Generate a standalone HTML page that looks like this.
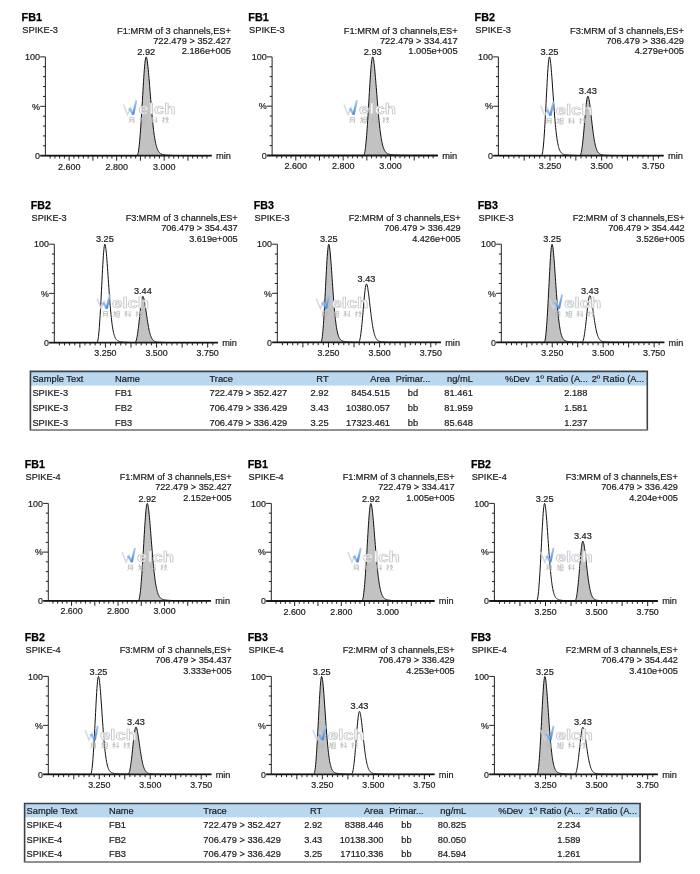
<!DOCTYPE html>
<html><head><meta charset="utf-8"><title>Chromatograms</title>
<style>html,body{margin:0;padding:0;background:#fff;width:700px;height:874px;overflow:hidden}
svg{display:block;font-family:"Liberation Sans", sans-serif;will-change:transform}</style></head>
<body><svg width="700" height="874" viewBox="0 0 700 874">
<defs><filter id="soft" x="0" y="0" width="700" height="874" filterUnits="userSpaceOnUse"><feGaussianBlur stdDeviation="0.45"/></filter></defs>
<rect width="700" height="874" fill="#fff"/>
<g filter="url(#soft)">
<text x="21.6" y="20.9" font-size="10.8" font-weight="bold" fill="#000" stroke="#000" stroke-width="0.25">FB1</text>
<text transform="translate(22.3,33.3) scale(1,1.06)" x="0" y="0" font-size="9.3" fill="#1a1a1a" stroke="#1a1a1a" stroke-width="0.2">SPIKE-3</text>
<text transform="translate(231,33.5) scale(1,1.06)" x="0" y="0" font-size="9.3" text-anchor="end" fill="#1a1a1a" stroke="#1a1a1a" stroke-width="0.2">F1:MRM of 3 channels,ES+</text>
<text transform="translate(231,43.7) scale(1,1.06)" x="0" y="0" font-size="9.3" text-anchor="end" fill="#1a1a1a" stroke="#1a1a1a" stroke-width="0.2">722.479 &gt; 352.427</text>
<text transform="translate(231,54.4) scale(1,1.06)" x="0" y="0" font-size="9.3" text-anchor="end" fill="#1a1a1a" stroke="#1a1a1a" stroke-width="0.2">2.186e+005</text>
<polygon points="135.22,155.7 135.48,155.7 135.76,155.7 136.03,155.7 136.31,155.69 136.59,155.66 136.86,155.58 137.14,155.4 137.42,155.07 137.7,154.5 137.97,153.65 138.25,152.46 138.53,150.91 138.81,149 139.08,146.73 139.36,144.13 139.64,141.23 139.91,138.05 140.19,134.61 140.47,130.95 140.75,127.07 141.02,122.99 141.3,118.73 141.58,114.32 141.85,109.76 142.13,105.11 142.41,100.38 142.69,95.63 142.96,90.9 143.24,86.24 143.52,81.72 143.79,77.4 144.07,73.35 144.35,69.61 144.63,66.26 144.9,63.36 145.18,60.94 145.46,59.07 145.73,57.76 146.01,57.04 146.29,56.95 146.57,57.51 146.84,58.57 147.12,60.06 147.4,61.91 147.67,64.09 147.95,66.57 148.23,69.3 148.51,72.24 148.78,75.37 149.06,78.64 149.34,82.02 149.61,85.49 149.89,89.01 150.17,92.55 150.45,96.08 150.72,99.59 151,103.05 151.28,106.43 151.55,109.73 151.83,112.93 152.11,116.01 152.39,118.97 152.66,121.79 152.94,124.47 153.22,127.01 153.49,129.4 153.77,131.65 154.05,133.75 154.33,135.7 154.6,137.52 154.88,139.2 155.16,140.74 155.44,142.16 155.71,143.46 155.99,144.65 156.27,145.73 156.54,146.71 156.82,147.59 157.1,148.39 157.38,149.11 157.65,149.76 157.93,150.34 158.21,150.86 158.48,151.32 158.76,151.74 159.04,152.1 159.32,152.43 159.59,152.72 159.87,152.98 160.15,153.21 160.42,153.41 160.7,153.59 160.98,153.75 161.26,153.9 161.53,154.03 161.81,154.14 162.09,154.24 162.36,154.33 162.64,154.42 162.92,154.49 163.2,154.56 163.47,154.62 163.75,154.68 164.03,154.73 164.3,154.78 164.58,154.82 164.86,154.86 165.14,154.9 165.41,154.93 165.69,154.97 165.97,155 166.24,155.03 166.52,155.06 166.8,155.08 167.08,155.11 167.35,155.13 167.63,155.15 167.91,155.17 168.18,155.2 168.46,155.21 168.74,155.23 169.02,155.25 169.29,155.27 169.57,155.29 169.85,155.3 170.12,155.32 170.4,155.33 170.68,155.35 170.96,155.36 171.23,155.37 171.51,155.38 171.79,155.4 171.86,155.7" fill="#c2c2c2" stroke="none"/>
<path d="M40.2,155.7H45.4M43,145.82H45.4M43,135.94H45.4M43,126.06H45.4M43,116.18H45.4M40.2,106.3H45.4M43,96.42H45.4M43,86.54H45.4M43,76.66H45.4M43,66.78H45.4M40.2,56.9H45.4M45.4,56.9V155.7" stroke="#222" stroke-width="1" fill="none"/>
<path d="M50.15,155.7V158.5M54.9,155.7V158.5M59.65,155.7V158.5M64.41,155.7V158.5M69.16,155.7V160.7M73.91,155.7V158.5M78.66,155.7V158.5M83.41,155.7V158.5M88.16,155.7V158.5M92.91,155.7V160.7M97.67,155.7V158.5M102.42,155.7V158.5M107.17,155.7V158.5M111.92,155.7V158.5M116.67,155.7V160.7M121.42,155.7V158.5M126.17,155.7V158.5M130.93,155.7V158.5M135.68,155.7V158.5M140.43,155.7V160.7M145.18,155.7V158.5M149.93,155.7V158.5M154.68,155.7V158.5M159.43,155.7V158.5M164.19,155.7V160.7M168.94,155.7V158.5M173.69,155.7V158.5M178.44,155.7V158.5M183.19,155.7V158.5M187.94,155.7V160.7M192.69,155.7V158.5M197.45,155.7V158.5M202.2,155.7V158.5M206.95,155.7V158.5" stroke="#222" stroke-width="1" fill="none"/>
<path d="M40.4,155.7H211.7" stroke="#1a1a1a" stroke-width="1.8" fill="none"/>
<polyline points="45.4,155.7 45.68,155.7 45.95,155.7 46.23,155.7 46.51,155.7 46.79,155.7 47.06,155.7 47.34,155.7 47.62,155.7 47.89,155.7 48.17,155.7 48.45,155.7 48.73,155.7 49,155.7 49.28,155.7 49.56,155.7 49.83,155.7 50.11,155.7 50.39,155.7 50.67,155.7 50.94,155.7 51.22,155.7 51.5,155.7 51.77,155.7 52.05,155.7 52.33,155.7 52.61,155.7 52.88,155.7 53.16,155.7 53.44,155.7 53.71,155.7 53.99,155.7 54.27,155.7 54.55,155.7 54.82,155.7 55.1,155.7 55.38,155.7 55.66,155.7 55.93,155.7 56.21,155.7 56.49,155.7 56.76,155.7 57.04,155.7 57.32,155.7 57.6,155.7 57.87,155.7 58.15,155.7 58.43,155.7 58.7,155.7 58.98,155.7 59.26,155.7 59.54,155.7 59.81,155.7 60.09,155.7 60.37,155.7 60.64,155.7 60.92,155.7 61.2,155.7 61.48,155.7 61.75,155.7 62.03,155.7 62.31,155.7 62.58,155.7 62.86,155.7 63.14,155.7 63.42,155.7 63.69,155.7 63.97,155.7 64.25,155.7 64.52,155.7 64.8,155.7 65.08,155.7 65.36,155.7 65.63,155.7 65.91,155.7 66.19,155.7 66.46,155.7 66.74,155.7 67.02,155.7 67.3,155.7 67.57,155.7 67.85,155.7 68.13,155.7 68.4,155.7 68.68,155.7 68.96,155.7 69.24,155.7 69.51,155.7 69.79,155.7 70.07,155.7 70.34,155.7 70.62,155.7 70.9,155.7 71.18,155.7 71.45,155.7 71.73,155.7 72.01,155.7 72.29,155.7 72.56,155.7 72.84,155.7 73.12,155.7 73.39,155.7 73.67,155.7 73.95,155.7 74.23,155.7 74.5,155.7 74.78,155.7 75.06,155.7 75.33,155.7 75.61,155.7 75.89,155.7 76.17,155.7 76.44,155.7 76.72,155.7 77,155.7 77.27,155.7 77.55,155.7 77.83,155.7 78.11,155.7 78.38,155.7 78.66,155.7 78.94,155.7 79.21,155.7 79.49,155.7 79.77,155.7 80.05,155.7 80.32,155.7 80.6,155.7 80.88,155.7 81.15,155.7 81.43,155.7 81.71,155.7 81.99,155.7 82.26,155.7 82.54,155.7 82.82,155.7 83.09,155.7 83.37,155.7 83.65,155.7 83.93,155.7 84.2,155.7 84.48,155.7 84.76,155.7 85.03,155.7 85.31,155.7 85.59,155.7 85.87,155.7 86.14,155.7 86.42,155.7 86.7,155.7 86.97,155.7 87.25,155.7 87.53,155.7 87.81,155.7 88.08,155.7 88.36,155.7 88.64,155.7 88.92,155.7 89.19,155.7 89.47,155.7 89.75,155.7 90.02,155.7 90.3,155.7 90.58,155.7 90.86,155.7 91.13,155.7 91.41,155.7 91.69,155.7 91.96,155.7 92.24,155.7 92.52,155.7 92.8,155.7 93.07,155.7 93.35,155.7 93.63,155.7 93.9,155.7 94.18,155.7 94.46,155.7 94.74,155.7 95.01,155.7 95.29,155.7 95.57,155.7 95.84,155.7 96.12,155.7 96.4,155.7 96.68,155.7 96.95,155.7 97.23,155.7 97.51,155.7 97.78,155.7 98.06,155.7 98.34,155.7 98.62,155.7 98.89,155.7 99.17,155.7 99.45,155.7 99.72,155.7 100,155.7 100.28,155.7 100.56,155.7 100.83,155.7 101.11,155.7 101.39,155.7 101.66,155.7 101.94,155.7 102.22,155.7 102.5,155.7 102.77,155.7 103.05,155.7 103.33,155.7 103.6,155.7 103.88,155.7 104.16,155.7 104.44,155.7 104.71,155.7 104.99,155.7 105.27,155.7 105.55,155.7 105.82,155.7 106.1,155.7 106.38,155.7 106.65,155.7 106.93,155.7 107.21,155.7 107.49,155.7 107.76,155.7 108.04,155.7 108.32,155.7 108.59,155.7 108.87,155.7 109.15,155.7 109.43,155.7 109.7,155.7 109.98,155.7 110.26,155.7 110.53,155.7 110.81,155.7 111.09,155.7 111.37,155.7 111.64,155.7 111.92,155.7 112.2,155.7 112.47,155.7 112.75,155.7 113.03,155.7 113.31,155.7 113.58,155.7 113.86,155.7 114.14,155.7 114.41,155.7 114.69,155.7 114.97,155.7 115.25,155.7 115.52,155.7 115.8,155.7 116.08,155.7 116.35,155.7 116.63,155.7 116.91,155.7 117.19,155.7 117.46,155.7 117.74,155.7 118.02,155.7 118.29,155.7 118.57,155.7 118.85,155.7 119.13,155.7 119.4,155.7 119.68,155.7 119.96,155.7 120.23,155.7 120.51,155.7 120.79,155.7 121.07,155.7 121.34,155.7 121.62,155.7 121.9,155.7 122.18,155.7 122.45,155.7 122.73,155.7 123.01,155.7 123.28,155.7 123.56,155.7 123.84,155.7 124.12,155.7 124.39,155.7 124.67,155.7 124.95,155.7 125.22,155.7 125.5,155.7 125.78,155.7 126.06,155.7 126.33,155.7 126.61,155.7 126.89,155.7 127.16,155.7 127.44,155.7 127.72,155.7 128,155.7 128.27,155.7 128.55,155.7 128.83,155.7 129.1,155.7 129.38,155.7 129.66,155.7 129.94,155.7 130.21,155.7 130.49,155.7 130.77,155.7 131.04,155.7 131.32,155.7 131.6,155.7 131.88,155.7 132.15,155.7 132.43,155.7 132.71,155.7 132.98,155.7 133.26,155.7 133.54,155.7 133.82,155.7 134.09,155.7 134.37,155.7 134.65,155.7 134.92,155.7 135.2,155.7 135.48,155.7 135.76,155.7 136.03,155.7 136.31,155.69 136.59,155.66 136.86,155.58 137.14,155.4 137.42,155.07 137.7,154.5 137.97,153.65 138.25,152.46 138.53,150.91 138.81,149 139.08,146.73 139.36,144.13 139.64,141.23 139.91,138.05 140.19,134.61 140.47,130.95 140.75,127.07 141.02,122.99 141.3,118.73 141.58,114.32 141.85,109.76 142.13,105.11 142.41,100.38 142.69,95.63 142.96,90.9 143.24,86.24 143.52,81.72 143.79,77.4 144.07,73.35 144.35,69.61 144.63,66.26 144.9,63.36 145.18,60.94 145.46,59.07 145.73,57.76 146.01,57.04 146.29,56.95 146.57,57.51 146.84,58.57 147.12,60.06 147.4,61.91 147.67,64.09 147.95,66.57 148.23,69.3 148.51,72.24 148.78,75.37 149.06,78.64 149.34,82.02 149.61,85.49 149.89,89.01 150.17,92.55 150.45,96.08 150.72,99.59 151,103.05 151.28,106.43 151.55,109.73 151.83,112.93 152.11,116.01 152.39,118.97 152.66,121.79 152.94,124.47 153.22,127.01 153.49,129.4 153.77,131.65 154.05,133.75 154.33,135.7 154.6,137.52 154.88,139.2 155.16,140.74 155.44,142.16 155.71,143.46 155.99,144.65 156.27,145.73 156.54,146.71 156.82,147.59 157.1,148.39 157.38,149.11 157.65,149.76 157.93,150.34 158.21,150.86 158.48,151.32 158.76,151.74 159.04,152.1 159.32,152.43 159.59,152.72 159.87,152.98 160.15,153.21 160.42,153.41 160.7,153.59 160.98,153.75 161.26,153.9 161.53,154.03 161.81,154.14 162.09,154.24 162.36,154.33 162.64,154.42 162.92,154.49 163.2,154.56 163.47,154.62 163.75,154.68 164.03,154.73 164.3,154.78 164.58,154.82 164.86,154.86 165.14,154.9 165.41,154.93 165.69,154.97 165.97,155 166.24,155.03 166.52,155.06 166.8,155.08 167.08,155.11 167.35,155.13 167.63,155.15 167.91,155.17 168.18,155.2 168.46,155.21 168.74,155.23 169.02,155.25 169.29,155.27 169.57,155.29 169.85,155.3 170.12,155.32 170.4,155.33 170.68,155.35 170.96,155.36 171.23,155.37 171.51,155.38 171.79,155.4 172.07,155.41 172.34,155.42 172.62,155.43 172.9,155.44 173.17,155.45 173.45,155.46 173.73,155.47 174.01,155.48 174.28,155.49 174.56,155.49 174.84,155.5 175.11,155.51 175.39,155.52 175.67,155.52 175.95,155.53 176.22,155.54 176.5,155.54 176.78,155.55 177.05,155.56 177.33,155.56 177.61,155.57 177.89,155.57 178.16,155.58 178.44,155.58 178.72,155.59 178.99,155.59 179.27,155.59 179.55,155.6 179.83,155.6 180.1,155.61 180.38,155.61 180.66,155.61 180.93,155.62 181.21,155.62 181.49,155.62 181.77,155.63 182.04,155.63 182.32,155.63 182.6,155.63 182.87,155.64 183.15,155.64 183.43,155.64 183.71,155.64 183.98,155.65 184.26,155.65 184.54,155.65 184.81,155.65 185.09,155.65 185.37,155.65 185.65,155.66 185.92,155.66 186.2,155.66 186.48,155.66 186.75,155.66 187.03,155.66 187.31,155.67 187.59,155.67 187.86,155.67 188.14,155.67 188.42,155.67 188.7,155.67 188.97,155.67 189.25,155.67 189.53,155.67 189.8,155.68 190.08,155.68 190.36,155.68 190.64,155.68 190.91,155.68 191.19,155.68 191.47,155.68 191.74,155.68 192.02,155.68 192.3,155.68 192.58,155.68 192.85,155.68 193.13,155.68 193.41,155.69 193.68,155.69 193.96,155.69 194.24,155.69 194.52,155.69 194.79,155.69 195.07,155.69 195.35,155.69 195.62,155.69 195.9,155.69 196.18,155.69 196.46,155.69 196.73,155.69 197.01,155.69 197.29,155.69 197.56,155.69 197.84,155.69 198.12,155.69 198.4,155.69 198.67,155.69 198.95,155.69 199.23,155.69 199.5,155.69 199.78,155.69 200.06,155.69 200.34,155.69 200.61,155.69 200.89,155.69 201.17,155.7 201.44,155.7 201.72,155.7 202,155.7 202.28,155.7 202.55,155.7 202.83,155.7 203.11,155.7 203.38,155.7 203.66,155.7 203.94,155.7 204.22,155.7 204.49,155.7 204.77,155.7 205.05,155.7 205.33,155.7 205.6,155.7 205.88,155.7 206.16,155.7 206.43,155.7 206.71,155.7 206.99,155.7 207.27,155.7 207.54,155.7 207.82,155.7 208.1,155.7 208.37,155.7 208.65,155.7 208.93,155.7 209.21,155.7 209.48,155.7 209.76,155.7 210.04,155.7 210.31,155.7 210.59,155.7 210.87,155.7 211.15,155.7 211.42,155.7 211.7,155.7" fill="none" stroke="#111" stroke-width="1"/>
<text transform="translate(40,60.1) scale(1,1.06)" x="0" y="0" font-size="9" text-anchor="end" fill="#1a1a1a" stroke="#1a1a1a" stroke-width="0.2">100</text>
<text transform="translate(40,109.5) scale(1,1.06)" x="0" y="0" font-size="9" text-anchor="end" fill="#1a1a1a" stroke="#1a1a1a" stroke-width="0.2">%</text>
<text transform="translate(40,159.1) scale(1,1.06)" x="0" y="0" font-size="9" text-anchor="end" fill="#1a1a1a" stroke="#1a1a1a" stroke-width="0.2">0</text>
<text transform="translate(69.16,169.5) scale(1,1.06)" x="0" y="0" font-size="9" text-anchor="middle" fill="#1a1a1a" stroke="#1a1a1a" stroke-width="0.2">2.600</text>
<text transform="translate(116.67,169.5) scale(1,1.06)" x="0" y="0" font-size="9" text-anchor="middle" fill="#1a1a1a" stroke="#1a1a1a" stroke-width="0.2">2.800</text>
<text transform="translate(164.19,169.5) scale(1,1.06)" x="0" y="0" font-size="9" text-anchor="middle" fill="#1a1a1a" stroke="#1a1a1a" stroke-width="0.2">3.000</text>
<text transform="translate(216,159) scale(1,1.06)" x="0" y="0" font-size="9.3" fill="#1a1a1a" stroke="#1a1a1a" stroke-width="0.2">min</text>
<text transform="translate(146.2,55) scale(1,1.06)" x="0" y="0" font-size="9.3" text-anchor="middle" fill="#1a1a1a" stroke="#1a1a1a" stroke-width="0.2">2.92</text>
<text x="248.3" y="20.9" font-size="10.8" font-weight="bold" fill="#000" stroke="#000" stroke-width="0.25">FB1</text>
<text transform="translate(249,33.3) scale(1,1.06)" x="0" y="0" font-size="9.3" fill="#1a1a1a" stroke="#1a1a1a" stroke-width="0.2">SPIKE-3</text>
<text transform="translate(457.7,33.5) scale(1,1.06)" x="0" y="0" font-size="9.3" text-anchor="end" fill="#1a1a1a" stroke="#1a1a1a" stroke-width="0.2">F1:MRM of 3 channels,ES+</text>
<text transform="translate(457.7,43.7) scale(1,1.06)" x="0" y="0" font-size="9.3" text-anchor="end" fill="#1a1a1a" stroke="#1a1a1a" stroke-width="0.2">722.479 &gt; 334.417</text>
<text transform="translate(457.7,54.4) scale(1,1.06)" x="0" y="0" font-size="9.3" text-anchor="end" fill="#1a1a1a" stroke="#1a1a1a" stroke-width="0.2">1.005e+005</text>
<polygon points="361.76,155.5 361.91,155.5 362.18,155.5 362.46,155.5 362.74,155.49 363.01,155.47 363.29,155.41 363.57,155.28 363.84,155.01 364.12,154.55 364.4,153.81 364.67,152.75 364.95,151.34 365.22,149.57 365.5,147.43 365.78,144.96 366.05,142.17 366.33,139.1 366.61,135.76 366.88,132.19 367.16,128.4 367.44,124.4 367.71,120.21 367.99,115.86 368.26,111.37 368.54,106.75 368.82,102.06 369.09,97.32 369.37,92.58 369.65,87.9 369.92,83.34 370.2,78.94 370.47,74.79 370.75,70.93 371.03,67.44 371.3,64.37 371.58,61.77 371.86,59.7 372.13,58.17 372.41,57.24 372.69,56.9 372.96,57.24 373.24,58.12 373.51,59.45 373.79,61.17 374.07,63.23 374.34,65.6 374.62,68.23 374.9,71.09 375.17,74.15 375.45,77.36 375.73,80.7 376,84.13 376.28,87.63 376.55,91.16 376.83,94.69 377.11,98.2 377.38,101.67 377.66,105.08 377.94,108.41 378.21,111.64 378.49,114.76 378.76,117.76 379.04,120.62 379.32,123.35 379.59,125.94 379.87,128.38 380.15,130.68 380.42,132.83 380.7,134.83 380.98,136.7 381.25,138.42 381.53,140.01 381.8,141.48 382.08,142.82 382.36,144.04 382.63,145.16 382.91,146.17 383.19,147.09 383.46,147.92 383.74,148.67 384.01,149.34 384.29,149.94 384.57,150.48 384.84,150.97 385.12,151.4 385.4,151.78 385.67,152.12 385.95,152.42 386.23,152.69 386.5,152.93 386.78,153.14 387.05,153.33 387.33,153.5 387.61,153.65 387.88,153.78 388.16,153.9 388.44,154.01 388.71,154.1 388.99,154.19 389.27,154.27 389.54,154.34 389.82,154.4 390.09,154.46 390.37,154.51 390.65,154.56 390.92,154.61 391.2,154.65 391.48,154.69 391.75,154.72 392.03,154.76 392.31,154.79 392.58,154.82 392.86,154.85 393.13,154.87 393.41,154.9 393.69,154.92 393.96,154.95 394.24,154.97 394.52,154.99 394.79,155.01 395.07,155.03 395.34,155.05 395.62,155.06 395.9,155.08 396.17,155.1 396.45,155.11 396.73,155.13 397,155.14 397.28,155.16 397.56,155.17 397.83,155.18 398.11,155.19 398.28,155.5" fill="#c2c2c2" stroke="none"/>
<path d="M266.9,155.5H272.1M269.7,145.64H272.1M269.7,135.78H272.1M269.7,125.92H272.1M269.7,116.06H272.1M266.9,106.2H272.1M269.7,96.34H272.1M269.7,86.48H272.1M269.7,76.62H272.1M269.7,66.76H272.1M266.9,56.9H272.1M272.1,56.9V155.5" stroke="#222" stroke-width="1" fill="none"/>
<path d="M276.84,155.5V158.3M281.57,155.5V158.3M286.31,155.5V158.3M291.05,155.5V158.3M295.79,155.5V160.5M300.52,155.5V158.3M305.26,155.5V158.3M310,155.5V158.3M314.73,155.5V158.3M319.47,155.5V160.5M324.21,155.5V158.3M328.95,155.5V158.3M333.68,155.5V158.3M338.42,155.5V158.3M343.16,155.5V160.5M347.89,155.5V158.3M352.63,155.5V158.3M357.37,155.5V158.3M362.11,155.5V158.3M366.84,155.5V160.5M371.58,155.5V158.3M376.32,155.5V158.3M381.05,155.5V158.3M385.79,155.5V158.3M390.53,155.5V160.5M395.27,155.5V158.3M400,155.5V158.3M404.74,155.5V158.3M409.48,155.5V158.3M414.21,155.5V160.5M418.95,155.5V158.3M423.69,155.5V158.3M428.43,155.5V158.3M433.16,155.5V158.3" stroke="#222" stroke-width="1" fill="none"/>
<path d="M267.1,155.5H437.9" stroke="#1a1a1a" stroke-width="1.8" fill="none"/>
<polyline points="272.1,155.5 272.38,155.5 272.65,155.5 272.93,155.5 273.21,155.5 273.48,155.5 273.76,155.5 274.03,155.5 274.31,155.5 274.59,155.5 274.86,155.5 275.14,155.5 275.42,155.5 275.69,155.5 275.97,155.5 276.25,155.5 276.52,155.5 276.8,155.5 277.07,155.5 277.35,155.5 277.63,155.5 277.9,155.5 278.18,155.5 278.46,155.5 278.73,155.5 279.01,155.5 279.28,155.5 279.56,155.5 279.84,155.5 280.11,155.5 280.39,155.5 280.67,155.5 280.94,155.5 281.22,155.5 281.5,155.5 281.77,155.5 282.05,155.5 282.32,155.5 282.6,155.5 282.88,155.5 283.15,155.5 283.43,155.5 283.71,155.5 283.98,155.5 284.26,155.5 284.54,155.5 284.81,155.5 285.09,155.5 285.36,155.5 285.64,155.5 285.92,155.5 286.19,155.5 286.47,155.5 286.75,155.5 287.02,155.5 287.3,155.5 287.57,155.5 287.85,155.5 288.13,155.5 288.4,155.5 288.68,155.5 288.96,155.5 289.23,155.5 289.51,155.5 289.79,155.5 290.06,155.5 290.34,155.5 290.61,155.5 290.89,155.5 291.17,155.5 291.44,155.5 291.72,155.5 292,155.5 292.27,155.5 292.55,155.5 292.83,155.5 293.1,155.5 293.38,155.5 293.65,155.5 293.93,155.5 294.21,155.5 294.48,155.5 294.76,155.5 295.04,155.5 295.31,155.5 295.59,155.5 295.86,155.5 296.14,155.5 296.42,155.5 296.69,155.5 296.97,155.5 297.25,155.5 297.52,155.5 297.8,155.5 298.08,155.5 298.35,155.5 298.63,155.5 298.9,155.5 299.18,155.5 299.46,155.5 299.73,155.5 300.01,155.5 300.29,155.5 300.56,155.5 300.84,155.5 301.12,155.5 301.39,155.5 301.67,155.5 301.94,155.5 302.22,155.5 302.5,155.5 302.77,155.5 303.05,155.5 303.33,155.5 303.6,155.5 303.88,155.5 304.15,155.5 304.43,155.5 304.71,155.5 304.98,155.5 305.26,155.5 305.54,155.5 305.81,155.5 306.09,155.5 306.37,155.5 306.64,155.5 306.92,155.5 307.19,155.5 307.47,155.5 307.75,155.5 308.02,155.5 308.3,155.5 308.58,155.5 308.85,155.5 309.13,155.5 309.41,155.5 309.68,155.5 309.96,155.5 310.23,155.5 310.51,155.5 310.79,155.5 311.06,155.5 311.34,155.5 311.62,155.5 311.89,155.5 312.17,155.5 312.44,155.5 312.72,155.5 313,155.5 313.27,155.5 313.55,155.5 313.83,155.5 314.1,155.5 314.38,155.5 314.66,155.5 314.93,155.5 315.21,155.5 315.48,155.5 315.76,155.5 316.04,155.5 316.31,155.5 316.59,155.5 316.87,155.5 317.14,155.5 317.42,155.5 317.69,155.5 317.97,155.5 318.25,155.5 318.52,155.5 318.8,155.5 319.08,155.5 319.35,155.5 319.63,155.5 319.91,155.5 320.18,155.5 320.46,155.5 320.73,155.5 321.01,155.5 321.29,155.5 321.56,155.5 321.84,155.5 322.12,155.5 322.39,155.5 322.67,155.5 322.95,155.5 323.22,155.5 323.5,155.5 323.77,155.5 324.05,155.5 324.33,155.5 324.6,155.5 324.88,155.5 325.16,155.5 325.43,155.5 325.71,155.5 325.99,155.5 326.26,155.5 326.54,155.5 326.81,155.5 327.09,155.5 327.37,155.5 327.64,155.5 327.92,155.5 328.2,155.5 328.47,155.5 328.75,155.5 329.02,155.5 329.3,155.5 329.58,155.5 329.85,155.5 330.13,155.5 330.41,155.5 330.68,155.5 330.96,155.5 331.24,155.5 331.51,155.5 331.79,155.5 332.06,155.5 332.34,155.5 332.62,155.5 332.89,155.5 333.17,155.5 333.45,155.5 333.72,155.5 334,155.5 334.27,155.5 334.55,155.5 334.83,155.5 335.1,155.5 335.38,155.5 335.66,155.5 335.93,155.5 336.21,155.5 336.49,155.5 336.76,155.5 337.04,155.5 337.31,155.5 337.59,155.5 337.87,155.5 338.14,155.5 338.42,155.5 338.7,155.5 338.97,155.5 339.25,155.5 339.53,155.5 339.8,155.5 340.08,155.5 340.35,155.5 340.63,155.5 340.91,155.5 341.18,155.5 341.46,155.5 341.74,155.5 342.01,155.5 342.29,155.5 342.56,155.5 342.84,155.5 343.12,155.5 343.39,155.5 343.67,155.5 343.95,155.5 344.22,155.5 344.5,155.5 344.78,155.5 345.05,155.5 345.33,155.5 345.6,155.5 345.88,155.5 346.16,155.5 346.43,155.5 346.71,155.5 346.99,155.5 347.26,155.5 347.54,155.5 347.82,155.5 348.09,155.5 348.37,155.5 348.64,155.5 348.92,155.5 349.2,155.5 349.47,155.5 349.75,155.5 350.03,155.5 350.3,155.5 350.58,155.5 350.86,155.5 351.13,155.5 351.41,155.5 351.68,155.5 351.96,155.5 352.24,155.5 352.51,155.5 352.79,155.5 353.07,155.5 353.34,155.5 353.62,155.5 353.89,155.5 354.17,155.5 354.45,155.5 354.72,155.5 355,155.5 355.28,155.5 355.55,155.5 355.83,155.5 356.11,155.5 356.38,155.5 356.66,155.5 356.93,155.5 357.21,155.5 357.49,155.5 357.76,155.5 358.04,155.5 358.32,155.5 358.59,155.5 358.87,155.5 359.14,155.5 359.42,155.5 359.7,155.5 359.97,155.5 360.25,155.5 360.53,155.5 360.8,155.5 361.08,155.5 361.36,155.5 361.63,155.5 361.91,155.5 362.18,155.5 362.46,155.5 362.74,155.49 363.01,155.47 363.29,155.41 363.57,155.28 363.84,155.01 364.12,154.55 364.4,153.81 364.67,152.75 364.95,151.34 365.22,149.57 365.5,147.43 365.78,144.96 366.05,142.17 366.33,139.1 366.61,135.76 366.88,132.19 367.16,128.4 367.44,124.4 367.71,120.21 367.99,115.86 368.26,111.37 368.54,106.75 368.82,102.06 369.09,97.32 369.37,92.58 369.65,87.9 369.92,83.34 370.2,78.94 370.47,74.79 370.75,70.93 371.03,67.44 371.3,64.37 371.58,61.77 371.86,59.7 372.13,58.17 372.41,57.24 372.69,56.9 372.96,57.24 373.24,58.12 373.51,59.45 373.79,61.17 374.07,63.23 374.34,65.6 374.62,68.23 374.9,71.09 375.17,74.15 375.45,77.36 375.73,80.7 376,84.13 376.28,87.63 376.55,91.16 376.83,94.69 377.11,98.2 377.38,101.67 377.66,105.08 377.94,108.41 378.21,111.64 378.49,114.76 378.76,117.76 379.04,120.62 379.32,123.35 379.59,125.94 379.87,128.38 380.15,130.68 380.42,132.83 380.7,134.83 380.98,136.7 381.25,138.42 381.53,140.01 381.8,141.48 382.08,142.82 382.36,144.04 382.63,145.16 382.91,146.17 383.19,147.09 383.46,147.92 383.74,148.67 384.01,149.34 384.29,149.94 384.57,150.48 384.84,150.97 385.12,151.4 385.4,151.78 385.67,152.12 385.95,152.42 386.23,152.69 386.5,152.93 386.78,153.14 387.05,153.33 387.33,153.5 387.61,153.65 387.88,153.78 388.16,153.9 388.44,154.01 388.71,154.1 388.99,154.19 389.27,154.27 389.54,154.34 389.82,154.4 390.09,154.46 390.37,154.51 390.65,154.56 390.92,154.61 391.2,154.65 391.48,154.69 391.75,154.72 392.03,154.76 392.31,154.79 392.58,154.82 392.86,154.85 393.13,154.87 393.41,154.9 393.69,154.92 393.96,154.95 394.24,154.97 394.52,154.99 394.79,155.01 395.07,155.03 395.34,155.05 395.62,155.06 395.9,155.08 396.17,155.1 396.45,155.11 396.73,155.13 397,155.14 397.28,155.16 397.56,155.17 397.83,155.18 398.11,155.19 398.38,155.2 398.66,155.22 398.94,155.23 399.21,155.24 399.49,155.25 399.77,155.26 400.04,155.27 400.32,155.28 400.6,155.28 400.87,155.29 401.15,155.3 401.42,155.31 401.7,155.32 401.98,155.32 402.25,155.33 402.53,155.34 402.81,155.34 403.08,155.35 403.36,155.35 403.63,155.36 403.91,155.36 404.19,155.37 404.46,155.37 404.74,155.38 405.02,155.38 405.29,155.39 405.57,155.39 405.85,155.4 406.12,155.4 406.4,155.4 406.67,155.41 406.95,155.41 407.23,155.42 407.5,155.42 407.78,155.42 408.06,155.42 408.33,155.43 408.61,155.43 408.88,155.43 409.16,155.44 409.44,155.44 409.71,155.44 409.99,155.44 410.27,155.44 410.54,155.45 410.82,155.45 411.1,155.45 411.37,155.45 411.65,155.45 411.92,155.46 412.2,155.46 412.48,155.46 412.75,155.46 413.03,155.46 413.31,155.46 413.58,155.47 413.86,155.47 414.14,155.47 414.41,155.47 414.69,155.47 414.96,155.47 415.24,155.47 415.52,155.47 415.79,155.47 416.07,155.48 416.35,155.48 416.62,155.48 416.9,155.48 417.17,155.48 417.45,155.48 417.73,155.48 418,155.48 418.28,155.48 418.56,155.48 418.83,155.48 419.11,155.48 419.39,155.48 419.66,155.49 419.94,155.49 420.21,155.49 420.49,155.49 420.77,155.49 421.04,155.49 421.32,155.49 421.6,155.49 421.87,155.49 422.15,155.49 422.43,155.49 422.7,155.49 422.98,155.49 423.25,155.49 423.53,155.49 423.81,155.49 424.08,155.49 424.36,155.49 424.64,155.49 424.91,155.49 425.19,155.49 425.46,155.49 425.74,155.49 426.02,155.49 426.29,155.49 426.57,155.49 426.85,155.49 427.12,155.49 427.4,155.5 427.68,155.5 427.95,155.5 428.23,155.5 428.5,155.5 428.78,155.5 429.06,155.5 429.33,155.5 429.61,155.5 429.89,155.5 430.16,155.5 430.44,155.5 430.72,155.5 430.99,155.5 431.27,155.5 431.54,155.5 431.82,155.5 432.1,155.5 432.37,155.5 432.65,155.5 432.93,155.5 433.2,155.5 433.48,155.5 433.75,155.5 434.03,155.5 434.31,155.5 434.58,155.5 434.86,155.5 435.14,155.5 435.41,155.5 435.69,155.5 435.97,155.5 436.24,155.5 436.52,155.5 436.79,155.5 437.07,155.5 437.35,155.5 437.62,155.5 437.9,155.5" fill="none" stroke="#111" stroke-width="1"/>
<text transform="translate(266.7,60.1) scale(1,1.06)" x="0" y="0" font-size="9" text-anchor="end" fill="#1a1a1a" stroke="#1a1a1a" stroke-width="0.2">100</text>
<text transform="translate(266.7,109.4) scale(1,1.06)" x="0" y="0" font-size="9" text-anchor="end" fill="#1a1a1a" stroke="#1a1a1a" stroke-width="0.2">%</text>
<text transform="translate(266.7,158.9) scale(1,1.06)" x="0" y="0" font-size="9" text-anchor="end" fill="#1a1a1a" stroke="#1a1a1a" stroke-width="0.2">0</text>
<text transform="translate(295.79,169.3) scale(1,1.06)" x="0" y="0" font-size="9" text-anchor="middle" fill="#1a1a1a" stroke="#1a1a1a" stroke-width="0.2">2.600</text>
<text transform="translate(343.16,169.3) scale(1,1.06)" x="0" y="0" font-size="9" text-anchor="middle" fill="#1a1a1a" stroke="#1a1a1a" stroke-width="0.2">2.800</text>
<text transform="translate(390.53,169.3) scale(1,1.06)" x="0" y="0" font-size="9" text-anchor="middle" fill="#1a1a1a" stroke="#1a1a1a" stroke-width="0.2">3.000</text>
<text transform="translate(442.2,158.8) scale(1,1.06)" x="0" y="0" font-size="9.3" fill="#1a1a1a" stroke="#1a1a1a" stroke-width="0.2">min</text>
<text transform="translate(372.7,55) scale(1,1.06)" x="0" y="0" font-size="9.3" text-anchor="middle" fill="#1a1a1a" stroke="#1a1a1a" stroke-width="0.2">2.93</text>
<text x="474.6" y="20.9" font-size="10.8" font-weight="bold" fill="#000" stroke="#000" stroke-width="0.25">FB2</text>
<text transform="translate(475.3,33.3) scale(1,1.06)" x="0" y="0" font-size="9.3" fill="#1a1a1a" stroke="#1a1a1a" stroke-width="0.2">SPIKE-3</text>
<text transform="translate(684,33.5) scale(1,1.06)" x="0" y="0" font-size="9.3" text-anchor="end" fill="#1a1a1a" stroke="#1a1a1a" stroke-width="0.2">F3:MRM of 3 channels,ES+</text>
<text transform="translate(684,43.7) scale(1,1.06)" x="0" y="0" font-size="9.3" text-anchor="end" fill="#1a1a1a" stroke="#1a1a1a" stroke-width="0.2">706.479 &gt; 336.429</text>
<text transform="translate(684,54.4) scale(1,1.06)" x="0" y="0" font-size="9.3" text-anchor="end" fill="#1a1a1a" stroke="#1a1a1a" stroke-width="0.2">4.279e+005</text>
<polygon points="578.36,155.6 578.52,155.5 578.8,155.5 579.07,155.51 579.35,155.5 579.62,155.48 579.9,155.4 580.17,155.23 580.45,154.9 580.72,154.36 581,153.55 581.28,152.46 581.55,151.09 581.83,149.44 582.1,147.54 582.38,145.41 582.65,143.09 582.93,140.58 583.2,137.9 583.48,135.06 583.75,132.09 584.03,129.01 584.3,125.83 584.58,122.59 584.85,119.32 585.13,116.08 585.41,112.9 585.68,109.85 585.96,106.97 586.23,104.33 586.51,101.98 586.78,99.98 587.06,98.36 587.33,97.17 587.61,96.43 587.88,96.16 588.16,96.42 588.43,97.09 588.71,98.1 588.98,99.4 589.26,100.96 589.54,102.73 589.81,104.69 590.09,106.8 590.36,109.03 590.64,111.36 590.91,113.75 591.19,116.17 591.46,118.6 591.74,121.03 592.01,123.41 592.29,125.75 592.56,128.02 592.84,130.21 593.11,132.31 593.39,134.3 593.67,136.19 593.94,137.97 594.22,139.63 594.49,141.18 594.77,142.61 595.04,143.93 595.32,145.14 595.59,146.25 595.87,147.25 596.14,148.16 596.42,148.98 596.69,149.71 596.97,150.37 597.24,150.95 597.52,151.47 597.8,151.93 598.07,152.34 598.35,152.7 598.62,153.01 598.9,153.29 599.17,153.53 599.45,153.74 599.72,153.92 600,154.09 600.27,154.23 600.55,154.35 600.82,154.46 601.1,154.55 601.37,154.63 601.65,154.71 601.93,154.77 602.2,154.83 602.48,154.88 602.75,154.92 603.03,154.97 603.3,155 603.58,155.04 603.85,155.07 604.13,155.09 604.4,155.12 604.68,155.14 604.95,155.17 605.23,155.19 605.5,155.21 605.78,155.23 606.06,155.24 606.33,155.26 606.61,155.27 606.88,155.29 607.16,155.3 607.43,155.32 607.71,155.33 607.98,155.34 608.26,155.35 608.53,155.36 608.81,155.37 609.08,155.38 609.36,155.39 609.63,155.4 609.91,155.41 610.19,155.42 610.2,155.6" fill="#c2c2c2" stroke="none"/>
<path d="M493.2,155.6H498.4M496,145.73H498.4M496,135.86H498.4M496,125.99H498.4M496,116.12H498.4M493.2,106.25H498.4M496,96.38H498.4M496,86.51H498.4M496,76.64H498.4M496,66.77H498.4M493.2,56.9H498.4M498.4,56.9V155.6" stroke="#222" stroke-width="1" fill="none"/>
<path d="M503.56,155.6V158.4M508.72,155.6V158.4M513.89,155.6V158.4M519.05,155.6V158.4M524.21,155.6V160.6M529.38,155.6V158.4M534.54,155.6V158.4M539.7,155.6V158.4M544.86,155.6V158.4M550.02,155.6V160.6M555.19,155.6V158.4M560.35,155.6V158.4M565.51,155.6V158.4M570.68,155.6V158.4M575.84,155.6V160.6M581,155.6V158.4M586.16,155.6V158.4M591.33,155.6V158.4M596.49,155.6V158.4M601.65,155.6V160.6M606.81,155.6V158.4M611.98,155.6V158.4M617.14,155.6V158.4M622.3,155.6V158.4M627.46,155.6V160.6M632.62,155.6V158.4M637.79,155.6V158.4M642.95,155.6V158.4M648.11,155.6V158.4M653.28,155.6V160.6M658.44,155.6V158.4" stroke="#222" stroke-width="1" fill="none"/>
<path d="M493.4,155.6H663.6" stroke="#1a1a1a" stroke-width="1.8" fill="none"/>
<polyline points="498.4,155.6 498.68,155.6 498.95,155.6 499.23,155.6 499.5,155.6 499.78,155.6 500.05,155.6 500.33,155.6 500.6,155.6 500.88,155.6 501.15,155.6 501.43,155.6 501.7,155.6 501.98,155.6 502.25,155.6 502.53,155.6 502.81,155.6 503.08,155.6 503.36,155.6 503.63,155.6 503.91,155.6 504.18,155.6 504.46,155.6 504.73,155.6 505.01,155.6 505.28,155.6 505.56,155.6 505.83,155.6 506.11,155.6 506.38,155.6 506.66,155.6 506.94,155.6 507.21,155.6 507.49,155.6 507.76,155.6 508.04,155.6 508.31,155.6 508.59,155.6 508.86,155.6 509.14,155.6 509.41,155.6 509.69,155.6 509.96,155.6 510.24,155.6 510.51,155.6 510.79,155.6 511.07,155.6 511.34,155.6 511.62,155.6 511.89,155.6 512.17,155.6 512.44,155.6 512.72,155.6 512.99,155.6 513.27,155.6 513.54,155.6 513.82,155.6 514.09,155.6 514.37,155.6 514.64,155.6 514.92,155.6 515.2,155.6 515.47,155.6 515.75,155.6 516.02,155.6 516.3,155.6 516.57,155.6 516.85,155.6 517.12,155.6 517.4,155.6 517.67,155.6 517.95,155.6 518.22,155.6 518.5,155.6 518.77,155.6 519.05,155.6 519.33,155.6 519.6,155.6 519.88,155.6 520.15,155.6 520.43,155.6 520.7,155.6 520.98,155.6 521.25,155.6 521.53,155.6 521.8,155.6 522.08,155.6 522.35,155.6 522.63,155.6 522.9,155.6 523.18,155.6 523.46,155.6 523.73,155.6 524.01,155.6 524.28,155.6 524.56,155.6 524.83,155.6 525.11,155.6 525.38,155.6 525.66,155.6 525.93,155.6 526.21,155.6 526.48,155.6 526.76,155.6 527.03,155.6 527.31,155.6 527.59,155.6 527.86,155.6 528.14,155.6 528.41,155.6 528.69,155.6 528.96,155.6 529.24,155.6 529.51,155.6 529.79,155.6 530.06,155.6 530.34,155.6 530.61,155.6 530.89,155.6 531.16,155.6 531.44,155.6 531.72,155.6 531.99,155.6 532.27,155.6 532.54,155.6 532.82,155.6 533.09,155.6 533.37,155.6 533.64,155.6 533.92,155.6 534.19,155.6 534.47,155.6 534.74,155.6 535.02,155.6 535.29,155.6 535.57,155.6 535.85,155.6 536.12,155.6 536.4,155.6 536.67,155.6 536.95,155.6 537.22,155.6 537.5,155.6 537.77,155.6 538.05,155.6 538.32,155.6 538.6,155.6 538.87,155.6 539.15,155.6 539.42,155.6 539.7,155.6 539.98,155.6 540.25,155.6 540.53,155.6 540.8,155.59 541.08,155.57 541.35,155.49 541.63,155.3 541.9,154.9 542.18,154.19 542.45,153.09 542.73,151.52 543,149.48 543.28,146.98 543.55,144.03 543.83,140.7 544.11,137 544.38,132.99 544.66,128.68 544.93,124.1 545.21,119.28 545.48,114.25 545.76,109.04 546.03,103.7 546.31,98.29 546.58,92.87 546.86,87.52 547.13,82.32 547.41,77.37 547.68,72.77 547.96,68.59 548.24,64.95 548.51,61.91 548.79,59.54 549.06,57.9 549.34,57.04 549.61,56.99 549.89,57.77 550.16,59.16 550.44,61.07 550.71,63.44 550.99,66.19 551.26,69.29 551.54,72.67 551.81,76.27 552.09,80.06 552.37,83.98 552.64,87.97 552.92,92.01 553.19,96.05 553.47,100.05 553.74,103.98 554.02,107.81 554.29,111.52 554.57,115.09 554.84,118.5 555.12,121.73 555.39,124.78 555.67,127.64 555.94,130.31 556.22,132.79 556.5,135.08 556.77,137.19 557.05,139.12 557.32,140.87 557.6,142.46 557.87,143.9 558.15,145.19 558.42,146.35 558.7,147.38 558.97,148.3 559.25,149.12 559.52,149.84 559.8,150.48 560.07,151.04 560.35,151.53 560.63,151.96 560.9,152.34 561.18,152.66 561.45,152.95 561.73,153.2 562,153.42 562.28,153.61 562.55,153.78 562.83,153.93 563.1,154.06 563.38,154.17 563.65,154.27 563.93,154.36 564.2,154.44 564.48,154.51 564.76,154.58 565.03,154.64 565.31,154.69 565.58,154.74 565.86,154.78 566.13,154.82 566.41,154.86 566.68,154.9 566.96,154.93 567.23,154.96 567.51,154.99 567.78,155.02 568.06,155.05 568.33,155.07 568.61,155.1 568.89,155.12 569.16,155.14 569.44,155.16 569.71,155.18 569.99,155.2 570.26,155.22 570.54,155.23 570.81,155.25 571.09,155.26 571.36,155.28 571.64,155.29 571.91,155.31 572.19,155.32 572.46,155.33 572.74,155.34 573.02,155.35 573.29,155.36 573.57,155.37 573.84,155.38 574.12,155.39 574.39,155.4 574.67,155.41 574.94,155.42 575.22,155.43 575.49,155.43 575.77,155.44 576.04,155.45 576.32,155.46 576.59,155.46 576.87,155.47 577.15,155.47 577.42,155.48 577.7,155.48 577.97,155.49 578.25,155.49 578.52,155.5 578.8,155.5 579.07,155.51 579.35,155.5 579.62,155.48 579.9,155.4 580.17,155.23 580.45,154.9 580.72,154.36 581,153.55 581.28,152.46 581.55,151.09 581.83,149.44 582.1,147.54 582.38,145.41 582.65,143.09 582.93,140.58 583.2,137.9 583.48,135.06 583.75,132.09 584.03,129.01 584.3,125.83 584.58,122.59 584.85,119.32 585.13,116.08 585.41,112.9 585.68,109.85 585.96,106.97 586.23,104.33 586.51,101.98 586.78,99.98 587.06,98.36 587.33,97.17 587.61,96.43 587.88,96.16 588.16,96.42 588.43,97.09 588.71,98.1 588.98,99.4 589.26,100.96 589.54,102.73 589.81,104.69 590.09,106.8 590.36,109.03 590.64,111.36 590.91,113.75 591.19,116.17 591.46,118.6 591.74,121.03 592.01,123.41 592.29,125.75 592.56,128.02 592.84,130.21 593.11,132.31 593.39,134.3 593.67,136.19 593.94,137.97 594.22,139.63 594.49,141.18 594.77,142.61 595.04,143.93 595.32,145.14 595.59,146.25 595.87,147.25 596.14,148.16 596.42,148.98 596.69,149.71 596.97,150.37 597.24,150.95 597.52,151.47 597.8,151.93 598.07,152.34 598.35,152.7 598.62,153.01 598.9,153.29 599.17,153.53 599.45,153.74 599.72,153.92 600,154.09 600.27,154.23 600.55,154.35 600.82,154.46 601.1,154.55 601.37,154.63 601.65,154.71 601.93,154.77 602.2,154.83 602.48,154.88 602.75,154.92 603.03,154.97 603.3,155 603.58,155.04 603.85,155.07 604.13,155.09 604.4,155.12 604.68,155.14 604.95,155.17 605.23,155.19 605.5,155.21 605.78,155.23 606.06,155.24 606.33,155.26 606.61,155.27 606.88,155.29 607.16,155.3 607.43,155.32 607.71,155.33 607.98,155.34 608.26,155.35 608.53,155.36 608.81,155.37 609.08,155.38 609.36,155.39 609.63,155.4 609.91,155.41 610.19,155.42 610.46,155.43 610.74,155.43 611.01,155.44 611.29,155.45 611.56,155.45 611.84,155.46 612.11,155.47 612.39,155.47 612.66,155.48 612.94,155.48 613.21,155.49 613.49,155.49 613.76,155.5 614.04,155.5 614.32,155.51 614.59,155.51 614.87,155.51 615.14,155.52 615.42,155.52 615.69,155.53 615.97,155.53 616.24,155.53 616.52,155.53 616.79,155.54 617.07,155.54 617.34,155.54 617.62,155.55 617.89,155.55 618.17,155.55 618.45,155.55 618.72,155.55 619,155.56 619.27,155.56 619.55,155.56 619.82,155.56 620.1,155.56 620.37,155.56 620.65,155.57 620.92,155.57 621.2,155.57 621.47,155.57 621.75,155.57 622.02,155.57 622.3,155.57 622.58,155.58 622.85,155.58 623.13,155.58 623.4,155.58 623.68,155.58 623.95,155.58 624.23,155.58 624.5,155.58 624.78,155.58 625.05,155.58 625.33,155.58 625.6,155.58 625.88,155.59 626.15,155.59 626.43,155.59 626.71,155.59 626.98,155.59 627.26,155.59 627.53,155.59 627.81,155.59 628.08,155.59 628.36,155.59 628.63,155.59 628.91,155.59 629.18,155.59 629.46,155.59 629.73,155.59 630.01,155.59 630.28,155.59 630.56,155.59 630.84,155.59 631.11,155.59 631.39,155.59 631.66,155.59 631.94,155.59 632.21,155.59 632.49,155.6 632.76,155.6 633.04,155.6 633.31,155.6 633.59,155.6 633.86,155.6 634.14,155.6 634.41,155.6 634.69,155.6 634.97,155.6 635.24,155.6 635.52,155.6 635.79,155.6 636.07,155.6 636.34,155.6 636.62,155.6 636.89,155.6 637.17,155.6 637.44,155.6 637.72,155.6 637.99,155.6 638.27,155.6 638.54,155.6 638.82,155.6 639.1,155.6 639.37,155.6 639.65,155.6 639.92,155.6 640.2,155.6 640.47,155.6 640.75,155.6 641.02,155.6 641.3,155.6 641.57,155.6 641.85,155.6 642.12,155.6 642.4,155.6 642.67,155.6 642.95,155.6 643.23,155.6 643.5,155.6 643.78,155.6 644.05,155.6 644.33,155.6 644.6,155.6 644.88,155.6 645.15,155.6 645.43,155.6 645.7,155.6 645.98,155.6 646.25,155.6 646.53,155.6 646.8,155.6 647.08,155.6 647.36,155.6 647.63,155.6 647.91,155.6 648.18,155.6 648.46,155.6 648.73,155.6 649.01,155.6 649.28,155.6 649.56,155.6 649.83,155.6 650.11,155.6 650.38,155.6 650.66,155.6 650.93,155.6 651.21,155.6 651.49,155.6 651.76,155.6 652.04,155.6 652.31,155.6 652.59,155.6 652.86,155.6 653.14,155.6 653.41,155.6 653.69,155.6 653.96,155.6 654.24,155.6 654.51,155.6 654.79,155.6 655.06,155.6 655.34,155.6 655.62,155.6 655.89,155.6 656.17,155.6 656.44,155.6 656.72,155.6 656.99,155.6 657.27,155.6 657.54,155.6 657.82,155.6 658.09,155.6 658.37,155.6 658.64,155.6 658.92,155.6 659.19,155.6 659.47,155.6 659.75,155.6 660.02,155.6 660.3,155.6 660.57,155.6 660.85,155.6 661.12,155.6 661.4,155.6 661.67,155.6 661.95,155.6 662.22,155.6 662.5,155.6 662.77,155.6 663.05,155.6 663.32,155.6 663.6,155.6" fill="none" stroke="#111" stroke-width="1"/>
<text transform="translate(493,60.1) scale(1,1.06)" x="0" y="0" font-size="9" text-anchor="end" fill="#1a1a1a" stroke="#1a1a1a" stroke-width="0.2">100</text>
<text transform="translate(493,109.45) scale(1,1.06)" x="0" y="0" font-size="9" text-anchor="end" fill="#1a1a1a" stroke="#1a1a1a" stroke-width="0.2">%</text>
<text transform="translate(493,159) scale(1,1.06)" x="0" y="0" font-size="9" text-anchor="end" fill="#1a1a1a" stroke="#1a1a1a" stroke-width="0.2">0</text>
<text transform="translate(550.02,169.4) scale(1,1.06)" x="0" y="0" font-size="9" text-anchor="middle" fill="#1a1a1a" stroke="#1a1a1a" stroke-width="0.2">3.250</text>
<text transform="translate(601.65,169.4) scale(1,1.06)" x="0" y="0" font-size="9" text-anchor="middle" fill="#1a1a1a" stroke="#1a1a1a" stroke-width="0.2">3.500</text>
<text transform="translate(653.28,169.4) scale(1,1.06)" x="0" y="0" font-size="9" text-anchor="middle" fill="#1a1a1a" stroke="#1a1a1a" stroke-width="0.2">3.750</text>
<text transform="translate(667.9,158.9) scale(1,1.06)" x="0" y="0" font-size="9.3" fill="#1a1a1a" stroke="#1a1a1a" stroke-width="0.2">min</text>
<text transform="translate(549.5,55) scale(1,1.06)" x="0" y="0" font-size="9.3" text-anchor="middle" fill="#1a1a1a" stroke="#1a1a1a" stroke-width="0.2">3.25</text>
<text transform="translate(587.9,94.28) scale(1,1.06)" x="0" y="0" font-size="9.3" text-anchor="middle" fill="#1a1a1a" stroke="#1a1a1a" stroke-width="0.2">3.43</text>
<text x="30.86" y="208.74" font-size="10.64" font-weight="bold" fill="#000" stroke="#000" stroke-width="0.25">FB2</text>
<text transform="translate(31.56,220.95) scale(1,1.06)" x="0" y="0" font-size="9.16" fill="#1a1a1a" stroke="#1a1a1a" stroke-width="0.2">SPIKE-3</text>
<text transform="translate(237.71,221.15) scale(1,1.06)" x="0" y="0" font-size="9.16" text-anchor="end" fill="#1a1a1a" stroke="#1a1a1a" stroke-width="0.2">F3:MRM of 3 channels,ES+</text>
<text transform="translate(237.71,231.2) scale(1,1.06)" x="0" y="0" font-size="9.16" text-anchor="end" fill="#1a1a1a" stroke="#1a1a1a" stroke-width="0.2">706.479 &gt; 354.437</text>
<text transform="translate(237.71,241.74) scale(1,1.06)" x="0" y="0" font-size="9.16" text-anchor="end" fill="#1a1a1a" stroke="#1a1a1a" stroke-width="0.2">3.619e+005</text>
<polygon points="133.45,342.6 133.65,342.5 133.92,342.5 134.19,342.51 134.46,342.5 134.74,342.48 135.01,342.42 135.28,342.27 135.55,342 135.83,341.55 136.1,340.9 136.37,340.02 136.65,338.93 136.92,337.62 137.19,336.12 137.46,334.45 137.74,332.62 138.01,330.65 138.28,328.55 138.55,326.33 138.83,324.01 139.1,321.59 139.37,319.11 139.64,316.59 139.92,314.05 140.19,311.53 140.46,309.06 140.74,306.7 141.01,304.48 141.28,302.45 141.55,300.66 141.83,299.13 142.1,297.91 142.37,297.02 142.64,296.49 142.92,296.33 143.19,296.58 143.46,297.14 143.73,297.95 144.01,298.99 144.28,300.22 144.55,301.62 144.83,303.16 145.1,304.82 145.37,306.57 145.64,308.39 145.92,310.25 146.19,312.14 146.46,314.03 146.73,315.91 147.01,317.77 147.28,319.58 147.55,321.34 147.82,323.04 148.1,324.66 148.37,326.21 148.64,327.67 148.92,329.04 149.19,330.32 149.46,331.51 149.73,332.62 150.01,333.64 150.28,334.57 150.55,335.42 150.82,336.19 151.1,336.89 151.37,337.52 151.64,338.08 151.91,338.58 152.19,339.03 152.46,339.43 152.73,339.78 153.01,340.1 153.28,340.37 153.55,340.61 153.82,340.82 154.1,341.01 154.37,341.17 154.64,341.31 154.91,341.43 155.19,341.54 155.46,341.64 155.73,341.72 156,341.79 156.28,341.85 156.55,341.91 156.82,341.96 157.1,342 157.37,342.04 157.64,342.08 157.91,342.11 158.19,342.14 158.46,342.16 158.73,342.19 159,342.21 159.28,342.23 159.55,342.25 159.82,342.26 160.09,342.28 160.37,342.3 160.64,342.31 160.91,342.32 161.19,342.34 161.46,342.35 161.73,342.36 162,342.37 162.28,342.38 162.55,342.39 162.82,342.4 163.09,342.41 163.37,342.42 163.64,342.42 163.91,342.43 164.18,342.44 164.46,342.45 164.73,342.45 164.99,342.6" fill="#c2c2c2" stroke="none"/>
<path d="M49.1,342.6H54.3M51.9,332.76H54.3M51.9,322.92H54.3M51.9,313.08H54.3M51.9,303.24H54.3M49.1,293.4H54.3M51.9,283.56H54.3M51.9,273.72H54.3M51.9,263.88H54.3M51.9,254.04H54.3M49.1,244.2H54.3M54.3,244.2V342.6" stroke="#222" stroke-width="1" fill="none"/>
<path d="M59.41,342.6V345.4M64.52,342.6V345.4M69.64,342.6V345.4M74.75,342.6V345.4M79.86,342.6V347.6M84.97,342.6V345.4M90.09,342.6V345.4M95.2,342.6V345.4M100.31,342.6V345.4M105.43,342.6V347.6M110.54,342.6V345.4M115.65,342.6V345.4M120.76,342.6V345.4M125.88,342.6V345.4M130.99,342.6V347.6M136.1,342.6V345.4M141.21,342.6V345.4M146.33,342.6V345.4M151.44,342.6V345.4M156.55,342.6V347.6M161.66,342.6V345.4M166.78,342.6V345.4M171.89,342.6V345.4M177,342.6V345.4M182.11,342.6V347.6M187.23,342.6V345.4M192.34,342.6V345.4M197.45,342.6V345.4M202.56,342.6V345.4M207.68,342.6V347.6M212.79,342.6V345.4" stroke="#222" stroke-width="1" fill="none"/>
<path d="M49.3,342.6H217.9" stroke="#1a1a1a" stroke-width="1.8" fill="none"/>
<polyline points="54.3,342.6 54.57,342.6 54.85,342.6 55.12,342.6 55.39,342.6 55.66,342.6 55.94,342.6 56.21,342.6 56.48,342.6 56.75,342.6 57.03,342.6 57.3,342.6 57.57,342.6 57.84,342.6 58.12,342.6 58.39,342.6 58.66,342.6 58.94,342.6 59.21,342.6 59.48,342.6 59.75,342.6 60.03,342.6 60.3,342.6 60.57,342.6 60.84,342.6 61.12,342.6 61.39,342.6 61.66,342.6 61.93,342.6 62.21,342.6 62.48,342.6 62.75,342.6 63.03,342.6 63.3,342.6 63.57,342.6 63.84,342.6 64.12,342.6 64.39,342.6 64.66,342.6 64.93,342.6 65.21,342.6 65.48,342.6 65.75,342.6 66.02,342.6 66.3,342.6 66.57,342.6 66.84,342.6 67.12,342.6 67.39,342.6 67.66,342.6 67.93,342.6 68.21,342.6 68.48,342.6 68.75,342.6 69.02,342.6 69.3,342.6 69.57,342.6 69.84,342.6 70.11,342.6 70.39,342.6 70.66,342.6 70.93,342.6 71.21,342.6 71.48,342.6 71.75,342.6 72.02,342.6 72.3,342.6 72.57,342.6 72.84,342.6 73.11,342.6 73.39,342.6 73.66,342.6 73.93,342.6 74.2,342.6 74.48,342.6 74.75,342.6 75.02,342.6 75.3,342.6 75.57,342.6 75.84,342.6 76.11,342.6 76.39,342.6 76.66,342.6 76.93,342.6 77.2,342.6 77.48,342.6 77.75,342.6 78.02,342.6 78.29,342.6 78.57,342.6 78.84,342.6 79.11,342.6 79.39,342.6 79.66,342.6 79.93,342.6 80.2,342.6 80.48,342.6 80.75,342.6 81.02,342.6 81.29,342.6 81.57,342.6 81.84,342.6 82.11,342.6 82.38,342.6 82.66,342.6 82.93,342.6 83.2,342.6 83.48,342.6 83.75,342.6 84.02,342.6 84.29,342.6 84.57,342.6 84.84,342.6 85.11,342.6 85.38,342.6 85.66,342.6 85.93,342.6 86.2,342.6 86.47,342.6 86.75,342.6 87.02,342.6 87.29,342.6 87.57,342.6 87.84,342.6 88.11,342.6 88.38,342.6 88.66,342.6 88.93,342.6 89.2,342.6 89.47,342.6 89.75,342.6 90.02,342.6 90.29,342.6 90.56,342.6 90.84,342.6 91.11,342.6 91.38,342.6 91.66,342.6 91.93,342.6 92.2,342.6 92.47,342.6 92.75,342.6 93.02,342.6 93.29,342.6 93.56,342.6 93.84,342.6 94.11,342.6 94.38,342.6 94.65,342.6 94.93,342.6 95.2,342.6 95.47,342.6 95.75,342.6 96.02,342.6 96.29,342.59 96.56,342.57 96.84,342.49 97.11,342.3 97.38,341.89 97.65,341.18 97.93,340.07 98.2,338.5 98.47,336.46 98.74,333.95 99.02,331.01 99.29,327.68 99.56,323.99 99.84,319.98 100.11,315.68 100.38,311.11 100.65,306.3 100.93,301.28 101.2,296.09 101.47,290.76 101.74,285.36 102.02,279.96 102.29,274.63 102.56,269.45 102.83,264.52 103.11,259.94 103.38,255.79 103.65,252.16 103.93,249.14 104.2,246.79 104.47,245.18 104.74,244.33 105.02,244.3 105.29,245.09 105.56,246.48 105.83,248.4 106.11,250.76 106.38,253.52 106.65,256.61 106.92,259.98 107.2,263.58 107.47,267.36 107.74,271.27 108.02,275.25 108.29,279.28 108.56,283.31 108.83,287.29 109.11,291.21 109.38,295.03 109.65,298.73 109.92,302.28 110.2,305.67 110.47,308.89 110.74,311.93 111.01,314.78 111.29,317.44 111.56,319.91 111.83,322.19 112.11,324.28 112.38,326.2 112.65,327.95 112.92,329.53 113.2,330.96 113.47,332.25 113.74,333.4 114.01,334.43 114.29,335.34 114.56,336.15 114.83,336.87 115.1,337.5 115.38,338.06 115.65,338.55 115.92,338.98 116.2,339.35 116.47,339.68 116.74,339.96 117.01,340.21 117.29,340.43 117.56,340.62 117.83,340.79 118.1,340.94 118.38,341.06 118.65,341.18 118.92,341.28 119.19,341.37 119.47,341.45 119.74,341.52 120.01,341.58 120.29,341.64 120.56,341.69 120.83,341.74 121.1,341.79 121.38,341.83 121.65,341.87 121.92,341.9 122.19,341.94 122.47,341.97 122.74,342 123.01,342.02 123.28,342.05 123.56,342.07 123.83,342.1 124.1,342.12 124.38,342.14 124.65,342.16 124.92,342.18 125.19,342.2 125.47,342.22 125.74,342.23 126.01,342.25 126.28,342.26 126.56,342.28 126.83,342.29 127.1,342.31 127.37,342.32 127.65,342.33 127.92,342.34 128.19,342.35 128.47,342.37 128.74,342.38 129.01,342.39 129.28,342.39 129.56,342.4 129.83,342.41 130.1,342.42 130.37,342.43 130.65,342.44 130.92,342.44 131.19,342.45 131.46,342.46 131.74,342.46 132.01,342.47 132.28,342.47 132.56,342.48 132.83,342.48 133.1,342.49 133.37,342.49 133.65,342.5 133.92,342.5 134.19,342.51 134.46,342.5 134.74,342.48 135.01,342.42 135.28,342.27 135.55,342 135.83,341.55 136.1,340.9 136.37,340.02 136.65,338.93 136.92,337.62 137.19,336.12 137.46,334.45 137.74,332.62 138.01,330.65 138.28,328.55 138.55,326.33 138.83,324.01 139.1,321.59 139.37,319.11 139.64,316.59 139.92,314.05 140.19,311.53 140.46,309.06 140.74,306.7 141.01,304.48 141.28,302.45 141.55,300.66 141.83,299.13 142.1,297.91 142.37,297.02 142.64,296.49 142.92,296.33 143.19,296.58 143.46,297.14 143.73,297.95 144.01,298.99 144.28,300.22 144.55,301.62 144.83,303.16 145.1,304.82 145.37,306.57 145.64,308.39 145.92,310.25 146.19,312.14 146.46,314.03 146.73,315.91 147.01,317.77 147.28,319.58 147.55,321.34 147.82,323.04 148.1,324.66 148.37,326.21 148.64,327.67 148.92,329.04 149.19,330.32 149.46,331.51 149.73,332.62 150.01,333.64 150.28,334.57 150.55,335.42 150.82,336.19 151.1,336.89 151.37,337.52 151.64,338.08 151.91,338.58 152.19,339.03 152.46,339.43 152.73,339.78 153.01,340.1 153.28,340.37 153.55,340.61 153.82,340.82 154.1,341.01 154.37,341.17 154.64,341.31 154.91,341.43 155.19,341.54 155.46,341.64 155.73,341.72 156,341.79 156.28,341.85 156.55,341.91 156.82,341.96 157.1,342 157.37,342.04 157.64,342.08 157.91,342.11 158.19,342.14 158.46,342.16 158.73,342.19 159,342.21 159.28,342.23 159.55,342.25 159.82,342.26 160.09,342.28 160.37,342.3 160.64,342.31 160.91,342.32 161.19,342.34 161.46,342.35 161.73,342.36 162,342.37 162.28,342.38 162.55,342.39 162.82,342.4 163.09,342.41 163.37,342.42 163.64,342.42 163.91,342.43 164.18,342.44 164.46,342.45 164.73,342.45 165,342.46 165.28,342.47 165.55,342.47 165.82,342.48 166.09,342.48 166.37,342.49 166.64,342.49 166.91,342.5 167.18,342.5 167.46,342.51 167.73,342.51 168,342.51 168.27,342.52 168.55,342.52 168.82,342.52 169.09,342.53 169.37,342.53 169.64,342.53 169.91,342.54 170.18,342.54 170.46,342.54 170.73,342.54 171,342.55 171.27,342.55 171.55,342.55 171.82,342.55 172.09,342.56 172.36,342.56 172.64,342.56 172.91,342.56 173.18,342.56 173.46,342.56 173.73,342.57 174,342.57 174.27,342.57 174.55,342.57 174.82,342.57 175.09,342.57 175.36,342.57 175.64,342.58 175.91,342.58 176.18,342.58 176.45,342.58 176.73,342.58 177,342.58 177.27,342.58 177.55,342.58 177.82,342.58 178.09,342.58 178.36,342.58 178.64,342.58 178.91,342.59 179.18,342.59 179.45,342.59 179.73,342.59 180,342.59 180.27,342.59 180.54,342.59 180.82,342.59 181.09,342.59 181.36,342.59 181.64,342.59 181.91,342.59 182.18,342.59 182.45,342.59 182.73,342.59 183,342.59 183.27,342.59 183.54,342.59 183.82,342.59 184.09,342.59 184.36,342.59 184.63,342.59 184.91,342.59 185.18,342.59 185.45,342.59 185.73,342.6 186,342.6 186.27,342.6 186.54,342.6 186.82,342.6 187.09,342.6 187.36,342.6 187.63,342.6 187.91,342.6 188.18,342.6 188.45,342.6 188.72,342.6 189,342.6 189.27,342.6 189.54,342.6 189.82,342.6 190.09,342.6 190.36,342.6 190.63,342.6 190.91,342.6 191.18,342.6 191.45,342.6 191.72,342.6 192,342.6 192.27,342.6 192.54,342.6 192.81,342.6 193.09,342.6 193.36,342.6 193.63,342.6 193.91,342.6 194.18,342.6 194.45,342.6 194.72,342.6 195,342.6 195.27,342.6 195.54,342.6 195.81,342.6 196.09,342.6 196.36,342.6 196.63,342.6 196.9,342.6 197.18,342.6 197.45,342.6 197.72,342.6 198,342.6 198.27,342.6 198.54,342.6 198.81,342.6 199.09,342.6 199.36,342.6 199.63,342.6 199.9,342.6 200.18,342.6 200.45,342.6 200.72,342.6 200.99,342.6 201.27,342.6 201.54,342.6 201.81,342.6 202.09,342.6 202.36,342.6 202.63,342.6 202.9,342.6 203.18,342.6 203.45,342.6 203.72,342.6 203.99,342.6 204.27,342.6 204.54,342.6 204.81,342.6 205.08,342.6 205.36,342.6 205.63,342.6 205.9,342.6 206.18,342.6 206.45,342.6 206.72,342.6 206.99,342.6 207.27,342.6 207.54,342.6 207.81,342.6 208.08,342.6 208.36,342.6 208.63,342.6 208.9,342.6 209.17,342.6 209.45,342.6 209.72,342.6 209.99,342.6 210.27,342.6 210.54,342.6 210.81,342.6 211.08,342.6 211.36,342.6 211.63,342.6 211.9,342.6 212.17,342.6 212.45,342.6 212.72,342.6 212.99,342.6 213.26,342.6 213.54,342.6 213.81,342.6 214.08,342.6 214.36,342.6 214.63,342.6 214.9,342.6 215.17,342.6 215.45,342.6 215.72,342.6 215.99,342.6 216.26,342.6 216.54,342.6 216.81,342.6 217.08,342.6 217.35,342.6 217.63,342.6 217.9,342.6" fill="none" stroke="#111" stroke-width="1"/>
<text transform="translate(48.9,247.4) scale(1,1.06)" x="0" y="0" font-size="8.87" text-anchor="end" fill="#1a1a1a" stroke="#1a1a1a" stroke-width="0.2">100</text>
<text transform="translate(48.9,296.6) scale(1,1.06)" x="0" y="0" font-size="8.87" text-anchor="end" fill="#1a1a1a" stroke="#1a1a1a" stroke-width="0.2">%</text>
<text transform="translate(48.9,346) scale(1,1.06)" x="0" y="0" font-size="8.87" text-anchor="end" fill="#1a1a1a" stroke="#1a1a1a" stroke-width="0.2">0</text>
<text transform="translate(105.43,356.19) scale(1,1.06)" x="0" y="0" font-size="8.87" text-anchor="middle" fill="#1a1a1a" stroke="#1a1a1a" stroke-width="0.2">3.250</text>
<text transform="translate(156.55,356.19) scale(1,1.06)" x="0" y="0" font-size="8.87" text-anchor="middle" fill="#1a1a1a" stroke="#1a1a1a" stroke-width="0.2">3.500</text>
<text transform="translate(207.68,356.19) scale(1,1.06)" x="0" y="0" font-size="8.87" text-anchor="middle" fill="#1a1a1a" stroke="#1a1a1a" stroke-width="0.2">3.750</text>
<text transform="translate(222.14,345.85) scale(1,1.06)" x="0" y="0" font-size="9.16" fill="#1a1a1a" stroke="#1a1a1a" stroke-width="0.2">min</text>
<text transform="translate(104.9,242.33) scale(1,1.06)" x="0" y="0" font-size="9.16" text-anchor="middle" fill="#1a1a1a" stroke="#1a1a1a" stroke-width="0.2">3.25</text>
<text transform="translate(142.9,294.48) scale(1,1.06)" x="0" y="0" font-size="9.16" text-anchor="middle" fill="#1a1a1a" stroke="#1a1a1a" stroke-width="0.2">3.44</text>
<text x="253.86" y="208.74" font-size="10.64" font-weight="bold" fill="#000" stroke="#000" stroke-width="0.25">FB3</text>
<text transform="translate(254.56,220.95) scale(1,1.06)" x="0" y="0" font-size="9.16" fill="#1a1a1a" stroke="#1a1a1a" stroke-width="0.2">SPIKE-3</text>
<text transform="translate(460.71,221.15) scale(1,1.06)" x="0" y="0" font-size="9.16" text-anchor="end" fill="#1a1a1a" stroke="#1a1a1a" stroke-width="0.2">F2:MRM of 3 channels,ES+</text>
<text transform="translate(460.71,231.2) scale(1,1.06)" x="0" y="0" font-size="9.16" text-anchor="end" fill="#1a1a1a" stroke="#1a1a1a" stroke-width="0.2">706.479 &gt; 336.429</text>
<text transform="translate(460.71,241.74) scale(1,1.06)" x="0" y="0" font-size="9.16" text-anchor="end" fill="#1a1a1a" stroke="#1a1a1a" stroke-width="0.2">4.426e+005</text>
<polygon points="319.35,342.4 319.59,342.4 319.86,342.4 320.13,342.39 320.41,342.38 320.68,342.31 320.95,342.14 321.23,341.79 321.5,341.14 321.77,340.11 322.04,338.64 322.32,336.68 322.59,334.27 322.86,331.41 323.14,328.15 323.41,324.53 323.68,320.59 323.95,316.35 324.23,311.84 324.5,307.08 324.77,302.11 325.05,296.95 325.32,291.66 325.59,286.28 325.86,280.89 326.14,275.54 326.41,270.34 326.68,265.37 326.96,260.72 327.23,256.49 327.5,252.77 327.77,249.64 328.05,247.17 328.32,245.42 328.59,244.43 328.87,244.24 329.14,244.89 329.41,246.18 329.68,248 329.96,250.28 330.23,252.97 330.5,255.99 330.78,259.31 331.05,262.86 331.32,266.61 331.59,270.48 331.87,274.45 332.14,278.46 332.41,282.48 332.69,286.47 332.96,290.4 333.23,294.23 333.5,297.94 333.78,301.51 334.05,304.93 334.32,308.18 334.6,311.24 334.87,314.12 335.14,316.81 335.41,319.31 335.69,321.62 335.96,323.75 336.23,325.69 336.5,327.47 336.78,329.08 337.05,330.53 337.32,331.84 337.6,333.01 337.87,334.06 338.14,335 338.41,335.82 338.69,336.56 338.96,337.2 339.23,337.77 339.51,338.27 339.78,338.71 340.05,339.09 340.32,339.43 340.6,339.72 340.87,339.98 341.14,340.2 341.42,340.39 341.69,340.56 341.96,340.71 342.23,340.84 342.51,340.96 342.78,341.06 343.05,341.15 343.33,341.24 343.6,341.31 343.87,341.37 344.14,341.43 344.42,341.49 344.69,341.54 344.96,341.58 345.24,341.62 345.51,341.66 345.78,341.7 346.05,341.73 346.33,341.76 346.6,341.79 346.87,341.82 347.15,341.85 347.42,341.87 347.69,341.89 347.96,341.92 348.24,341.94 348.51,341.96 348.78,341.98 349.06,342 349.33,342.01 349.6,342.03 349.87,342.05 350.15,342.06 350.42,342.08 350.69,342.09 350.9,342.4" fill="#c2c2c2" stroke="none"/>
<path d="M272.1,342.4H277.3M274.9,332.58H277.3M274.9,322.76H277.3M274.9,312.94H277.3M274.9,303.12H277.3M272.1,293.3H277.3M274.9,283.48H277.3M274.9,273.66H277.3M274.9,263.84H277.3M274.9,254.02H277.3M272.1,244.2H277.3M277.3,244.2V342.4" stroke="#222" stroke-width="1" fill="none"/>
<path d="M282.42,342.4V345.2M287.53,342.4V345.2M292.65,342.4V345.2M297.76,342.4V345.2M302.88,342.4V347.4M307.99,342.4V345.2M313.11,342.4V345.2M318.23,342.4V345.2M323.34,342.4V345.2M328.46,342.4V347.4M333.57,342.4V345.2M338.69,342.4V345.2M343.8,342.4V345.2M348.92,342.4V345.2M354.03,342.4V347.4M359.15,342.4V345.2M364.27,342.4V345.2M369.38,342.4V345.2M374.5,342.4V345.2M379.61,342.4V347.4M384.73,342.4V345.2M389.84,342.4V345.2M394.96,342.4V345.2M400.08,342.4V345.2M405.19,342.4V347.4M410.31,342.4V345.2M415.42,342.4V345.2M420.54,342.4V345.2M425.65,342.4V345.2M430.77,342.4V347.4M435.88,342.4V345.2" stroke="#222" stroke-width="1" fill="none"/>
<path d="M272.3,342.4H441" stroke="#1a1a1a" stroke-width="1.8" fill="none"/>
<polyline points="277.3,342.4 277.57,342.4 277.85,342.4 278.12,342.4 278.39,342.4 278.66,342.4 278.94,342.4 279.21,342.4 279.48,342.4 279.76,342.4 280.03,342.4 280.3,342.4 280.57,342.4 280.85,342.4 281.12,342.4 281.39,342.4 281.67,342.4 281.94,342.4 282.21,342.4 282.48,342.4 282.76,342.4 283.03,342.4 283.3,342.4 283.58,342.4 283.85,342.4 284.12,342.4 284.39,342.4 284.67,342.4 284.94,342.4 285.21,342.4 285.49,342.4 285.76,342.4 286.03,342.4 286.3,342.4 286.58,342.4 286.85,342.4 287.12,342.4 287.39,342.4 287.67,342.4 287.94,342.4 288.21,342.4 288.49,342.4 288.76,342.4 289.03,342.4 289.3,342.4 289.58,342.4 289.85,342.4 290.12,342.4 290.4,342.4 290.67,342.4 290.94,342.4 291.21,342.4 291.49,342.4 291.76,342.4 292.03,342.4 292.31,342.4 292.58,342.4 292.85,342.4 293.12,342.4 293.4,342.4 293.67,342.4 293.94,342.4 294.22,342.4 294.49,342.4 294.76,342.4 295.03,342.4 295.31,342.4 295.58,342.4 295.85,342.4 296.13,342.4 296.4,342.4 296.67,342.4 296.94,342.4 297.22,342.4 297.49,342.4 297.76,342.4 298.04,342.4 298.31,342.4 298.58,342.4 298.85,342.4 299.13,342.4 299.4,342.4 299.67,342.4 299.95,342.4 300.22,342.4 300.49,342.4 300.76,342.4 301.04,342.4 301.31,342.4 301.58,342.4 301.86,342.4 302.13,342.4 302.4,342.4 302.67,342.4 302.95,342.4 303.22,342.4 303.49,342.4 303.76,342.4 304.04,342.4 304.31,342.4 304.58,342.4 304.86,342.4 305.13,342.4 305.4,342.4 305.67,342.4 305.95,342.4 306.22,342.4 306.49,342.4 306.77,342.4 307.04,342.4 307.31,342.4 307.58,342.4 307.86,342.4 308.13,342.4 308.4,342.4 308.68,342.4 308.95,342.4 309.22,342.4 309.49,342.4 309.77,342.4 310.04,342.4 310.31,342.4 310.59,342.4 310.86,342.4 311.13,342.4 311.4,342.4 311.68,342.4 311.95,342.4 312.22,342.4 312.5,342.4 312.77,342.4 313.04,342.4 313.31,342.4 313.59,342.4 313.86,342.4 314.13,342.4 314.41,342.4 314.68,342.4 314.95,342.4 315.22,342.4 315.5,342.4 315.77,342.4 316.04,342.4 316.32,342.4 316.59,342.4 316.86,342.4 317.13,342.4 317.41,342.4 317.68,342.4 317.95,342.4 318.23,342.4 318.5,342.4 318.77,342.4 319.04,342.4 319.32,342.4 319.59,342.4 319.86,342.4 320.13,342.39 320.41,342.38 320.68,342.31 320.95,342.14 321.23,341.79 321.5,341.14 321.77,340.11 322.04,338.64 322.32,336.68 322.59,334.27 322.86,331.41 323.14,328.15 323.41,324.53 323.68,320.59 323.95,316.35 324.23,311.84 324.5,307.08 324.77,302.11 325.05,296.95 325.32,291.66 325.59,286.28 325.86,280.89 326.14,275.54 326.41,270.34 326.68,265.37 326.96,260.72 327.23,256.49 327.5,252.77 327.77,249.64 328.05,247.17 328.32,245.42 328.59,244.43 328.87,244.24 329.14,244.89 329.41,246.18 329.68,248 329.96,250.28 330.23,252.97 330.5,255.99 330.78,259.31 331.05,262.86 331.32,266.61 331.59,270.48 331.87,274.45 332.14,278.46 332.41,282.48 332.69,286.47 332.96,290.4 333.23,294.23 333.5,297.94 333.78,301.51 334.05,304.93 334.32,308.18 334.6,311.24 334.87,314.12 335.14,316.81 335.41,319.31 335.69,321.62 335.96,323.75 336.23,325.69 336.5,327.47 336.78,329.08 337.05,330.53 337.32,331.84 337.6,333.01 337.87,334.06 338.14,335 338.41,335.82 338.69,336.56 338.96,337.2 339.23,337.77 339.51,338.27 339.78,338.71 340.05,339.09 340.32,339.43 340.6,339.72 340.87,339.98 341.14,340.2 341.42,340.39 341.69,340.56 341.96,340.71 342.23,340.84 342.51,340.96 342.78,341.06 343.05,341.15 343.33,341.24 343.6,341.31 343.87,341.37 344.14,341.43 344.42,341.49 344.69,341.54 344.96,341.58 345.24,341.62 345.51,341.66 345.78,341.7 346.05,341.73 346.33,341.76 346.6,341.79 346.87,341.82 347.15,341.85 347.42,341.87 347.69,341.89 347.96,341.92 348.24,341.94 348.51,341.96 348.78,341.98 349.06,342 349.33,342.01 349.6,342.03 349.87,342.05 350.15,342.06 350.42,342.08 350.69,342.09 350.97,342.1 351.24,342.12 351.51,342.13 351.78,342.14 352.06,342.15 352.33,342.16 352.6,342.17 352.87,342.18 353.15,342.19 353.42,342.2 353.69,342.21 353.97,342.22 354.24,342.23 354.51,342.23 354.78,342.24 355.06,342.25 355.33,342.26 355.6,342.26 355.88,342.27 356.15,342.27 356.42,342.28 356.69,342.28 356.97,342.29 357.24,342.29 357.51,342.3 357.79,342.3 358.06,342.3 358.33,342.27 358.6,342.19 358.88,342 359.15,341.66 359.42,341.09 359.7,340.27 359.97,339.16 360.24,337.77 360.51,336.12 360.79,334.23 361.06,332.11 361.33,329.8 361.61,327.31 361.88,324.66 362.15,321.85 362.42,318.92 362.7,315.87 362.97,312.74 363.24,309.55 363.52,306.34 363.79,303.15 364.06,300.04 364.33,297.05 364.61,294.25 364.88,291.69 365.15,289.42 365.43,287.49 365.7,285.94 365.97,284.82 366.24,284.15 366.52,283.95 366.79,284.26 367.06,284.97 367.34,286 367.61,287.31 367.88,288.86 368.15,290.63 368.43,292.58 368.7,294.67 368.97,296.88 369.24,299.18 369.52,301.53 369.79,303.91 370.06,306.31 370.34,308.69 370.61,311.03 370.88,313.32 371.15,315.54 371.43,317.69 371.7,319.74 371.97,321.69 372.25,323.53 372.52,325.27 372.79,326.89 373.06,328.4 373.34,329.79 373.61,331.07 373.88,332.25 374.16,333.33 374.43,334.3 374.7,335.18 374.97,335.98 375.25,336.69 375.52,337.33 375.79,337.89 376.07,338.4 376.34,338.84 376.61,339.24 376.88,339.58 377.16,339.89 377.43,340.16 377.7,340.39 377.98,340.59 378.25,340.77 378.52,340.93 378.79,341.06 379.07,341.18 379.34,341.29 379.61,341.38 379.89,341.46 380.16,341.53 380.43,341.59 380.7,341.65 380.98,341.7 381.25,341.74 381.52,341.78 381.8,341.82 382.07,341.85 382.34,341.88 382.61,341.91 382.89,341.93 383.16,341.95 383.43,341.98 383.7,342 383.98,342.02 384.25,342.03 384.52,342.05 384.8,342.07 385.07,342.08 385.34,342.1 385.61,342.11 385.89,342.12 386.16,342.13 386.43,342.15 386.71,342.16 386.98,342.17 387.25,342.18 387.52,342.19 387.8,342.2 388.07,342.21 388.34,342.21 388.62,342.22 388.89,342.23 389.16,342.24 389.43,342.24 389.71,342.25 389.98,342.26 390.25,342.26 390.53,342.27 390.8,342.28 391.07,342.28 391.34,342.29 391.62,342.29 391.89,342.3 392.16,342.3 392.44,342.3 392.71,342.31 392.98,342.31 393.25,342.32 393.53,342.32 393.8,342.32 394.07,342.33 394.35,342.33 394.62,342.33 394.89,342.34 395.16,342.34 395.44,342.34 395.71,342.34 395.98,342.35 396.26,342.35 396.53,342.35 396.8,342.35 397.07,342.36 397.35,342.36 397.62,342.36 397.89,342.36 398.17,342.36 398.44,342.36 398.71,342.37 398.98,342.37 399.26,342.37 399.53,342.37 399.8,342.37 400.07,342.37 400.35,342.37 400.62,342.37 400.89,342.38 401.17,342.38 401.44,342.38 401.71,342.38 401.98,342.38 402.26,342.38 402.53,342.38 402.8,342.38 403.08,342.38 403.35,342.38 403.62,342.38 403.89,342.39 404.17,342.39 404.44,342.39 404.71,342.39 404.99,342.39 405.26,342.39 405.53,342.39 405.8,342.39 406.08,342.39 406.35,342.39 406.62,342.39 406.9,342.39 407.17,342.39 407.44,342.39 407.71,342.39 407.99,342.39 408.26,342.39 408.53,342.39 408.81,342.39 409.08,342.39 409.35,342.39 409.62,342.39 409.9,342.39 410.17,342.39 410.44,342.39 410.72,342.4 410.99,342.4 411.26,342.4 411.53,342.4 411.81,342.4 412.08,342.4 412.35,342.4 412.63,342.4 412.9,342.4 413.17,342.4 413.44,342.4 413.72,342.4 413.99,342.4 414.26,342.4 414.54,342.4 414.81,342.4 415.08,342.4 415.35,342.4 415.63,342.4 415.9,342.4 416.17,342.4 416.44,342.4 416.72,342.4 416.99,342.4 417.26,342.4 417.54,342.4 417.81,342.4 418.08,342.4 418.35,342.4 418.63,342.4 418.9,342.4 419.17,342.4 419.45,342.4 419.72,342.4 419.99,342.4 420.26,342.4 420.54,342.4 420.81,342.4 421.08,342.4 421.36,342.4 421.63,342.4 421.9,342.4 422.17,342.4 422.45,342.4 422.72,342.4 422.99,342.4 423.27,342.4 423.54,342.4 423.81,342.4 424.08,342.4 424.36,342.4 424.63,342.4 424.9,342.4 425.18,342.4 425.45,342.4 425.72,342.4 425.99,342.4 426.27,342.4 426.54,342.4 426.81,342.4 427.09,342.4 427.36,342.4 427.63,342.4 427.9,342.4 428.18,342.4 428.45,342.4 428.72,342.4 429,342.4 429.27,342.4 429.54,342.4 429.81,342.4 430.09,342.4 430.36,342.4 430.63,342.4 430.91,342.4 431.18,342.4 431.45,342.4 431.72,342.4 432,342.4 432.27,342.4 432.54,342.4 432.81,342.4 433.09,342.4 433.36,342.4 433.63,342.4 433.91,342.4 434.18,342.4 434.45,342.4 434.72,342.4 435,342.4 435.27,342.4 435.54,342.4 435.82,342.4 436.09,342.4 436.36,342.4 436.63,342.4 436.91,342.4 437.18,342.4 437.45,342.4 437.73,342.4 438,342.4 438.27,342.4 438.54,342.4 438.82,342.4 439.09,342.4 439.36,342.4 439.64,342.4 439.91,342.4 440.18,342.4 440.45,342.4 440.73,342.4 441,342.4" fill="none" stroke="#111" stroke-width="1"/>
<text transform="translate(271.9,247.4) scale(1,1.06)" x="0" y="0" font-size="8.87" text-anchor="end" fill="#1a1a1a" stroke="#1a1a1a" stroke-width="0.2">100</text>
<text transform="translate(271.9,296.5) scale(1,1.06)" x="0" y="0" font-size="8.87" text-anchor="end" fill="#1a1a1a" stroke="#1a1a1a" stroke-width="0.2">%</text>
<text transform="translate(271.9,345.8) scale(1,1.06)" x="0" y="0" font-size="8.87" text-anchor="end" fill="#1a1a1a" stroke="#1a1a1a" stroke-width="0.2">0</text>
<text transform="translate(328.46,355.99) scale(1,1.06)" x="0" y="0" font-size="8.87" text-anchor="middle" fill="#1a1a1a" stroke="#1a1a1a" stroke-width="0.2">3.250</text>
<text transform="translate(379.61,355.99) scale(1,1.06)" x="0" y="0" font-size="8.87" text-anchor="middle" fill="#1a1a1a" stroke="#1a1a1a" stroke-width="0.2">3.500</text>
<text transform="translate(430.77,355.99) scale(1,1.06)" x="0" y="0" font-size="8.87" text-anchor="middle" fill="#1a1a1a" stroke="#1a1a1a" stroke-width="0.2">3.750</text>
<text transform="translate(445.24,345.65) scale(1,1.06)" x="0" y="0" font-size="9.16" fill="#1a1a1a" stroke="#1a1a1a" stroke-width="0.2">min</text>
<text transform="translate(328.8,242.33) scale(1,1.06)" x="0" y="0" font-size="9.16" text-anchor="middle" fill="#1a1a1a" stroke="#1a1a1a" stroke-width="0.2">3.25</text>
<text transform="translate(366.5,282.1) scale(1,1.06)" x="0" y="0" font-size="9.16" text-anchor="middle" fill="#1a1a1a" stroke="#1a1a1a" stroke-width="0.2">3.43</text>
<text x="477.86" y="208.74" font-size="10.64" font-weight="bold" fill="#000" stroke="#000" stroke-width="0.25">FB3</text>
<text transform="translate(478.56,220.95) scale(1,1.06)" x="0" y="0" font-size="9.16" fill="#1a1a1a" stroke="#1a1a1a" stroke-width="0.2">SPIKE-3</text>
<text transform="translate(684.71,221.15) scale(1,1.06)" x="0" y="0" font-size="9.16" text-anchor="end" fill="#1a1a1a" stroke="#1a1a1a" stroke-width="0.2">F2:MRM of 3 channels,ES+</text>
<text transform="translate(684.71,231.2) scale(1,1.06)" x="0" y="0" font-size="9.16" text-anchor="end" fill="#1a1a1a" stroke="#1a1a1a" stroke-width="0.2">706.479 &gt; 354.442</text>
<text transform="translate(684.71,241.74) scale(1,1.06)" x="0" y="0" font-size="9.16" text-anchor="end" fill="#1a1a1a" stroke="#1a1a1a" stroke-width="0.2">3.526e+005</text>
<polygon points="542.69,342.4 542.87,342.4 543.14,342.4 543.41,342.4 543.68,342.38 543.95,342.33 544.22,342.2 544.5,341.89 544.77,341.32 545.04,340.39 545.31,339.02 545.58,337.18 545.85,334.87 546.12,332.11 546.4,328.95 546.67,325.41 546.94,321.54 547.21,317.36 547.48,312.91 547.75,308.21 548.03,303.29 548.3,298.17 548.57,292.91 548.84,287.54 549.11,282.15 549.38,276.78 549.66,271.54 549.93,266.51 550.2,261.78 550.47,257.44 550.74,253.59 551.01,250.32 551.29,247.68 551.56,245.76 551.83,244.59 552.1,244.2 552.37,244.68 552.64,245.83 552.92,247.53 553.19,249.71 553.46,252.3 553.73,255.26 554,258.51 554.27,262.01 554.55,265.72 554.82,269.57 555.09,273.52 555.36,277.52 555.63,281.54 555.9,285.54 556.18,289.49 556.45,293.34 556.72,297.08 556.99,300.69 557.26,304.15 557.53,307.43 557.81,310.54 558.08,313.47 558.35,316.2 558.62,318.74 558.89,321.1 559.16,323.27 559.44,325.25 559.71,327.07 559.98,328.71 560.25,330.2 560.52,331.55 560.79,332.75 561.07,333.83 561.34,334.79 561.61,335.64 561.88,336.39 562.15,337.06 562.42,337.65 562.7,338.16 562.97,338.61 563.24,339.01 563.51,339.35 563.78,339.65 564.05,339.92 564.33,340.15 564.6,340.35 564.87,340.53 565.14,340.68 565.41,340.82 565.68,340.93 565.96,341.04 566.23,341.13 566.5,341.22 566.77,341.29 567.04,341.36 567.31,341.42 567.59,341.47 567.86,341.52 568.13,341.57 568.4,341.61 568.67,341.65 568.94,341.69 569.22,341.72 569.49,341.75 569.76,341.78 570.03,341.81 570.3,341.84 570.58,341.87 570.85,341.89 571.12,341.91 571.39,341.93 571.66,341.95 571.93,341.97 572.2,341.99 572.48,342.01 572.75,342.03 573.02,342.04 573.29,342.06 573.56,342.07 573.84,342.09 574.11,342.4" fill="#c2c2c2" stroke="none"/>
<path d="M496.1,342.4H501.3M498.9,332.58H501.3M498.9,322.76H501.3M498.9,312.94H501.3M498.9,303.12H501.3M496.1,293.3H501.3M498.9,283.48H501.3M498.9,273.66H501.3M498.9,263.84H501.3M498.9,254.02H501.3M496.1,244.2H501.3M501.3,244.2V342.4" stroke="#222" stroke-width="1" fill="none"/>
<path d="M506.39,342.4V345.2M511.49,342.4V345.2M516.58,342.4V345.2M521.68,342.4V345.2M526.77,342.4V347.4M531.86,342.4V345.2M536.96,342.4V345.2M542.05,342.4V345.2M547.14,342.4V345.2M552.24,342.4V347.4M557.33,342.4V345.2M562.42,342.4V345.2M567.52,342.4V345.2M572.61,342.4V345.2M577.71,342.4V347.4M582.8,342.4V345.2M587.89,342.4V345.2M592.99,342.4V345.2M598.08,342.4V345.2M603.17,342.4V347.4M608.27,342.4V345.2M613.36,342.4V345.2M618.46,342.4V345.2M623.55,342.4V345.2M628.64,342.4V347.4M633.74,342.4V345.2M638.83,342.4V345.2M643.93,342.4V345.2M649.02,342.4V345.2M654.11,342.4V347.4M659.21,342.4V345.2" stroke="#222" stroke-width="1" fill="none"/>
<path d="M496.3,342.4H664.3" stroke="#1a1a1a" stroke-width="1.8" fill="none"/>
<polyline points="501.3,342.4 501.57,342.4 501.84,342.4 502.12,342.4 502.39,342.4 502.66,342.4 502.93,342.4 503.2,342.4 503.47,342.4 503.75,342.4 504.02,342.4 504.29,342.4 504.56,342.4 504.83,342.4 505.1,342.4 505.38,342.4 505.65,342.4 505.92,342.4 506.19,342.4 506.46,342.4 506.73,342.4 507,342.4 507.28,342.4 507.55,342.4 507.82,342.4 508.09,342.4 508.36,342.4 508.63,342.4 508.91,342.4 509.18,342.4 509.45,342.4 509.72,342.4 509.99,342.4 510.26,342.4 510.54,342.4 510.81,342.4 511.08,342.4 511.35,342.4 511.62,342.4 511.89,342.4 512.17,342.4 512.44,342.4 512.71,342.4 512.98,342.4 513.25,342.4 513.52,342.4 513.8,342.4 514.07,342.4 514.34,342.4 514.61,342.4 514.88,342.4 515.15,342.4 515.43,342.4 515.7,342.4 515.97,342.4 516.24,342.4 516.51,342.4 516.78,342.4 517.06,342.4 517.33,342.4 517.6,342.4 517.87,342.4 518.14,342.4 518.41,342.4 518.69,342.4 518.96,342.4 519.23,342.4 519.5,342.4 519.77,342.4 520.04,342.4 520.32,342.4 520.59,342.4 520.86,342.4 521.13,342.4 521.4,342.4 521.67,342.4 521.95,342.4 522.22,342.4 522.49,342.4 522.76,342.4 523.03,342.4 523.3,342.4 523.58,342.4 523.85,342.4 524.12,342.4 524.39,342.4 524.66,342.4 524.93,342.4 525.21,342.4 525.48,342.4 525.75,342.4 526.02,342.4 526.29,342.4 526.57,342.4 526.84,342.4 527.11,342.4 527.38,342.4 527.65,342.4 527.92,342.4 528.2,342.4 528.47,342.4 528.74,342.4 529.01,342.4 529.28,342.4 529.55,342.4 529.83,342.4 530.1,342.4 530.37,342.4 530.64,342.4 530.91,342.4 531.18,342.4 531.46,342.4 531.73,342.4 532,342.4 532.27,342.4 532.54,342.4 532.81,342.4 533.09,342.4 533.36,342.4 533.63,342.4 533.9,342.4 534.17,342.4 534.44,342.4 534.72,342.4 534.99,342.4 535.26,342.4 535.53,342.4 535.8,342.4 536.07,342.4 536.35,342.4 536.62,342.4 536.89,342.4 537.16,342.4 537.43,342.4 537.7,342.4 537.98,342.4 538.25,342.4 538.52,342.4 538.79,342.4 539.06,342.4 539.33,342.4 539.61,342.4 539.88,342.4 540.15,342.4 540.42,342.4 540.69,342.4 540.96,342.4 541.24,342.4 541.51,342.4 541.78,342.4 542.05,342.4 542.32,342.4 542.59,342.4 542.87,342.4 543.14,342.4 543.41,342.4 543.68,342.38 543.95,342.33 544.22,342.2 544.5,341.89 544.77,341.32 545.04,340.39 545.31,339.02 545.58,337.18 545.85,334.87 546.12,332.11 546.4,328.95 546.67,325.41 546.94,321.54 547.21,317.36 547.48,312.91 547.75,308.21 548.03,303.29 548.3,298.17 548.57,292.91 548.84,287.54 549.11,282.15 549.38,276.78 549.66,271.54 549.93,266.51 550.2,261.78 550.47,257.44 550.74,253.59 551.01,250.32 551.29,247.68 551.56,245.76 551.83,244.59 552.1,244.2 552.37,244.68 552.64,245.83 552.92,247.53 553.19,249.71 553.46,252.3 553.73,255.26 554,258.51 554.27,262.01 554.55,265.72 554.82,269.57 555.09,273.52 555.36,277.52 555.63,281.54 555.9,285.54 556.18,289.49 556.45,293.34 556.72,297.08 556.99,300.69 557.26,304.15 557.53,307.43 557.81,310.54 558.08,313.47 558.35,316.2 558.62,318.74 558.89,321.1 559.16,323.27 559.44,325.25 559.71,327.07 559.98,328.71 560.25,330.2 560.52,331.55 560.79,332.75 561.07,333.83 561.34,334.79 561.61,335.64 561.88,336.39 562.15,337.06 562.42,337.65 562.7,338.16 562.97,338.61 563.24,339.01 563.51,339.35 563.78,339.65 564.05,339.92 564.33,340.15 564.6,340.35 564.87,340.53 565.14,340.68 565.41,340.82 565.68,340.93 565.96,341.04 566.23,341.13 566.5,341.22 566.77,341.29 567.04,341.36 567.31,341.42 567.59,341.47 567.86,341.52 568.13,341.57 568.4,341.61 568.67,341.65 568.94,341.69 569.22,341.72 569.49,341.75 569.76,341.78 570.03,341.81 570.3,341.84 570.58,341.87 570.85,341.89 571.12,341.91 571.39,341.93 571.66,341.95 571.93,341.97 572.2,341.99 572.48,342.01 572.75,342.03 573.02,342.04 573.29,342.06 573.56,342.07 573.84,342.09 574.11,342.1 574.38,342.11 574.65,342.13 574.92,342.14 575.19,342.15 575.46,342.16 575.74,342.17 576.01,342.18 576.28,342.19 576.55,342.2 576.82,342.21 577.1,342.22 577.37,342.23 577.64,342.23 577.91,342.24 578.18,342.25 578.45,342.25 578.73,342.26 579,342.27 579.27,342.27 579.54,342.28 579.81,342.28 580.08,342.29 580.36,342.29 580.63,342.3 580.9,342.3 581.17,342.3 581.44,342.3 581.71,342.29 581.99,342.23 582.26,342.11 582.53,341.86 582.8,341.45 583.07,340.83 583.34,339.99 583.62,338.92 583.89,337.64 584.16,336.16 584.43,334.51 584.7,332.69 584.97,330.72 585.25,328.62 585.52,326.4 585.79,324.08 586.06,321.65 586.33,319.16 586.6,316.61 586.88,314.04 587.15,311.49 587.42,308.98 587.69,306.57 587.96,304.3 588.23,302.21 588.5,300.34 588.78,298.74 589.05,297.45 589.32,296.48 589.59,295.88 589.86,295.64 590.13,295.81 590.41,296.32 590.68,297.09 590.95,298.1 591.22,299.31 591.49,300.69 591.76,302.23 592.04,303.88 592.31,305.63 592.58,307.45 592.85,309.33 593.12,311.24 593.39,313.15 593.67,315.06 593.94,316.94 594.21,318.78 594.48,320.57 594.75,322.3 595.02,323.95 595.3,325.53 595.57,327.02 595.84,328.43 596.11,329.74 596.38,330.97 596.65,332.1 596.93,333.14 597.2,334.1 597.47,334.98 597.74,335.77 598.01,336.49 598.28,337.14 598.56,337.72 598.83,338.25 599.1,338.71 599.37,339.12 599.64,339.49 599.91,339.81 600.19,340.1 600.46,340.35 600.73,340.56 601,340.76 601.27,340.92 601.54,341.07 601.82,341.2 602.09,341.31 602.36,341.41 602.63,341.49 602.9,341.57 603.17,341.63 603.45,341.69 603.72,341.74 603.99,341.79 604.26,341.83 604.53,341.87 604.8,341.9 605.08,341.93 605.35,341.95 605.62,341.98 605.89,342 606.16,342.02 606.43,342.04 606.71,342.06 606.98,342.07 607.25,342.09 607.52,342.1 607.79,342.12 608.06,342.13 608.34,342.14 608.61,342.15 608.88,342.17 609.15,342.18 609.42,342.19 609.69,342.19 609.97,342.2 610.24,342.21 610.51,342.22 610.78,342.23 611.05,342.24 611.32,342.24 611.6,342.25 611.87,342.26 612.14,342.26 612.41,342.27 612.68,342.27 612.95,342.28 613.23,342.29 613.5,342.29 613.77,342.29 614.04,342.3 614.31,342.3 614.58,342.31 614.86,342.31 615.13,342.32 615.4,342.32 615.67,342.32 615.94,342.33 616.21,342.33 616.49,342.33 616.76,342.34 617.03,342.34 617.3,342.34 617.57,342.34 617.85,342.35 618.12,342.35 618.39,342.35 618.66,342.35 618.93,342.35 619.2,342.36 619.47,342.36 619.75,342.36 620.02,342.36 620.29,342.36 620.56,342.37 620.83,342.37 621.11,342.37 621.38,342.37 621.65,342.37 621.92,342.37 622.19,342.37 622.46,342.37 622.73,342.38 623.01,342.38 623.28,342.38 623.55,342.38 623.82,342.38 624.09,342.38 624.37,342.38 624.64,342.38 624.91,342.38 625.18,342.38 625.45,342.38 625.72,342.39 626,342.39 626.27,342.39 626.54,342.39 626.81,342.39 627.08,342.39 627.35,342.39 627.62,342.39 627.9,342.39 628.17,342.39 628.44,342.39 628.71,342.39 628.98,342.39 629.25,342.39 629.53,342.39 629.8,342.39 630.07,342.39 630.34,342.39 630.61,342.39 630.88,342.39 631.16,342.39 631.43,342.39 631.7,342.39 631.97,342.39 632.24,342.39 632.51,342.4 632.79,342.4 633.06,342.4 633.33,342.4 633.6,342.4 633.87,342.4 634.14,342.4 634.42,342.4 634.69,342.4 634.96,342.4 635.23,342.4 635.5,342.4 635.77,342.4 636.05,342.4 636.32,342.4 636.59,342.4 636.86,342.4 637.13,342.4 637.4,342.4 637.68,342.4 637.95,342.4 638.22,342.4 638.49,342.4 638.76,342.4 639.03,342.4 639.31,342.4 639.58,342.4 639.85,342.4 640.12,342.4 640.39,342.4 640.66,342.4 640.94,342.4 641.21,342.4 641.48,342.4 641.75,342.4 642.02,342.4 642.29,342.4 642.57,342.4 642.84,342.4 643.11,342.4 643.38,342.4 643.65,342.4 643.92,342.4 644.2,342.4 644.47,342.4 644.74,342.4 645.01,342.4 645.28,342.4 645.55,342.4 645.83,342.4 646.1,342.4 646.37,342.4 646.64,342.4 646.91,342.4 647.18,342.4 647.46,342.4 647.73,342.4 648,342.4 648.27,342.4 648.54,342.4 648.81,342.4 649.09,342.4 649.36,342.4 649.63,342.4 649.9,342.4 650.17,342.4 650.44,342.4 650.72,342.4 650.99,342.4 651.26,342.4 651.53,342.4 651.8,342.4 652.07,342.4 652.35,342.4 652.62,342.4 652.89,342.4 653.16,342.4 653.43,342.4 653.7,342.4 653.98,342.4 654.25,342.4 654.52,342.4 654.79,342.4 655.06,342.4 655.33,342.4 655.61,342.4 655.88,342.4 656.15,342.4 656.42,342.4 656.69,342.4 656.96,342.4 657.24,342.4 657.51,342.4 657.78,342.4 658.05,342.4 658.32,342.4 658.59,342.4 658.87,342.4 659.14,342.4 659.41,342.4 659.68,342.4 659.95,342.4 660.22,342.4 660.5,342.4 660.77,342.4 661.04,342.4 661.31,342.4 661.58,342.4 661.85,342.4 662.13,342.4 662.4,342.4 662.67,342.4 662.94,342.4 663.21,342.4 663.48,342.4 663.76,342.4 664.03,342.4 664.3,342.4" fill="none" stroke="#111" stroke-width="1"/>
<text transform="translate(495.9,247.4) scale(1,1.06)" x="0" y="0" font-size="8.87" text-anchor="end" fill="#1a1a1a" stroke="#1a1a1a" stroke-width="0.2">100</text>
<text transform="translate(495.9,296.5) scale(1,1.06)" x="0" y="0" font-size="8.87" text-anchor="end" fill="#1a1a1a" stroke="#1a1a1a" stroke-width="0.2">%</text>
<text transform="translate(495.9,345.8) scale(1,1.06)" x="0" y="0" font-size="8.87" text-anchor="end" fill="#1a1a1a" stroke="#1a1a1a" stroke-width="0.2">0</text>
<text transform="translate(552.24,355.99) scale(1,1.06)" x="0" y="0" font-size="8.87" text-anchor="middle" fill="#1a1a1a" stroke="#1a1a1a" stroke-width="0.2">3.250</text>
<text transform="translate(603.17,355.99) scale(1,1.06)" x="0" y="0" font-size="8.87" text-anchor="middle" fill="#1a1a1a" stroke="#1a1a1a" stroke-width="0.2">3.500</text>
<text transform="translate(654.11,355.99) scale(1,1.06)" x="0" y="0" font-size="8.87" text-anchor="middle" fill="#1a1a1a" stroke="#1a1a1a" stroke-width="0.2">3.750</text>
<text transform="translate(668.54,345.65) scale(1,1.06)" x="0" y="0" font-size="9.16" fill="#1a1a1a" stroke="#1a1a1a" stroke-width="0.2">min</text>
<text transform="translate(552.1,242.33) scale(1,1.06)" x="0" y="0" font-size="9.16" text-anchor="middle" fill="#1a1a1a" stroke="#1a1a1a" stroke-width="0.2">3.25</text>
<text transform="translate(589.9,293.79) scale(1,1.06)" x="0" y="0" font-size="9.16" text-anchor="middle" fill="#1a1a1a" stroke="#1a1a1a" stroke-width="0.2">3.43</text>
<text x="24.86" y="467.94" font-size="10.64" font-weight="bold" fill="#000" stroke="#000" stroke-width="0.25">FB1</text>
<text transform="translate(25.56,480.15) scale(1,1.06)" x="0" y="0" font-size="9.16" fill="#1a1a1a" stroke="#1a1a1a" stroke-width="0.2">SPIKE-4</text>
<text transform="translate(231.71,480.35) scale(1,1.06)" x="0" y="0" font-size="9.16" text-anchor="end" fill="#1a1a1a" stroke="#1a1a1a" stroke-width="0.2">F1:MRM of 3 channels,ES+</text>
<text transform="translate(231.71,490.4) scale(1,1.06)" x="0" y="0" font-size="9.16" text-anchor="end" fill="#1a1a1a" stroke="#1a1a1a" stroke-width="0.2">722.479 &gt; 352.427</text>
<text transform="translate(231.71,500.94) scale(1,1.06)" x="0" y="0" font-size="9.16" text-anchor="end" fill="#1a1a1a" stroke="#1a1a1a" stroke-width="0.2">2.152e+005</text>
<polygon points="136.56,600.8 136.7,600.8 136.97,600.8 137.24,600.8 137.51,600.79 137.78,600.77 138.06,600.72 138.33,600.59 138.6,600.33 138.87,599.88 139.14,599.16 139.41,598.13 139.68,596.75 139.95,595.01 140.23,592.91 140.5,590.48 140.77,587.74 141.04,584.71 141.31,581.43 141.58,577.9 141.85,574.16 142.12,570.22 142.39,566.1 142.67,561.8 142.94,557.37 143.21,552.81 143.48,548.18 143.75,543.49 144.02,538.82 144.29,534.19 144.56,529.67 144.84,525.33 145.11,521.21 145.38,517.4 145.65,513.93 145.92,510.88 146.19,508.3 146.46,506.23 146.73,504.7 147,503.76 147.28,503.4 147.55,503.71 147.82,504.57 148.09,505.87 148.36,507.55 148.63,509.57 148.9,511.9 149.17,514.49 149.45,517.31 149.72,520.33 149.99,523.5 150.26,526.79 150.53,530.18 150.8,533.63 151.07,537.11 151.34,540.6 151.61,544.08 151.89,547.51 152.16,550.88 152.43,554.16 152.7,557.36 152.97,560.44 153.24,563.41 153.51,566.25 153.78,568.95 154.06,571.51 154.33,573.93 154.6,576.2 154.87,578.33 155.14,580.32 155.41,582.16 155.68,583.87 155.95,585.45 156.22,586.9 156.5,588.23 156.77,589.44 157.04,590.55 157.31,591.55 157.58,592.46 157.85,593.29 158.12,594.03 158.39,594.69 158.66,595.29 158.94,595.83 159.21,596.3 159.48,596.73 159.75,597.11 160.02,597.45 160.29,597.75 160.56,598.02 160.83,598.26 161.11,598.47 161.38,598.65 161.65,598.82 161.92,598.97 162.19,599.1 162.46,599.22 162.73,599.32 163,599.42 163.27,599.5 163.55,599.58 163.82,599.65 164.09,599.71 164.36,599.77 164.63,599.82 164.9,599.87 165.17,599.92 165.44,599.96 165.72,599.99 165.99,600.03 166.26,600.06 166.53,600.1 166.8,600.13 167.07,600.15 167.34,600.18 167.61,600.21 167.88,600.23 168.16,600.25 168.43,600.27 168.7,600.29 168.97,600.31 169.24,600.33 169.51,600.35 169.78,600.37 170.05,600.39 170.32,600.4 170.6,600.42 170.87,600.43 171.14,600.45 171.41,600.46 171.68,600.47 171.95,600.48 172.22,600.5 172.4,600.8" fill="#c2c2c2" stroke="none"/>
<path d="M43.1,600.8H48.3M45.9,591.06H48.3M45.9,581.32H48.3M45.9,571.58H48.3M45.9,561.84H48.3M43.1,552.1H48.3M45.9,542.36H48.3M45.9,532.62H48.3M45.9,522.88H48.3M45.9,513.14H48.3M43.1,503.4H48.3M48.3,503.4V600.8" stroke="#222" stroke-width="1" fill="none"/>
<path d="M52.95,600.8V603.6M57.6,600.8V603.6M62.25,600.8V603.6M66.89,600.8V603.6M71.54,600.8V605.8M76.19,600.8V603.6M80.84,600.8V603.6M85.49,600.8V603.6M90.14,600.8V603.6M94.79,600.8V605.8M99.43,600.8V603.6M104.08,600.8V603.6M108.73,600.8V603.6M113.38,600.8V603.6M118.03,600.8V605.8M122.68,600.8V603.6M127.33,600.8V603.6M131.97,600.8V603.6M136.62,600.8V603.6M141.27,600.8V605.8M145.92,600.8V603.6M150.57,600.8V603.6M155.22,600.8V603.6M159.87,600.8V603.6M164.51,600.8V605.8M169.16,600.8V603.6M173.81,600.8V603.6M178.46,600.8V603.6M183.11,600.8V603.6M187.76,600.8V605.8M192.41,600.8V603.6M197.05,600.8V603.6M201.7,600.8V603.6M206.35,600.8V603.6" stroke="#222" stroke-width="1" fill="none"/>
<path d="M43.3,600.8H211" stroke="#1a1a1a" stroke-width="1.8" fill="none"/>
<polyline points="48.3,600.8 48.57,600.8 48.84,600.8 49.11,600.8 49.38,600.8 49.66,600.8 49.93,600.8 50.2,600.8 50.47,600.8 50.74,600.8 51.01,600.8 51.28,600.8 51.55,600.8 51.83,600.8 52.1,600.8 52.37,600.8 52.64,600.8 52.91,600.8 53.18,600.8 53.45,600.8 53.72,600.8 53.99,600.8 54.27,600.8 54.54,600.8 54.81,600.8 55.08,600.8 55.35,600.8 55.62,600.8 55.89,600.8 56.16,600.8 56.43,600.8 56.71,600.8 56.98,600.8 57.25,600.8 57.52,600.8 57.79,600.8 58.06,600.8 58.33,600.8 58.6,600.8 58.88,600.8 59.15,600.8 59.42,600.8 59.69,600.8 59.96,600.8 60.23,600.8 60.5,600.8 60.77,600.8 61.04,600.8 61.32,600.8 61.59,600.8 61.86,600.8 62.13,600.8 62.4,600.8 62.67,600.8 62.94,600.8 63.21,600.8 63.49,600.8 63.76,600.8 64.03,600.8 64.3,600.8 64.57,600.8 64.84,600.8 65.11,600.8 65.38,600.8 65.65,600.8 65.93,600.8 66.2,600.8 66.47,600.8 66.74,600.8 67.01,600.8 67.28,600.8 67.55,600.8 67.82,600.8 68.1,600.8 68.37,600.8 68.64,600.8 68.91,600.8 69.18,600.8 69.45,600.8 69.72,600.8 69.99,600.8 70.26,600.8 70.54,600.8 70.81,600.8 71.08,600.8 71.35,600.8 71.62,600.8 71.89,600.8 72.16,600.8 72.43,600.8 72.7,600.8 72.98,600.8 73.25,600.8 73.52,600.8 73.79,600.8 74.06,600.8 74.33,600.8 74.6,600.8 74.87,600.8 75.15,600.8 75.42,600.8 75.69,600.8 75.96,600.8 76.23,600.8 76.5,600.8 76.77,600.8 77.04,600.8 77.31,600.8 77.59,600.8 77.86,600.8 78.13,600.8 78.4,600.8 78.67,600.8 78.94,600.8 79.21,600.8 79.48,600.8 79.76,600.8 80.03,600.8 80.3,600.8 80.57,600.8 80.84,600.8 81.11,600.8 81.38,600.8 81.65,600.8 81.92,600.8 82.2,600.8 82.47,600.8 82.74,600.8 83.01,600.8 83.28,600.8 83.55,600.8 83.82,600.8 84.09,600.8 84.37,600.8 84.64,600.8 84.91,600.8 85.18,600.8 85.45,600.8 85.72,600.8 85.99,600.8 86.26,600.8 86.53,600.8 86.81,600.8 87.08,600.8 87.35,600.8 87.62,600.8 87.89,600.8 88.16,600.8 88.43,600.8 88.7,600.8 88.97,600.8 89.25,600.8 89.52,600.8 89.79,600.8 90.06,600.8 90.33,600.8 90.6,600.8 90.87,600.8 91.14,600.8 91.42,600.8 91.69,600.8 91.96,600.8 92.23,600.8 92.5,600.8 92.77,600.8 93.04,600.8 93.31,600.8 93.58,600.8 93.86,600.8 94.13,600.8 94.4,600.8 94.67,600.8 94.94,600.8 95.21,600.8 95.48,600.8 95.75,600.8 96.03,600.8 96.3,600.8 96.57,600.8 96.84,600.8 97.11,600.8 97.38,600.8 97.65,600.8 97.92,600.8 98.19,600.8 98.47,600.8 98.74,600.8 99.01,600.8 99.28,600.8 99.55,600.8 99.82,600.8 100.09,600.8 100.36,600.8 100.64,600.8 100.91,600.8 101.18,600.8 101.45,600.8 101.72,600.8 101.99,600.8 102.26,600.8 102.53,600.8 102.8,600.8 103.08,600.8 103.35,600.8 103.62,600.8 103.89,600.8 104.16,600.8 104.43,600.8 104.7,600.8 104.97,600.8 105.25,600.8 105.52,600.8 105.79,600.8 106.06,600.8 106.33,600.8 106.6,600.8 106.87,600.8 107.14,600.8 107.41,600.8 107.69,600.8 107.96,600.8 108.23,600.8 108.5,600.8 108.77,600.8 109.04,600.8 109.31,600.8 109.58,600.8 109.85,600.8 110.13,600.8 110.4,600.8 110.67,600.8 110.94,600.8 111.21,600.8 111.48,600.8 111.75,600.8 112.02,600.8 112.3,600.8 112.57,600.8 112.84,600.8 113.11,600.8 113.38,600.8 113.65,600.8 113.92,600.8 114.19,600.8 114.46,600.8 114.74,600.8 115.01,600.8 115.28,600.8 115.55,600.8 115.82,600.8 116.09,600.8 116.36,600.8 116.63,600.8 116.91,600.8 117.18,600.8 117.45,600.8 117.72,600.8 117.99,600.8 118.26,600.8 118.53,600.8 118.8,600.8 119.07,600.8 119.35,600.8 119.62,600.8 119.89,600.8 120.16,600.8 120.43,600.8 120.7,600.8 120.97,600.8 121.24,600.8 121.52,600.8 121.79,600.8 122.06,600.8 122.33,600.8 122.6,600.8 122.87,600.8 123.14,600.8 123.41,600.8 123.68,600.8 123.96,600.8 124.23,600.8 124.5,600.8 124.77,600.8 125.04,600.8 125.31,600.8 125.58,600.8 125.85,600.8 126.12,600.8 126.4,600.8 126.67,600.8 126.94,600.8 127.21,600.8 127.48,600.8 127.75,600.8 128.02,600.8 128.29,600.8 128.57,600.8 128.84,600.8 129.11,600.8 129.38,600.8 129.65,600.8 129.92,600.8 130.19,600.8 130.46,600.8 130.73,600.8 131.01,600.8 131.28,600.8 131.55,600.8 131.82,600.8 132.09,600.8 132.36,600.8 132.63,600.8 132.9,600.8 133.18,600.8 133.45,600.8 133.72,600.8 133.99,600.8 134.26,600.8 134.53,600.8 134.8,600.8 135.07,600.8 135.34,600.8 135.62,600.8 135.89,600.8 136.16,600.8 136.43,600.8 136.7,600.8 136.97,600.8 137.24,600.8 137.51,600.79 137.78,600.77 138.06,600.72 138.33,600.59 138.6,600.33 138.87,599.88 139.14,599.16 139.41,598.13 139.68,596.75 139.95,595.01 140.23,592.91 140.5,590.48 140.77,587.74 141.04,584.71 141.31,581.43 141.58,577.9 141.85,574.16 142.12,570.22 142.39,566.1 142.67,561.8 142.94,557.37 143.21,552.81 143.48,548.18 143.75,543.49 144.02,538.82 144.29,534.19 144.56,529.67 144.84,525.33 145.11,521.21 145.38,517.4 145.65,513.93 145.92,510.88 146.19,508.3 146.46,506.23 146.73,504.7 147,503.76 147.28,503.4 147.55,503.71 147.82,504.57 148.09,505.87 148.36,507.55 148.63,509.57 148.9,511.9 149.17,514.49 149.45,517.31 149.72,520.33 149.99,523.5 150.26,526.79 150.53,530.18 150.8,533.63 151.07,537.11 151.34,540.6 151.61,544.08 151.89,547.51 152.16,550.88 152.43,554.16 152.7,557.36 152.97,560.44 153.24,563.41 153.51,566.25 153.78,568.95 154.06,571.51 154.33,573.93 154.6,576.2 154.87,578.33 155.14,580.32 155.41,582.16 155.68,583.87 155.95,585.45 156.22,586.9 156.5,588.23 156.77,589.44 157.04,590.55 157.31,591.55 157.58,592.46 157.85,593.29 158.12,594.03 158.39,594.69 158.66,595.29 158.94,595.83 159.21,596.3 159.48,596.73 159.75,597.11 160.02,597.45 160.29,597.75 160.56,598.02 160.83,598.26 161.11,598.47 161.38,598.65 161.65,598.82 161.92,598.97 162.19,599.1 162.46,599.22 162.73,599.32 163,599.42 163.27,599.5 163.55,599.58 163.82,599.65 164.09,599.71 164.36,599.77 164.63,599.82 164.9,599.87 165.17,599.92 165.44,599.96 165.72,599.99 165.99,600.03 166.26,600.06 166.53,600.1 166.8,600.13 167.07,600.15 167.34,600.18 167.61,600.21 167.88,600.23 168.16,600.25 168.43,600.27 168.7,600.29 168.97,600.31 169.24,600.33 169.51,600.35 169.78,600.37 170.05,600.39 170.32,600.4 170.6,600.42 170.87,600.43 171.14,600.45 171.41,600.46 171.68,600.47 171.95,600.48 172.22,600.5 172.49,600.51 172.77,600.52 173.04,600.53 173.31,600.54 173.58,600.55 173.85,600.56 174.12,600.57 174.39,600.58 174.66,600.59 174.93,600.59 175.21,600.6 175.48,600.61 175.75,600.62 176.02,600.62 176.29,600.63 176.56,600.64 176.83,600.64 177.1,600.65 177.38,600.66 177.65,600.66 177.92,600.67 178.19,600.67 178.46,600.68 178.73,600.68 179,600.69 179.27,600.69 179.54,600.69 179.82,600.7 180.09,600.7 180.36,600.71 180.63,600.71 180.9,600.71 181.17,600.72 181.44,600.72 181.71,600.72 181.99,600.73 182.26,600.73 182.53,600.73 182.8,600.73 183.07,600.74 183.34,600.74 183.61,600.74 183.88,600.74 184.15,600.75 184.43,600.75 184.7,600.75 184.97,600.75 185.24,600.75 185.51,600.75 185.78,600.76 186.05,600.76 186.32,600.76 186.59,600.76 186.87,600.76 187.14,600.76 187.41,600.77 187.68,600.77 187.95,600.77 188.22,600.77 188.49,600.77 188.76,600.77 189.04,600.77 189.31,600.77 189.58,600.77 189.85,600.78 190.12,600.78 190.39,600.78 190.66,600.78 190.93,600.78 191.2,600.78 191.48,600.78 191.75,600.78 192.02,600.78 192.29,600.78 192.56,600.78 192.83,600.78 193.1,600.78 193.37,600.79 193.65,600.79 193.92,600.79 194.19,600.79 194.46,600.79 194.73,600.79 195,600.79 195.27,600.79 195.54,600.79 195.81,600.79 196.09,600.79 196.36,600.79 196.63,600.79 196.9,600.79 197.17,600.79 197.44,600.79 197.71,600.79 197.98,600.79 198.26,600.79 198.53,600.79 198.8,600.79 199.07,600.79 199.34,600.79 199.61,600.79 199.88,600.79 200.15,600.79 200.42,600.79 200.7,600.79 200.97,600.8 201.24,600.8 201.51,600.8 201.78,600.8 202.05,600.8 202.32,600.8 202.59,600.8 202.87,600.8 203.14,600.8 203.41,600.8 203.68,600.8 203.95,600.8 204.22,600.8 204.49,600.8 204.76,600.8 205.03,600.8 205.31,600.8 205.58,600.8 205.85,600.8 206.12,600.8 206.39,600.8 206.66,600.8 206.93,600.8 207.2,600.8 207.47,600.8 207.75,600.8 208.02,600.8 208.29,600.8 208.56,600.8 208.83,600.8 209.1,600.8 209.37,600.8 209.64,600.8 209.92,600.8 210.19,600.8 210.46,600.8 210.73,600.8 211,600.8" fill="none" stroke="#111" stroke-width="1"/>
<text transform="translate(42.9,506.6) scale(1,1.06)" x="0" y="0" font-size="8.87" text-anchor="end" fill="#1a1a1a" stroke="#1a1a1a" stroke-width="0.2">100</text>
<text transform="translate(42.9,555.3) scale(1,1.06)" x="0" y="0" font-size="8.87" text-anchor="end" fill="#1a1a1a" stroke="#1a1a1a" stroke-width="0.2">%</text>
<text transform="translate(42.9,604.2) scale(1,1.06)" x="0" y="0" font-size="8.87" text-anchor="end" fill="#1a1a1a" stroke="#1a1a1a" stroke-width="0.2">0</text>
<text transform="translate(71.54,614.39) scale(1,1.06)" x="0" y="0" font-size="8.87" text-anchor="middle" fill="#1a1a1a" stroke="#1a1a1a" stroke-width="0.2">2.600</text>
<text transform="translate(118.03,614.39) scale(1,1.06)" x="0" y="0" font-size="8.87" text-anchor="middle" fill="#1a1a1a" stroke="#1a1a1a" stroke-width="0.2">2.800</text>
<text transform="translate(164.51,614.39) scale(1,1.06)" x="0" y="0" font-size="8.87" text-anchor="middle" fill="#1a1a1a" stroke="#1a1a1a" stroke-width="0.2">3.000</text>
<text transform="translate(215.24,604.05) scale(1,1.06)" x="0" y="0" font-size="9.16" fill="#1a1a1a" stroke="#1a1a1a" stroke-width="0.2">min</text>
<text transform="translate(147.3,501.53) scale(1,1.06)" x="0" y="0" font-size="9.16" text-anchor="middle" fill="#1a1a1a" stroke="#1a1a1a" stroke-width="0.2">2.92</text>
<text x="247.86" y="467.94" font-size="10.64" font-weight="bold" fill="#000" stroke="#000" stroke-width="0.25">FB1</text>
<text transform="translate(248.56,480.15) scale(1,1.06)" x="0" y="0" font-size="9.16" fill="#1a1a1a" stroke="#1a1a1a" stroke-width="0.2">SPIKE-4</text>
<text transform="translate(454.71,480.35) scale(1,1.06)" x="0" y="0" font-size="9.16" text-anchor="end" fill="#1a1a1a" stroke="#1a1a1a" stroke-width="0.2">F1:MRM of 3 channels,ES+</text>
<text transform="translate(454.71,490.4) scale(1,1.06)" x="0" y="0" font-size="9.16" text-anchor="end" fill="#1a1a1a" stroke="#1a1a1a" stroke-width="0.2">722.479 &gt; 334.417</text>
<text transform="translate(454.71,500.94) scale(1,1.06)" x="0" y="0" font-size="9.16" text-anchor="end" fill="#1a1a1a" stroke="#1a1a1a" stroke-width="0.2">1.005e+005</text>
<polygon points="360.12,601 360.3,601 360.57,601 360.84,601 361.12,600.99 361.39,600.97 361.66,600.91 361.93,600.76 362.2,600.48 362.48,600 362.75,599.24 363.02,598.16 363.29,596.72 363.56,594.93 363.84,592.78 364.11,590.3 364.38,587.51 364.65,584.44 364.93,581.12 365.2,577.56 365.47,573.78 365.74,569.8 366.01,565.64 366.29,561.32 366.56,556.86 366.83,552.28 367.1,547.63 367.37,542.93 367.65,538.25 367.92,533.63 368.19,529.12 368.46,524.79 368.74,520.71 369.01,516.93 369.28,513.51 369.55,510.52 369.82,507.99 370.1,505.99 370.37,504.54 370.64,503.67 370.91,503.4 371.19,503.8 371.46,504.72 371.73,506.08 372,507.82 372.27,509.89 372.55,512.26 372.82,514.89 373.09,517.74 373.36,520.79 373.63,523.98 373.91,527.3 374.18,530.7 374.45,534.17 374.72,537.66 375,541.16 375.27,544.63 375.54,548.06 375.81,551.43 376.08,554.71 376.36,557.9 376.63,560.98 376.9,563.93 377.17,566.76 377.44,569.44 377.72,571.99 377.99,574.39 378.26,576.65 378.53,578.76 378.81,580.73 379.08,582.56 379.35,584.26 379.62,585.82 379.89,587.26 380.17,588.57 380.44,589.78 380.71,590.87 380.98,591.86 381.26,592.76 381.53,593.58 381.8,594.31 382.07,594.97 382.34,595.56 382.62,596.09 382.89,596.56 383.16,596.98 383.43,597.35 383.7,597.69 383.98,597.98 384.25,598.25 384.52,598.48 384.79,598.69 385.07,598.87 385.34,599.04 385.61,599.18 385.88,599.31 386.15,599.43 386.43,599.53 386.7,599.63 386.97,599.71 387.24,599.79 387.52,599.86 387.79,599.92 388.06,599.97 388.33,600.03 388.6,600.08 388.88,600.12 389.15,600.16 389.42,600.2 389.69,600.23 389.96,600.27 390.24,600.3 390.51,600.33 390.78,600.36 391.05,600.38 391.33,600.41 391.6,600.43 391.87,600.45 392.14,600.48 392.41,600.5 392.69,600.52 392.96,600.53 393.23,600.55 393.5,600.57 393.77,600.59 394.05,600.6 394.32,600.62 394.59,600.63 394.86,600.65 395.14,600.66 395.41,600.67 395.68,600.69 395.95,600.7 396.09,601" fill="#c2c2c2" stroke="none"/>
<path d="M266.1,601H271.3M268.9,591.24H271.3M268.9,581.48H271.3M268.9,571.72H271.3M268.9,561.96H271.3M266.1,552.2H271.3M268.9,542.44H271.3M268.9,532.68H271.3M268.9,522.92H271.3M268.9,513.16H271.3M266.1,503.4H271.3M271.3,503.4V601" stroke="#222" stroke-width="1" fill="none"/>
<path d="M275.97,601V603.8M280.63,601V603.8M285.3,601V603.8M289.96,601V603.8M294.63,601V606M299.29,601V603.8M303.96,601V603.8M308.63,601V603.8M313.29,601V603.8M317.96,601V606M322.62,601V603.8M327.29,601V603.8M331.95,601V603.8M336.62,601V603.8M341.29,601V606M345.95,601V603.8M350.62,601V603.8M355.28,601V603.8M359.95,601V603.8M364.61,601V606M369.28,601V603.8M373.95,601V603.8M378.61,601V603.8M383.28,601V603.8M387.94,601V606M392.61,601V603.8M397.27,601V603.8M401.94,601V603.8M406.61,601V603.8M411.27,601V606M415.94,601V603.8M420.6,601V603.8M425.27,601V603.8M429.93,601V603.8" stroke="#222" stroke-width="1" fill="none"/>
<path d="M266.3,601H434.6" stroke="#1a1a1a" stroke-width="1.8" fill="none"/>
<polyline points="271.3,601 271.57,601 271.84,601 272.12,601 272.39,601 272.66,601 272.93,601 273.21,601 273.48,601 273.75,601 274.02,601 274.29,601 274.57,601 274.84,601 275.11,601 275.38,601 275.65,601 275.93,601 276.2,601 276.47,601 276.74,601 277.02,601 277.29,601 277.56,601 277.83,601 278.1,601 278.38,601 278.65,601 278.92,601 279.19,601 279.47,601 279.74,601 280.01,601 280.28,601 280.55,601 280.83,601 281.1,601 281.37,601 281.64,601 281.91,601 282.19,601 282.46,601 282.73,601 283,601 283.28,601 283.55,601 283.82,601 284.09,601 284.36,601 284.64,601 284.91,601 285.18,601 285.45,601 285.72,601 286,601 286.27,601 286.54,601 286.81,601 287.09,601 287.36,601 287.63,601 287.9,601 288.17,601 288.45,601 288.72,601 288.99,601 289.26,601 289.54,601 289.81,601 290.08,601 290.35,601 290.62,601 290.9,601 291.17,601 291.44,601 291.71,601 291.98,601 292.26,601 292.53,601 292.8,601 293.07,601 293.35,601 293.62,601 293.89,601 294.16,601 294.43,601 294.71,601 294.98,601 295.25,601 295.52,601 295.8,601 296.07,601 296.34,601 296.61,601 296.88,601 297.16,601 297.43,601 297.7,601 297.97,601 298.24,601 298.52,601 298.79,601 299.06,601 299.33,601 299.61,601 299.88,601 300.15,601 300.42,601 300.69,601 300.97,601 301.24,601 301.51,601 301.78,601 302.05,601 302.33,601 302.6,601 302.87,601 303.14,601 303.42,601 303.69,601 303.96,601 304.23,601 304.5,601 304.78,601 305.05,601 305.32,601 305.59,601 305.87,601 306.14,601 306.41,601 306.68,601 306.95,601 307.23,601 307.5,601 307.77,601 308.04,601 308.31,601 308.59,601 308.86,601 309.13,601 309.4,601 309.68,601 309.95,601 310.22,601 310.49,601 310.76,601 311.04,601 311.31,601 311.58,601 311.85,601 312.12,601 312.4,601 312.67,601 312.94,601 313.21,601 313.49,601 313.76,601 314.03,601 314.3,601 314.57,601 314.85,601 315.12,601 315.39,601 315.66,601 315.94,601 316.21,601 316.48,601 316.75,601 317.02,601 317.3,601 317.57,601 317.84,601 318.11,601 318.38,601 318.66,601 318.93,601 319.2,601 319.47,601 319.75,601 320.02,601 320.29,601 320.56,601 320.83,601 321.11,601 321.38,601 321.65,601 321.92,601 322.2,601 322.47,601 322.74,601 323.01,601 323.28,601 323.56,601 323.83,601 324.1,601 324.37,601 324.64,601 324.92,601 325.19,601 325.46,601 325.73,601 326.01,601 326.28,601 326.55,601 326.82,601 327.09,601 327.37,601 327.64,601 327.91,601 328.18,601 328.46,601 328.73,601 329,601 329.27,601 329.54,601 329.82,601 330.09,601 330.36,601 330.63,601 330.9,601 331.18,601 331.45,601 331.72,601 331.99,601 332.27,601 332.54,601 332.81,601 333.08,601 333.35,601 333.63,601 333.9,601 334.17,601 334.44,601 334.71,601 334.99,601 335.26,601 335.53,601 335.8,601 336.08,601 336.35,601 336.62,601 336.89,601 337.16,601 337.44,601 337.71,601 337.98,601 338.25,601 338.53,601 338.8,601 339.07,601 339.34,601 339.61,601 339.89,601 340.16,601 340.43,601 340.7,601 340.97,601 341.25,601 341.52,601 341.79,601 342.06,601 342.34,601 342.61,601 342.88,601 343.15,601 343.42,601 343.7,601 343.97,601 344.24,601 344.51,601 344.79,601 345.06,601 345.33,601 345.6,601 345.87,601 346.15,601 346.42,601 346.69,601 346.96,601 347.23,601 347.51,601 347.78,601 348.05,601 348.32,601 348.6,601 348.87,601 349.14,601 349.41,601 349.68,601 349.96,601 350.23,601 350.5,601 350.77,601 351.04,601 351.32,601 351.59,601 351.86,601 352.13,601 352.41,601 352.68,601 352.95,601 353.22,601 353.49,601 353.77,601 354.04,601 354.31,601 354.58,601 354.86,601 355.13,601 355.4,601 355.67,601 355.94,601 356.22,601 356.49,601 356.76,601 357.03,601 357.3,601 357.58,601 357.85,601 358.12,601 358.39,601 358.67,601 358.94,601 359.21,601 359.48,601 359.75,601 360.03,601 360.3,601 360.57,601 360.84,601 361.12,600.99 361.39,600.97 361.66,600.91 361.93,600.76 362.2,600.48 362.48,600 362.75,599.24 363.02,598.16 363.29,596.72 363.56,594.93 363.84,592.78 364.11,590.3 364.38,587.51 364.65,584.44 364.93,581.12 365.2,577.56 365.47,573.78 365.74,569.8 366.01,565.64 366.29,561.32 366.56,556.86 366.83,552.28 367.1,547.63 367.37,542.93 367.65,538.25 367.92,533.63 368.19,529.12 368.46,524.79 368.74,520.71 369.01,516.93 369.28,513.51 369.55,510.52 369.82,507.99 370.1,505.99 370.37,504.54 370.64,503.67 370.91,503.4 371.19,503.8 371.46,504.72 371.73,506.08 372,507.82 372.27,509.89 372.55,512.26 372.82,514.89 373.09,517.74 373.36,520.79 373.63,523.98 373.91,527.3 374.18,530.7 374.45,534.17 374.72,537.66 375,541.16 375.27,544.63 375.54,548.06 375.81,551.43 376.08,554.71 376.36,557.9 376.63,560.98 376.9,563.93 377.17,566.76 377.44,569.44 377.72,571.99 377.99,574.39 378.26,576.65 378.53,578.76 378.81,580.73 379.08,582.56 379.35,584.26 379.62,585.82 379.89,587.26 380.17,588.57 380.44,589.78 380.71,590.87 380.98,591.86 381.26,592.76 381.53,593.58 381.8,594.31 382.07,594.97 382.34,595.56 382.62,596.09 382.89,596.56 383.16,596.98 383.43,597.35 383.7,597.69 383.98,597.98 384.25,598.25 384.52,598.48 384.79,598.69 385.07,598.87 385.34,599.04 385.61,599.18 385.88,599.31 386.15,599.43 386.43,599.53 386.7,599.63 386.97,599.71 387.24,599.79 387.52,599.86 387.79,599.92 388.06,599.97 388.33,600.03 388.6,600.08 388.88,600.12 389.15,600.16 389.42,600.2 389.69,600.23 389.96,600.27 390.24,600.3 390.51,600.33 390.78,600.36 391.05,600.38 391.33,600.41 391.6,600.43 391.87,600.45 392.14,600.48 392.41,600.5 392.69,600.52 392.96,600.53 393.23,600.55 393.5,600.57 393.77,600.59 394.05,600.6 394.32,600.62 394.59,600.63 394.86,600.65 395.14,600.66 395.41,600.67 395.68,600.69 395.95,600.7 396.22,600.71 396.5,600.72 396.77,600.73 397.04,600.74 397.31,600.75 397.59,600.76 397.86,600.77 398.13,600.78 398.4,600.79 398.67,600.8 398.95,600.8 399.22,600.81 399.49,600.82 399.76,600.82 400.03,600.83 400.31,600.84 400.58,600.84 400.85,600.85 401.12,600.86 401.4,600.86 401.67,600.87 401.94,600.87 402.21,600.88 402.48,600.88 402.76,600.89 403.03,600.89 403.3,600.89 403.57,600.9 403.85,600.9 404.12,600.91 404.39,600.91 404.66,600.91 404.93,600.92 405.21,600.92 405.48,600.92 405.75,600.93 406.02,600.93 406.29,600.93 406.57,600.93 406.84,600.94 407.11,600.94 407.38,600.94 407.66,600.94 407.93,600.95 408.2,600.95 408.47,600.95 408.74,600.95 409.02,600.95 409.29,600.96 409.56,600.96 409.83,600.96 410.11,600.96 410.38,600.96 410.65,600.96 410.92,600.96 411.19,600.97 411.47,600.97 411.74,600.97 412.01,600.97 412.28,600.97 412.55,600.97 412.83,600.97 413.1,600.97 413.37,600.97 413.64,600.98 413.92,600.98 414.19,600.98 414.46,600.98 414.73,600.98 415,600.98 415.28,600.98 415.55,600.98 415.82,600.98 416.09,600.98 416.36,600.98 416.64,600.98 416.91,600.98 417.18,600.99 417.45,600.99 417.73,600.99 418,600.99 418.27,600.99 418.54,600.99 418.81,600.99 419.09,600.99 419.36,600.99 419.63,600.99 419.9,600.99 420.18,600.99 420.45,600.99 420.72,600.99 420.99,600.99 421.26,600.99 421.54,600.99 421.81,600.99 422.08,600.99 422.35,600.99 422.62,600.99 422.9,600.99 423.17,600.99 423.44,600.99 423.71,600.99 423.99,600.99 424.26,600.99 424.53,600.99 424.8,601 425.07,601 425.35,601 425.62,601 425.89,601 426.16,601 426.44,601 426.71,601 426.98,601 427.25,601 427.52,601 427.8,601 428.07,601 428.34,601 428.61,601 428.88,601 429.16,601 429.43,601 429.7,601 429.97,601 430.25,601 430.52,601 430.79,601 431.06,601 431.33,601 431.61,601 431.88,601 432.15,601 432.42,601 432.69,601 432.97,601 433.24,601 433.51,601 433.78,601 434.06,601 434.33,601 434.6,601" fill="none" stroke="#111" stroke-width="1"/>
<text transform="translate(265.9,506.6) scale(1,1.06)" x="0" y="0" font-size="8.87" text-anchor="end" fill="#1a1a1a" stroke="#1a1a1a" stroke-width="0.2">100</text>
<text transform="translate(265.9,555.4) scale(1,1.06)" x="0" y="0" font-size="8.87" text-anchor="end" fill="#1a1a1a" stroke="#1a1a1a" stroke-width="0.2">%</text>
<text transform="translate(265.9,604.4) scale(1,1.06)" x="0" y="0" font-size="8.87" text-anchor="end" fill="#1a1a1a" stroke="#1a1a1a" stroke-width="0.2">0</text>
<text transform="translate(294.63,614.59) scale(1,1.06)" x="0" y="0" font-size="8.87" text-anchor="middle" fill="#1a1a1a" stroke="#1a1a1a" stroke-width="0.2">2.600</text>
<text transform="translate(341.29,614.59) scale(1,1.06)" x="0" y="0" font-size="8.87" text-anchor="middle" fill="#1a1a1a" stroke="#1a1a1a" stroke-width="0.2">2.800</text>
<text transform="translate(387.94,614.59) scale(1,1.06)" x="0" y="0" font-size="8.87" text-anchor="middle" fill="#1a1a1a" stroke="#1a1a1a" stroke-width="0.2">3.000</text>
<text transform="translate(438.84,604.25) scale(1,1.06)" x="0" y="0" font-size="9.16" fill="#1a1a1a" stroke="#1a1a1a" stroke-width="0.2">min</text>
<text transform="translate(370.9,501.53) scale(1,1.06)" x="0" y="0" font-size="9.16" text-anchor="middle" fill="#1a1a1a" stroke="#1a1a1a" stroke-width="0.2">2.92</text>
<text x="470.96" y="467.94" font-size="10.64" font-weight="bold" fill="#000" stroke="#000" stroke-width="0.25">FB2</text>
<text transform="translate(471.66,480.15) scale(1,1.06)" x="0" y="0" font-size="9.16" fill="#1a1a1a" stroke="#1a1a1a" stroke-width="0.2">SPIKE-4</text>
<text transform="translate(677.81,480.35) scale(1,1.06)" x="0" y="0" font-size="9.16" text-anchor="end" fill="#1a1a1a" stroke="#1a1a1a" stroke-width="0.2">F3:MRM of 3 channels,ES+</text>
<text transform="translate(677.81,490.4) scale(1,1.06)" x="0" y="0" font-size="9.16" text-anchor="end" fill="#1a1a1a" stroke="#1a1a1a" stroke-width="0.2">706.479 &gt; 336.429</text>
<text transform="translate(677.81,500.94) scale(1,1.06)" x="0" y="0" font-size="9.16" text-anchor="end" fill="#1a1a1a" stroke="#1a1a1a" stroke-width="0.2">4.204e+005</text>
<polygon points="573.46,601 573.7,600.91 573.97,600.91 574.24,600.91 574.51,600.9 574.79,600.87 575.06,600.77 575.33,600.56 575.61,600.17 575.88,599.55 576.15,598.65 576.42,597.47 576.69,596 576.97,594.27 577.24,592.29 577.51,590.09 577.78,587.69 578.06,585.11 578.33,582.36 578.6,579.47 578.88,576.44 579.15,573.31 579.42,570.08 579.69,566.81 579.97,563.52 580.24,560.27 580.51,557.1 580.78,554.07 581.05,551.24 581.33,548.66 581.6,546.39 581.87,544.48 582.14,542.97 582.42,541.9 582.69,541.29 582.96,541.17 583.24,541.57 583.51,542.35 583.78,543.46 584.05,544.84 584.33,546.48 584.6,548.32 584.87,550.34 585.14,552.5 585.41,554.78 585.69,557.15 585.96,559.56 586.23,562.01 586.5,564.46 586.78,566.89 587.05,569.28 587.32,571.62 587.6,573.88 587.87,576.06 588.14,578.14 588.41,580.12 588.68,581.99 588.96,583.75 589.23,585.39 589.5,586.91 589.77,588.32 590.05,589.62 590.32,590.8 590.59,591.88 590.87,592.87 591.14,593.75 591.41,594.55 591.68,595.27 591.95,595.91 592.23,596.48 592.5,596.98 592.77,597.43 593.04,597.83 593.32,598.17 593.59,598.48 593.86,598.75 594.13,598.98 594.41,599.18 594.68,599.36 594.95,599.52 595.23,599.65 595.5,599.77 595.77,599.88 596.04,599.97 596.31,600.05 596.59,600.12 596.86,600.18 597.13,600.24 597.4,600.29 597.68,600.33 597.95,600.37 598.22,600.41 598.5,600.44 598.77,600.47 599.04,600.5 599.31,600.52 599.59,600.55 599.86,600.57 600.13,600.59 600.4,600.61 600.67,600.63 600.95,600.65 601.22,600.66 601.49,600.68 601.76,600.69 602.04,600.7 602.31,600.72 602.58,600.73 602.86,600.74 603.13,600.75 603.4,600.76 603.67,600.77 603.94,600.78 604.22,600.79 604.49,600.8 604.76,600.81 604.97,601" fill="#c2c2c2" stroke="none"/>
<path d="M489.2,601H494.4M492,591.24H494.4M492,581.48H494.4M492,571.72H494.4M492,561.96H494.4M489.2,552.2H494.4M492,542.44H494.4M492,532.68H494.4M492,522.92H494.4M492,513.16H494.4M489.2,503.4H494.4M494.4,503.4V601" stroke="#222" stroke-width="1" fill="none"/>
<path d="M499.51,601V603.8M504.62,601V603.8M509.73,601V603.8M514.84,601V603.8M519.95,601V606M525.06,601V603.8M530.17,601V603.8M535.27,601V603.8M540.38,601V603.8M545.49,601V606M550.6,601V603.8M555.71,601V603.8M560.82,601V603.8M565.93,601V603.8M571.04,601V606M576.15,601V603.8M581.26,601V603.8M586.37,601V603.8M591.48,601V603.8M596.59,601V606M601.7,601V603.8M606.81,601V603.8M611.92,601V603.8M617.03,601V603.8M622.13,601V606M627.24,601V603.8M632.35,601V603.8M637.46,601V603.8M642.57,601V603.8M647.68,601V606M652.79,601V603.8" stroke="#222" stroke-width="1" fill="none"/>
<path d="M489.4,601H657.9" stroke="#1a1a1a" stroke-width="1.8" fill="none"/>
<polyline points="494.4,601 494.67,601 494.94,601 495.22,601 495.49,601 495.76,601 496.03,601 496.31,601 496.58,601 496.85,601 497.12,601 497.4,601 497.67,601 497.94,601 498.21,601 498.49,601 498.76,601 499.03,601 499.3,601 499.58,601 499.85,601 500.12,601 500.39,601 500.67,601 500.94,601 501.21,601 501.48,601 501.76,601 502.03,601 502.3,601 502.57,601 502.85,601 503.12,601 503.39,601 503.66,601 503.94,601 504.21,601 504.48,601 504.75,601 505.03,601 505.3,601 505.57,601 505.84,601 506.12,601 506.39,601 506.66,601 506.94,601 507.21,601 507.48,601 507.75,601 508.02,601 508.3,601 508.57,601 508.84,601 509.11,601 509.39,601 509.66,601 509.93,601 510.2,601 510.48,601 510.75,601 511.02,601 511.29,601 511.57,601 511.84,601 512.11,601 512.38,601 512.66,601 512.93,601 513.2,601 513.48,601 513.75,601 514.02,601 514.29,601 514.56,601 514.84,601 515.11,601 515.38,601 515.65,601 515.93,601 516.2,601 516.47,601 516.75,601 517.02,601 517.29,601 517.56,601 517.84,601 518.11,601 518.38,601 518.65,601 518.92,601 519.2,601 519.47,601 519.74,601 520.01,601 520.29,601 520.56,601 520.83,601 521.11,601 521.38,601 521.65,601 521.92,601 522.19,601 522.47,601 522.74,601 523.01,601 523.28,601 523.56,601 523.83,601 524.1,601 524.38,601 524.65,601 524.92,601 525.19,601 525.47,601 525.74,601 526.01,601 526.28,601 526.55,601 526.83,601 527.1,601 527.37,601 527.64,601 527.92,601 528.19,601 528.46,601 528.74,601 529.01,601 529.28,601 529.55,601 529.82,601 530.1,601 530.37,601 530.64,601 530.91,601 531.19,601 531.46,601 531.73,601 532,601 532.28,601 532.55,601 532.82,601 533.1,601 533.37,601 533.64,601 533.91,601 534.18,601 534.46,601 534.73,601 535,601 535.27,601 535.55,601 535.82,601 536.09,600.99 536.37,600.95 536.64,600.84 536.91,600.58 537.18,600.09 537.45,599.25 537.73,597.99 538,596.27 538.27,594.08 538.54,591.44 538.82,588.38 539.09,584.94 539.36,581.16 539.63,577.08 539.91,572.72 540.18,568.1 540.45,563.25 540.73,558.21 541,553 541.27,547.69 541.54,542.33 541.81,536.98 542.09,531.74 542.36,526.68 542.63,521.9 542.9,517.5 543.18,513.55 543.45,510.16 543.72,507.4 544,505.32 544.27,503.98 544.54,503.42 544.81,503.7 545.09,504.71 545.36,506.28 545.63,508.35 545.9,510.84 546.17,513.7 546.45,516.87 546.72,520.3 546.99,523.94 547.26,527.73 547.54,531.64 547.81,535.62 548.08,539.61 548.36,543.6 548.63,547.53 548.9,551.38 549.17,555.13 549.44,558.75 549.72,562.22 549.99,565.52 550.26,568.65 550.53,571.6 550.81,574.36 551.08,576.93 551.35,579.31 551.62,581.51 551.9,583.53 552.17,585.37 552.44,587.04 552.72,588.56 552.99,589.92 553.26,591.15 553.53,592.25 553.8,593.23 554.08,594.1 554.35,594.87 554.62,595.55 554.89,596.15 555.17,596.68 555.44,597.14 555.71,597.54 555.99,597.9 556.26,598.21 556.53,598.48 556.8,598.71 557.07,598.92 557.35,599.1 557.62,599.26 557.89,599.4 558.16,599.52 558.44,599.63 558.71,599.72 558.98,599.81 559.25,599.88 559.53,599.95 559.8,600.01 560.07,600.07 560.35,600.12 560.62,600.17 560.89,600.21 561.16,600.25 561.43,600.28 561.71,600.32 561.98,600.35 562.25,600.38 562.52,600.41 562.8,600.44 563.07,600.46 563.34,600.49 563.62,600.51 563.89,600.53 564.16,600.55 564.43,600.57 564.7,600.59 564.98,600.61 565.25,600.63 565.52,600.64 565.79,600.66 566.07,600.67 566.34,600.69 566.61,600.7 566.88,600.71 567.16,600.73 567.43,600.74 567.7,600.75 567.98,600.76 568.25,600.77 568.52,600.78 568.79,600.79 569.06,600.8 569.34,600.81 569.61,600.82 569.88,600.82 570.15,600.83 570.43,600.84 570.7,600.85 570.97,600.85 571.25,600.86 571.52,600.87 571.79,600.87 572.06,600.88 572.34,600.88 572.61,600.89 572.88,600.89 573.15,600.9 573.42,600.9 573.7,600.91 573.97,600.91 574.24,600.91 574.51,600.9 574.79,600.87 575.06,600.77 575.33,600.56 575.61,600.17 575.88,599.55 576.15,598.65 576.42,597.47 576.69,596 576.97,594.27 577.24,592.29 577.51,590.09 577.78,587.69 578.06,585.11 578.33,582.36 578.6,579.47 578.88,576.44 579.15,573.31 579.42,570.08 579.69,566.81 579.97,563.52 580.24,560.27 580.51,557.1 580.78,554.07 581.05,551.24 581.33,548.66 581.6,546.39 581.87,544.48 582.14,542.97 582.42,541.9 582.69,541.29 582.96,541.17 583.24,541.57 583.51,542.35 583.78,543.46 584.05,544.84 584.33,546.48 584.6,548.32 584.87,550.34 585.14,552.5 585.41,554.78 585.69,557.15 585.96,559.56 586.23,562.01 586.5,564.46 586.78,566.89 587.05,569.28 587.32,571.62 587.6,573.88 587.87,576.06 588.14,578.14 588.41,580.12 588.68,581.99 588.96,583.75 589.23,585.39 589.5,586.91 589.77,588.32 590.05,589.62 590.32,590.8 590.59,591.88 590.87,592.87 591.14,593.75 591.41,594.55 591.68,595.27 591.95,595.91 592.23,596.48 592.5,596.98 592.77,597.43 593.04,597.83 593.32,598.17 593.59,598.48 593.86,598.75 594.13,598.98 594.41,599.18 594.68,599.36 594.95,599.52 595.23,599.65 595.5,599.77 595.77,599.88 596.04,599.97 596.31,600.05 596.59,600.12 596.86,600.18 597.13,600.24 597.4,600.29 597.68,600.33 597.95,600.37 598.22,600.41 598.5,600.44 598.77,600.47 599.04,600.5 599.31,600.52 599.59,600.55 599.86,600.57 600.13,600.59 600.4,600.61 600.67,600.63 600.95,600.65 601.22,600.66 601.49,600.68 601.76,600.69 602.04,600.7 602.31,600.72 602.58,600.73 602.86,600.74 603.13,600.75 603.4,600.76 603.67,600.77 603.94,600.78 604.22,600.79 604.49,600.8 604.76,600.81 605.03,600.82 605.31,600.83 605.58,600.83 605.85,600.84 606.12,600.85 606.4,600.86 606.67,600.86 606.94,600.87 607.22,600.87 607.49,600.88 607.76,600.88 608.03,600.89 608.3,600.89 608.58,600.9 608.85,600.9 609.12,600.91 609.39,600.91 609.67,600.92 609.94,600.92 610.21,600.92 610.49,600.93 610.76,600.93 611.03,600.93 611.3,600.94 611.58,600.94 611.85,600.94 612.12,600.94 612.39,600.95 612.66,600.95 612.94,600.95 613.21,600.95 613.48,600.95 613.75,600.96 614.03,600.96 614.3,600.96 614.57,600.96 614.85,600.96 615.12,600.97 615.39,600.97 615.66,600.97 615.93,600.97 616.21,600.97 616.48,600.97 616.75,600.97 617.02,600.97 617.3,600.98 617.57,600.98 617.84,600.98 618.12,600.98 618.39,600.98 618.66,600.98 618.93,600.98 619.2,600.98 619.48,600.98 619.75,600.98 620.02,600.98 620.29,600.99 620.57,600.99 620.84,600.99 621.11,600.99 621.38,600.99 621.66,600.99 621.93,600.99 622.2,600.99 622.48,600.99 622.75,600.99 623.02,600.99 623.29,600.99 623.57,600.99 623.84,600.99 624.11,600.99 624.38,600.99 624.65,600.99 624.93,600.99 625.2,600.99 625.47,600.99 625.75,600.99 626.02,600.99 626.29,600.99 626.56,600.99 626.84,600.99 627.11,601 627.38,601 627.65,601 627.92,601 628.2,601 628.47,601 628.74,601 629.01,601 629.29,601 629.56,601 629.83,601 630.11,601 630.38,601 630.65,601 630.92,601 631.19,601 631.47,601 631.74,601 632.01,601 632.28,601 632.56,601 632.83,601 633.1,601 633.38,601 633.65,601 633.92,601 634.19,601 634.46,601 634.74,601 635.01,601 635.28,601 635.55,601 635.83,601 636.1,601 636.37,601 636.64,601 636.92,601 637.19,601 637.46,601 637.74,601 638.01,601 638.28,601 638.55,601 638.83,601 639.1,601 639.37,601 639.64,601 639.91,601 640.19,601 640.46,601 640.73,601 641,601 641.28,601 641.55,601 641.82,601 642.1,601 642.37,601 642.64,601 642.91,601 643.18,601 643.46,601 643.73,601 644,601 644.27,601 644.55,601 644.82,601 645.09,601 645.37,601 645.64,601 645.91,601 646.18,601 646.45,601 646.73,601 647,601 647.27,601 647.54,601 647.82,601 648.09,601 648.36,601 648.63,601 648.91,601 649.18,601 649.45,601 649.73,601 650,601 650.27,601 650.54,601 650.82,601 651.09,601 651.36,601 651.63,601 651.9,601 652.18,601 652.45,601 652.72,601 653,601 653.27,601 653.54,601 653.81,601 654.09,601 654.36,601 654.63,601 654.9,601 655.17,601 655.45,601 655.72,601 655.99,601 656.26,601 656.54,601 656.81,601 657.08,601 657.36,601 657.63,601 657.9,601" fill="none" stroke="#111" stroke-width="1"/>
<text transform="translate(489,506.6) scale(1,1.06)" x="0" y="0" font-size="8.87" text-anchor="end" fill="#1a1a1a" stroke="#1a1a1a" stroke-width="0.2">100</text>
<text transform="translate(489,555.4) scale(1,1.06)" x="0" y="0" font-size="8.87" text-anchor="end" fill="#1a1a1a" stroke="#1a1a1a" stroke-width="0.2">%</text>
<text transform="translate(489,604.4) scale(1,1.06)" x="0" y="0" font-size="8.87" text-anchor="end" fill="#1a1a1a" stroke="#1a1a1a" stroke-width="0.2">0</text>
<text transform="translate(545.49,614.59) scale(1,1.06)" x="0" y="0" font-size="8.87" text-anchor="middle" fill="#1a1a1a" stroke="#1a1a1a" stroke-width="0.2">3.250</text>
<text transform="translate(596.59,614.59) scale(1,1.06)" x="0" y="0" font-size="8.87" text-anchor="middle" fill="#1a1a1a" stroke="#1a1a1a" stroke-width="0.2">3.500</text>
<text transform="translate(647.68,614.59) scale(1,1.06)" x="0" y="0" font-size="8.87" text-anchor="middle" fill="#1a1a1a" stroke="#1a1a1a" stroke-width="0.2">3.750</text>
<text transform="translate(662.14,604.25) scale(1,1.06)" x="0" y="0" font-size="9.16" fill="#1a1a1a" stroke="#1a1a1a" stroke-width="0.2">min</text>
<text transform="translate(544.6,501.53) scale(1,1.06)" x="0" y="0" font-size="9.16" text-anchor="middle" fill="#1a1a1a" stroke="#1a1a1a" stroke-width="0.2">3.25</text>
<text transform="translate(582.9,539.3) scale(1,1.06)" x="0" y="0" font-size="9.16" text-anchor="middle" fill="#1a1a1a" stroke="#1a1a1a" stroke-width="0.2">3.43</text>
<text x="24.86" y="640.94" font-size="10.64" font-weight="bold" fill="#000" stroke="#000" stroke-width="0.25">FB2</text>
<text transform="translate(25.56,653.15) scale(1,1.06)" x="0" y="0" font-size="9.16" fill="#1a1a1a" stroke="#1a1a1a" stroke-width="0.2">SPIKE-4</text>
<text transform="translate(231.71,653.35) scale(1,1.06)" x="0" y="0" font-size="9.16" text-anchor="end" fill="#1a1a1a" stroke="#1a1a1a" stroke-width="0.2">F3:MRM of 3 channels,ES+</text>
<text transform="translate(231.71,663.4) scale(1,1.06)" x="0" y="0" font-size="9.16" text-anchor="end" fill="#1a1a1a" stroke="#1a1a1a" stroke-width="0.2">706.479 &gt; 354.437</text>
<text transform="translate(231.71,673.94) scale(1,1.06)" x="0" y="0" font-size="9.16" text-anchor="end" fill="#1a1a1a" stroke="#1a1a1a" stroke-width="0.2">3.333e+005</text>
<polygon points="126.58,774.3 126.59,774.19 126.86,774.19 127.13,774.2 127.4,774.2 127.68,774.19 127.95,774.16 128.22,774.08 128.49,773.89 128.76,773.56 129.03,773.04 129.31,772.3 129.58,771.34 129.85,770.14 130.12,768.74 130.39,767.15 130.67,765.39 130.94,763.47 131.21,761.42 131.48,759.23 131.75,756.93 132.02,754.52 132.3,752.03 132.57,749.48 132.84,746.89 133.11,744.29 133.38,741.73 133.66,739.24 133.93,736.86 134.2,734.65 134.47,732.65 134.74,730.89 135.01,729.43 135.29,728.28 135.56,727.49 135.83,727.06 136.1,727.03 136.37,727.39 136.65,728.05 136.92,728.96 137.19,730.09 137.46,731.41 137.73,732.88 138,734.5 138.28,736.23 138.55,738.04 138.82,739.91 139.09,741.83 139.36,743.76 139.64,745.7 139.91,747.62 140.18,749.5 140.45,751.34 140.72,753.12 141,754.83 141.27,756.46 141.54,758.02 141.81,759.48 142.08,760.86 142.35,762.14 142.63,763.33 142.9,764.43 143.17,765.44 143.44,766.37 143.71,767.21 143.99,767.98 144.26,768.67 144.53,769.29 144.8,769.85 145.07,770.34 145.34,770.79 145.62,771.18 145.89,771.53 146.16,771.83 146.43,772.1 146.7,772.34 146.98,772.55 147.25,772.73 147.52,772.89 147.79,773.02 148.06,773.14 148.33,773.25 148.61,773.34 148.88,773.42 149.15,773.49 149.42,773.56 149.69,773.61 149.97,773.66 150.24,773.7 150.51,773.74 150.78,773.78 151.05,773.81 151.32,773.84 151.6,773.86 151.87,773.88 152.14,773.91 152.41,773.93 152.68,773.94 152.96,773.96 153.23,773.98 153.5,773.99 153.77,774.01 154.04,774.02 154.31,774.03 154.59,774.05 154.86,774.06 155.13,774.07 155.4,774.08 155.67,774.09 155.95,774.1 156.22,774.11 156.49,774.11 156.76,774.12 157.03,774.13 157.31,774.14 157.58,774.14 157.85,774.15 158.02,774.3" fill="#c2c2c2" stroke="none"/>
<path d="M43.1,774.3H48.3M45.9,764.51H48.3M45.9,754.72H48.3M45.9,744.93H48.3M45.9,735.14H48.3M43.1,725.35H48.3M45.9,715.56H48.3M45.9,705.77H48.3M45.9,695.98H48.3M45.9,686.19H48.3M43.1,676.4H48.3M48.3,676.4V774.3" stroke="#222" stroke-width="1" fill="none"/>
<path d="M53.4,774.3V777.1M58.49,774.3V777.1M63.59,774.3V777.1M68.69,774.3V777.1M73.78,774.3V779.3M78.88,774.3V777.1M83.98,774.3V777.1M89.08,774.3V777.1M94.17,774.3V777.1M99.27,774.3V779.3M104.37,774.3V777.1M109.46,774.3V777.1M114.56,774.3V777.1M119.66,774.3V777.1M124.75,774.3V779.3M129.85,774.3V777.1M134.95,774.3V777.1M140.04,774.3V777.1M145.14,774.3V777.1M150.24,774.3V779.3M155.33,774.3V777.1M160.43,774.3V777.1M165.53,774.3V777.1M170.63,774.3V777.1M175.72,774.3V779.3M180.82,774.3V777.1M185.92,774.3V777.1M191.01,774.3V777.1M196.11,774.3V777.1M201.21,774.3V779.3M206.3,774.3V777.1" stroke="#222" stroke-width="1" fill="none"/>
<path d="M43.3,774.3H211.4" stroke="#1a1a1a" stroke-width="1.8" fill="none"/>
<polyline points="48.3,774.3 48.57,774.3 48.84,774.3 49.12,774.3 49.39,774.3 49.66,774.3 49.93,774.3 50.2,774.3 50.47,774.3 50.75,774.3 51.02,774.3 51.29,774.3 51.56,774.3 51.83,774.3 52.11,774.3 52.38,774.3 52.65,774.3 52.92,774.3 53.19,774.3 53.46,774.3 53.74,774.3 54.01,774.3 54.28,774.3 54.55,774.3 54.82,774.3 55.1,774.3 55.37,774.3 55.64,774.3 55.91,774.3 56.18,774.3 56.45,774.3 56.73,774.3 57,774.3 57.27,774.3 57.54,774.3 57.81,774.3 58.09,774.3 58.36,774.3 58.63,774.3 58.9,774.3 59.17,774.3 59.45,774.3 59.72,774.3 59.99,774.3 60.26,774.3 60.53,774.3 60.8,774.3 61.08,774.3 61.35,774.3 61.62,774.3 61.89,774.3 62.16,774.3 62.44,774.3 62.71,774.3 62.98,774.3 63.25,774.3 63.52,774.3 63.79,774.3 64.07,774.3 64.34,774.3 64.61,774.3 64.88,774.3 65.15,774.3 65.43,774.3 65.7,774.3 65.97,774.3 66.24,774.3 66.51,774.3 66.78,774.3 67.06,774.3 67.33,774.3 67.6,774.3 67.87,774.3 68.14,774.3 68.42,774.3 68.69,774.3 68.96,774.3 69.23,774.3 69.5,774.3 69.77,774.3 70.05,774.3 70.32,774.3 70.59,774.3 70.86,774.3 71.13,774.3 71.41,774.3 71.68,774.3 71.95,774.3 72.22,774.3 72.49,774.3 72.77,774.3 73.04,774.3 73.31,774.3 73.58,774.3 73.85,774.3 74.12,774.3 74.4,774.3 74.67,774.3 74.94,774.3 75.21,774.3 75.48,774.3 75.76,774.3 76.03,774.3 76.3,774.3 76.57,774.3 76.84,774.3 77.11,774.3 77.39,774.3 77.66,774.3 77.93,774.3 78.2,774.3 78.47,774.3 78.75,774.3 79.02,774.3 79.29,774.3 79.56,774.3 79.83,774.3 80.1,774.3 80.38,774.3 80.65,774.3 80.92,774.3 81.19,774.3 81.46,774.3 81.74,774.3 82.01,774.3 82.28,774.3 82.55,774.3 82.82,774.3 83.09,774.3 83.37,774.3 83.64,774.3 83.91,774.3 84.18,774.3 84.45,774.3 84.73,774.3 85,774.3 85.27,774.3 85.54,774.3 85.81,774.3 86.08,774.3 86.36,774.3 86.63,774.3 86.9,774.3 87.17,774.3 87.44,774.3 87.72,774.3 87.99,774.3 88.26,774.3 88.53,774.3 88.8,774.3 89.08,774.3 89.35,774.3 89.62,774.3 89.89,774.29 90.16,774.27 90.43,774.2 90.71,774.02 90.98,773.65 91.25,772.97 91.52,771.91 91.79,770.4 92.07,768.41 92.34,765.96 92.61,763.07 92.88,759.79 93.15,756.15 93.42,752.19 93.7,747.94 93.97,743.42 94.24,738.66 94.51,733.68 94.78,728.53 95.06,723.25 95.33,717.88 95.6,712.5 95.87,707.19 96.14,702.02 96.41,697.08 96.69,692.48 96.96,688.31 97.23,684.65 97.5,681.58 97.77,679.18 98.05,677.5 98.32,676.58 98.59,676.46 98.86,677.18 99.13,678.51 99.4,680.37 99.68,682.68 99.95,685.39 100.22,688.44 100.49,691.77 100.76,695.33 101.04,699.07 101.31,702.95 101.58,706.91 101.85,710.91 102.12,714.92 102.39,718.89 102.67,722.8 102.94,726.61 103.21,730.3 103.48,733.85 103.75,737.24 104.03,740.46 104.3,743.5 104.57,746.35 104.84,749.02 105.11,751.49 105.39,753.78 105.66,755.88 105.93,757.81 106.2,759.56 106.47,761.15 106.74,762.59 107.02,763.88 107.29,765.04 107.56,766.07 107.83,766.99 108.1,767.81 108.38,768.53 108.65,769.17 108.92,769.73 109.19,770.23 109.46,770.66 109.73,771.03 110.01,771.36 110.28,771.65 110.55,771.9 110.82,772.12 111.09,772.32 111.37,772.48 111.64,772.63 111.91,772.76 112.18,772.87 112.45,772.98 112.72,773.07 113,773.15 113.27,773.22 113.54,773.28 113.81,773.34 114.08,773.39 114.36,773.44 114.63,773.49 114.9,773.53 115.17,773.57 115.44,773.6 115.71,773.64 115.99,773.67 116.26,773.7 116.53,773.72 116.8,773.75 117.07,773.77 117.35,773.8 117.62,773.82 117.89,773.84 118.16,773.86 118.43,773.88 118.7,773.9 118.98,773.92 119.25,773.93 119.52,773.95 119.79,773.97 120.06,773.98 120.34,773.99 120.61,774.01 120.88,774.02 121.15,774.03 121.42,774.04 121.7,774.05 121.97,774.07 122.24,774.08 122.51,774.09 122.78,774.09 123.05,774.1 123.33,774.11 123.6,774.12 123.87,774.13 124.14,774.14 124.41,774.14 124.69,774.15 124.96,774.16 125.23,774.16 125.5,774.17 125.77,774.17 126.04,774.18 126.32,774.18 126.59,774.19 126.86,774.19 127.13,774.2 127.4,774.2 127.68,774.19 127.95,774.16 128.22,774.08 128.49,773.89 128.76,773.56 129.03,773.04 129.31,772.3 129.58,771.34 129.85,770.14 130.12,768.74 130.39,767.15 130.67,765.39 130.94,763.47 131.21,761.42 131.48,759.23 131.75,756.93 132.02,754.52 132.3,752.03 132.57,749.48 132.84,746.89 133.11,744.29 133.38,741.73 133.66,739.24 133.93,736.86 134.2,734.65 134.47,732.65 134.74,730.89 135.01,729.43 135.29,728.28 135.56,727.49 135.83,727.06 136.1,727.03 136.37,727.39 136.65,728.05 136.92,728.96 137.19,730.09 137.46,731.41 137.73,732.88 138,734.5 138.28,736.23 138.55,738.04 138.82,739.91 139.09,741.83 139.36,743.76 139.64,745.7 139.91,747.62 140.18,749.5 140.45,751.34 140.72,753.12 141,754.83 141.27,756.46 141.54,758.02 141.81,759.48 142.08,760.86 142.35,762.14 142.63,763.33 142.9,764.43 143.17,765.44 143.44,766.37 143.71,767.21 143.99,767.98 144.26,768.67 144.53,769.29 144.8,769.85 145.07,770.34 145.34,770.79 145.62,771.18 145.89,771.53 146.16,771.83 146.43,772.1 146.7,772.34 146.98,772.55 147.25,772.73 147.52,772.89 147.79,773.02 148.06,773.14 148.33,773.25 148.61,773.34 148.88,773.42 149.15,773.49 149.42,773.56 149.69,773.61 149.97,773.66 150.24,773.7 150.51,773.74 150.78,773.78 151.05,773.81 151.32,773.84 151.6,773.86 151.87,773.88 152.14,773.91 152.41,773.93 152.68,773.94 152.96,773.96 153.23,773.98 153.5,773.99 153.77,774.01 154.04,774.02 154.31,774.03 154.59,774.05 154.86,774.06 155.13,774.07 155.4,774.08 155.67,774.09 155.95,774.1 156.22,774.11 156.49,774.11 156.76,774.12 157.03,774.13 157.31,774.14 157.58,774.14 157.85,774.15 158.12,774.16 158.39,774.16 158.66,774.17 158.94,774.18 159.21,774.18 159.48,774.19 159.75,774.19 160.02,774.2 160.3,774.2 160.57,774.2 160.84,774.21 161.11,774.21 161.38,774.22 161.65,774.22 161.93,774.22 162.2,774.23 162.47,774.23 162.74,774.23 163.01,774.24 163.29,774.24 163.56,774.24 163.83,774.24 164.1,774.25 164.37,774.25 164.64,774.25 164.92,774.25 165.19,774.26 165.46,774.26 165.73,774.26 166,774.26 166.28,774.26 166.55,774.26 166.82,774.27 167.09,774.27 167.36,774.27 167.63,774.27 167.91,774.27 168.18,774.27 168.45,774.27 168.72,774.27 168.99,774.28 169.27,774.28 169.54,774.28 169.81,774.28 170.08,774.28 170.35,774.28 170.62,774.28 170.9,774.28 171.17,774.28 171.44,774.28 171.71,774.28 171.98,774.29 172.26,774.29 172.53,774.29 172.8,774.29 173.07,774.29 173.34,774.29 173.62,774.29 173.89,774.29 174.16,774.29 174.43,774.29 174.7,774.29 174.97,774.29 175.25,774.29 175.52,774.29 175.79,774.29 176.06,774.29 176.33,774.29 176.61,774.29 176.88,774.29 177.15,774.29 177.42,774.29 177.69,774.29 177.96,774.29 178.24,774.29 178.51,774.29 178.78,774.3 179.05,774.3 179.32,774.3 179.6,774.3 179.87,774.3 180.14,774.3 180.41,774.3 180.68,774.3 180.95,774.3 181.23,774.3 181.5,774.3 181.77,774.3 182.04,774.3 182.31,774.3 182.59,774.3 182.86,774.3 183.13,774.3 183.4,774.3 183.67,774.3 183.94,774.3 184.22,774.3 184.49,774.3 184.76,774.3 185.03,774.3 185.3,774.3 185.58,774.3 185.85,774.3 186.12,774.3 186.39,774.3 186.66,774.3 186.94,774.3 187.21,774.3 187.48,774.3 187.75,774.3 188.02,774.3 188.29,774.3 188.57,774.3 188.84,774.3 189.11,774.3 189.38,774.3 189.65,774.3 189.93,774.3 190.2,774.3 190.47,774.3 190.74,774.3 191.01,774.3 191.28,774.3 191.56,774.3 191.83,774.3 192.1,774.3 192.37,774.3 192.64,774.3 192.92,774.3 193.19,774.3 193.46,774.3 193.73,774.3 194,774.3 194.27,774.3 194.55,774.3 194.82,774.3 195.09,774.3 195.36,774.3 195.63,774.3 195.91,774.3 196.18,774.3 196.45,774.3 196.72,774.3 196.99,774.3 197.26,774.3 197.54,774.3 197.81,774.3 198.08,774.3 198.35,774.3 198.62,774.3 198.9,774.3 199.17,774.3 199.44,774.3 199.71,774.3 199.98,774.3 200.25,774.3 200.53,774.3 200.8,774.3 201.07,774.3 201.34,774.3 201.61,774.3 201.89,774.3 202.16,774.3 202.43,774.3 202.7,774.3 202.97,774.3 203.25,774.3 203.52,774.3 203.79,774.3 204.06,774.3 204.33,774.3 204.6,774.3 204.88,774.3 205.15,774.3 205.42,774.3 205.69,774.3 205.96,774.3 206.24,774.3 206.51,774.3 206.78,774.3 207.05,774.3 207.32,774.3 207.59,774.3 207.87,774.3 208.14,774.3 208.41,774.3 208.68,774.3 208.95,774.3 209.23,774.3 209.5,774.3 209.77,774.3 210.04,774.3 210.31,774.3 210.58,774.3 210.86,774.3 211.13,774.3 211.4,774.3" fill="none" stroke="#111" stroke-width="1"/>
<text transform="translate(42.9,679.6) scale(1,1.06)" x="0" y="0" font-size="8.87" text-anchor="end" fill="#1a1a1a" stroke="#1a1a1a" stroke-width="0.2">100</text>
<text transform="translate(42.9,728.55) scale(1,1.06)" x="0" y="0" font-size="8.87" text-anchor="end" fill="#1a1a1a" stroke="#1a1a1a" stroke-width="0.2">%</text>
<text transform="translate(42.9,777.7) scale(1,1.06)" x="0" y="0" font-size="8.87" text-anchor="end" fill="#1a1a1a" stroke="#1a1a1a" stroke-width="0.2">0</text>
<text transform="translate(99.27,787.89) scale(1,1.06)" x="0" y="0" font-size="8.87" text-anchor="middle" fill="#1a1a1a" stroke="#1a1a1a" stroke-width="0.2">3.250</text>
<text transform="translate(150.24,787.89) scale(1,1.06)" x="0" y="0" font-size="8.87" text-anchor="middle" fill="#1a1a1a" stroke="#1a1a1a" stroke-width="0.2">3.500</text>
<text transform="translate(201.21,787.89) scale(1,1.06)" x="0" y="0" font-size="8.87" text-anchor="middle" fill="#1a1a1a" stroke="#1a1a1a" stroke-width="0.2">3.750</text>
<text transform="translate(215.64,777.55) scale(1,1.06)" x="0" y="0" font-size="9.16" fill="#1a1a1a" stroke="#1a1a1a" stroke-width="0.2">min</text>
<text transform="translate(98.5,674.53) scale(1,1.06)" x="0" y="0" font-size="9.16" text-anchor="middle" fill="#1a1a1a" stroke="#1a1a1a" stroke-width="0.2">3.25</text>
<text transform="translate(136,725.14) scale(1,1.06)" x="0" y="0" font-size="9.16" text-anchor="middle" fill="#1a1a1a" stroke="#1a1a1a" stroke-width="0.2">3.43</text>
<text x="247.86" y="640.94" font-size="10.64" font-weight="bold" fill="#000" stroke="#000" stroke-width="0.25">FB3</text>
<text transform="translate(248.56,653.15) scale(1,1.06)" x="0" y="0" font-size="9.16" fill="#1a1a1a" stroke="#1a1a1a" stroke-width="0.2">SPIKE-4</text>
<text transform="translate(454.71,653.35) scale(1,1.06)" x="0" y="0" font-size="9.16" text-anchor="end" fill="#1a1a1a" stroke="#1a1a1a" stroke-width="0.2">F2:MRM of 3 channels,ES+</text>
<text transform="translate(454.71,663.4) scale(1,1.06)" x="0" y="0" font-size="9.16" text-anchor="end" fill="#1a1a1a" stroke="#1a1a1a" stroke-width="0.2">706.479 &gt; 336.429</text>
<text transform="translate(454.71,673.94) scale(1,1.06)" x="0" y="0" font-size="9.16" text-anchor="end" fill="#1a1a1a" stroke="#1a1a1a" stroke-width="0.2">4.253e+005</text>
<polygon points="312.27,774.3 312.4,774.3 312.67,774.3 312.94,774.3 313.21,774.29 313.49,774.25 313.76,774.13 314.03,773.87 314.3,773.36 314.57,772.5 314.85,771.22 315.12,769.48 315.39,767.26 315.66,764.59 315.94,761.51 316.21,758.05 316.48,754.25 316.75,750.14 317.02,745.75 317.3,741.11 317.57,736.24 317.84,731.17 318.11,725.95 318.38,720.62 318.66,715.23 318.93,709.88 319.2,704.62 319.47,699.56 319.75,694.78 320.02,690.37 320.29,686.44 320.56,683.06 320.83,680.31 321.11,678.26 321.38,676.95 321.65,676.41 321.92,676.73 322.2,677.76 322.47,679.37 322.74,681.45 323.01,683.97 323.28,686.85 323.56,690.04 323.83,693.49 324.1,697.15 324.37,700.96 324.64,704.89 324.92,708.87 325.19,712.88 325.46,716.88 325.73,720.82 326.01,724.68 326.28,728.44 326.55,732.06 326.82,735.53 327.09,738.84 327.37,741.97 327.64,744.92 327.91,747.69 328.18,750.26 328.46,752.64 328.73,754.83 329,756.85 329.27,758.69 329.54,760.36 329.82,761.87 330.09,763.24 330.36,764.47 330.63,765.56 330.9,766.54 331.18,767.41 331.45,768.18 331.72,768.86 331.99,769.46 332.27,769.98 332.54,770.44 332.81,770.85 333.08,771.2 333.35,771.51 333.63,771.78 333.9,772.02 334.17,772.22 334.44,772.4 334.71,772.56 334.99,772.7 335.26,772.82 335.53,772.93 335.8,773.02 336.08,773.11 336.35,773.18 336.62,773.25 336.89,773.31 337.16,773.37 337.44,773.42 337.71,773.46 337.98,773.51 338.25,773.55 338.53,773.58 338.8,773.62 339.07,773.65 339.34,773.68 339.61,773.71 339.89,773.74 340.16,773.76 340.43,773.79 340.7,773.81 340.97,773.83 341.25,773.85 341.52,773.87 341.79,773.89 342.06,773.91 342.34,773.93 342.61,773.94 342.88,773.96 343.15,773.97 343.42,773.99 343.7,774 343.75,774.3" fill="#c2c2c2" stroke="none"/>
<path d="M266.1,774.3H271.3M268.9,764.51H271.3M268.9,754.72H271.3M268.9,744.93H271.3M268.9,735.14H271.3M266.1,725.35H271.3M268.9,715.56H271.3M268.9,705.77H271.3M268.9,695.98H271.3M268.9,686.19H271.3M266.1,676.4H271.3M271.3,676.4V774.3" stroke="#222" stroke-width="1" fill="none"/>
<path d="M276.4,774.3V777.1M281.51,774.3V777.1M286.61,774.3V777.1M291.71,774.3V777.1M296.82,774.3V779.3M301.92,774.3V777.1M307.02,774.3V777.1M312.13,774.3V777.1M317.23,774.3V777.1M322.33,774.3V779.3M327.43,774.3V777.1M332.54,774.3V777.1M337.64,774.3V777.1M342.74,774.3V777.1M347.85,774.3V779.3M352.95,774.3V777.1M358.05,774.3V777.1M363.16,774.3V777.1M368.26,774.3V777.1M373.36,774.3V779.3M378.47,774.3V777.1M383.57,774.3V777.1M388.67,774.3V777.1M393.78,774.3V777.1M398.88,774.3V779.3M403.98,774.3V777.1M409.08,774.3V777.1M414.19,774.3V777.1M419.29,774.3V777.1M424.39,774.3V779.3M429.5,774.3V777.1" stroke="#222" stroke-width="1" fill="none"/>
<path d="M266.3,774.3H434.6" stroke="#1a1a1a" stroke-width="1.8" fill="none"/>
<polyline points="271.3,774.3 271.57,774.3 271.84,774.3 272.12,774.3 272.39,774.3 272.66,774.3 272.93,774.3 273.21,774.3 273.48,774.3 273.75,774.3 274.02,774.3 274.29,774.3 274.57,774.3 274.84,774.3 275.11,774.3 275.38,774.3 275.65,774.3 275.93,774.3 276.2,774.3 276.47,774.3 276.74,774.3 277.02,774.3 277.29,774.3 277.56,774.3 277.83,774.3 278.1,774.3 278.38,774.3 278.65,774.3 278.92,774.3 279.19,774.3 279.47,774.3 279.74,774.3 280.01,774.3 280.28,774.3 280.55,774.3 280.83,774.3 281.1,774.3 281.37,774.3 281.64,774.3 281.91,774.3 282.19,774.3 282.46,774.3 282.73,774.3 283,774.3 283.28,774.3 283.55,774.3 283.82,774.3 284.09,774.3 284.36,774.3 284.64,774.3 284.91,774.3 285.18,774.3 285.45,774.3 285.72,774.3 286,774.3 286.27,774.3 286.54,774.3 286.81,774.3 287.09,774.3 287.36,774.3 287.63,774.3 287.9,774.3 288.17,774.3 288.45,774.3 288.72,774.3 288.99,774.3 289.26,774.3 289.54,774.3 289.81,774.3 290.08,774.3 290.35,774.3 290.62,774.3 290.9,774.3 291.17,774.3 291.44,774.3 291.71,774.3 291.98,774.3 292.26,774.3 292.53,774.3 292.8,774.3 293.07,774.3 293.35,774.3 293.62,774.3 293.89,774.3 294.16,774.3 294.43,774.3 294.71,774.3 294.98,774.3 295.25,774.3 295.52,774.3 295.8,774.3 296.07,774.3 296.34,774.3 296.61,774.3 296.88,774.3 297.16,774.3 297.43,774.3 297.7,774.3 297.97,774.3 298.24,774.3 298.52,774.3 298.79,774.3 299.06,774.3 299.33,774.3 299.61,774.3 299.88,774.3 300.15,774.3 300.42,774.3 300.69,774.3 300.97,774.3 301.24,774.3 301.51,774.3 301.78,774.3 302.05,774.3 302.33,774.3 302.6,774.3 302.87,774.3 303.14,774.3 303.42,774.3 303.69,774.3 303.96,774.3 304.23,774.3 304.5,774.3 304.78,774.3 305.05,774.3 305.32,774.3 305.59,774.3 305.87,774.3 306.14,774.3 306.41,774.3 306.68,774.3 306.95,774.3 307.23,774.3 307.5,774.3 307.77,774.3 308.04,774.3 308.31,774.3 308.59,774.3 308.86,774.3 309.13,774.3 309.4,774.3 309.68,774.3 309.95,774.3 310.22,774.3 310.49,774.3 310.76,774.3 311.04,774.3 311.31,774.3 311.58,774.3 311.85,774.3 312.12,774.3 312.4,774.3 312.67,774.3 312.94,774.3 313.21,774.29 313.49,774.25 313.76,774.13 314.03,773.87 314.3,773.36 314.57,772.5 314.85,771.22 315.12,769.48 315.39,767.26 315.66,764.59 315.94,761.51 316.21,758.05 316.48,754.25 316.75,750.14 317.02,745.75 317.3,741.11 317.57,736.24 317.84,731.17 318.11,725.95 318.38,720.62 318.66,715.23 318.93,709.88 319.2,704.62 319.47,699.56 319.75,694.78 320.02,690.37 320.29,686.44 320.56,683.06 320.83,680.31 321.11,678.26 321.38,676.95 321.65,676.41 321.92,676.73 322.2,677.76 322.47,679.37 322.74,681.45 323.01,683.97 323.28,686.85 323.56,690.04 323.83,693.49 324.1,697.15 324.37,700.96 324.64,704.89 324.92,708.87 325.19,712.88 325.46,716.88 325.73,720.82 326.01,724.68 326.28,728.44 326.55,732.06 326.82,735.53 327.09,738.84 327.37,741.97 327.64,744.92 327.91,747.69 328.18,750.26 328.46,752.64 328.73,754.83 329,756.85 329.27,758.69 329.54,760.36 329.82,761.87 330.09,763.24 330.36,764.47 330.63,765.56 330.9,766.54 331.18,767.41 331.45,768.18 331.72,768.86 331.99,769.46 332.27,769.98 332.54,770.44 332.81,770.85 333.08,771.2 333.35,771.51 333.63,771.78 333.9,772.02 334.17,772.22 334.44,772.4 334.71,772.56 334.99,772.7 335.26,772.82 335.53,772.93 335.8,773.02 336.08,773.11 336.35,773.18 336.62,773.25 336.89,773.31 337.16,773.37 337.44,773.42 337.71,773.46 337.98,773.51 338.25,773.55 338.53,773.58 338.8,773.62 339.07,773.65 339.34,773.68 339.61,773.71 339.89,773.74 340.16,773.76 340.43,773.79 340.7,773.81 340.97,773.83 341.25,773.85 341.52,773.87 341.79,773.89 342.06,773.91 342.34,773.93 342.61,773.94 342.88,773.96 343.15,773.97 343.42,773.99 343.7,774 343.97,774.01 344.24,774.03 344.51,774.04 344.79,774.05 345.06,774.06 345.33,774.07 345.6,774.08 345.87,774.09 346.15,774.1 346.42,774.11 346.69,774.12 346.96,774.12 347.23,774.13 347.51,774.14 347.78,774.15 348.05,774.15 348.32,774.16 348.6,774.17 348.87,774.17 349.14,774.18 349.41,774.18 349.68,774.19 349.96,774.19 350.23,774.2 350.5,774.2 350.77,774.2 351.04,774.2 351.32,774.17 351.59,774.1 351.86,773.92 352.13,773.57 352.41,772.99 352.68,772.14 352.95,770.99 353.22,769.53 353.49,767.78 353.77,765.77 354.04,763.52 354.31,761.06 354.58,758.4 354.86,755.56 355.13,752.56 355.4,749.42 355.67,746.15 355.94,742.78 356.22,739.35 356.49,735.89 356.76,732.45 357.03,729.08 357.3,725.85 357.58,722.8 357.85,720 358.12,717.51 358.39,715.38 358.67,713.67 358.94,712.4 359.21,711.61 359.48,711.33 359.75,711.6 360.03,712.31 360.3,713.38 360.57,714.75 360.84,716.4 361.12,718.28 361.39,720.35 361.66,722.59 361.93,724.95 362.2,727.42 362.48,729.94 362.75,732.51 363.02,735.09 363.29,737.66 363.56,740.19 363.84,742.66 364.11,745.07 364.38,747.39 364.65,749.61 364.93,751.73 365.2,753.73 365.47,755.61 365.74,757.37 366.01,759.01 366.29,760.53 366.56,761.93 366.83,763.21 367.1,764.38 367.37,765.45 367.65,766.41 367.92,767.28 368.19,768.06 368.46,768.75 368.74,769.37 369.01,769.92 369.28,770.41 369.55,770.84 369.82,771.22 370.1,771.56 370.37,771.85 370.64,772.1 370.91,772.33 371.19,772.52 371.46,772.69 371.73,772.84 372,772.97 372.27,773.09 372.55,773.19 372.82,773.28 373.09,773.35 373.36,773.42 373.63,773.48 373.91,773.54 374.18,773.58 374.45,773.63 374.72,773.67 375,773.7 375.27,773.73 375.54,773.76 375.81,773.79 376.08,773.82 376.36,773.84 376.63,773.86 376.9,773.88 377.17,773.9 377.44,773.92 377.72,773.94 377.99,773.95 378.26,773.97 378.53,773.99 378.81,774 379.08,774.01 379.35,774.02 379.62,774.04 379.89,774.05 380.17,774.06 380.44,774.07 380.71,774.08 380.98,774.09 381.26,774.1 381.53,774.11 381.8,774.12 382.07,774.12 382.34,774.13 382.62,774.14 382.89,774.15 383.16,774.15 383.43,774.16 383.7,774.17 383.98,774.17 384.25,774.18 384.52,774.18 384.79,774.19 385.07,774.19 385.34,774.2 385.61,774.2 385.88,774.21 386.15,774.21 386.43,774.21 386.7,774.22 386.97,774.22 387.24,774.22 387.52,774.23 387.79,774.23 388.06,774.23 388.33,774.24 388.6,774.24 388.88,774.24 389.15,774.24 389.42,774.25 389.69,774.25 389.96,774.25 390.24,774.25 390.51,774.26 390.78,774.26 391.05,774.26 391.33,774.26 391.6,774.26 391.87,774.26 392.14,774.27 392.41,774.27 392.69,774.27 392.96,774.27 393.23,774.27 393.5,774.27 393.77,774.27 394.05,774.28 394.32,774.28 394.59,774.28 394.86,774.28 395.14,774.28 395.41,774.28 395.68,774.28 395.95,774.28 396.22,774.28 396.5,774.28 396.77,774.28 397.04,774.28 397.31,774.29 397.59,774.29 397.86,774.29 398.13,774.29 398.4,774.29 398.67,774.29 398.95,774.29 399.22,774.29 399.49,774.29 399.76,774.29 400.03,774.29 400.31,774.29 400.58,774.29 400.85,774.29 401.12,774.29 401.4,774.29 401.67,774.29 401.94,774.29 402.21,774.29 402.48,774.29 402.76,774.29 403.03,774.29 403.3,774.29 403.57,774.29 403.85,774.29 404.12,774.3 404.39,774.3 404.66,774.3 404.93,774.3 405.21,774.3 405.48,774.3 405.75,774.3 406.02,774.3 406.29,774.3 406.57,774.3 406.84,774.3 407.11,774.3 407.38,774.3 407.66,774.3 407.93,774.3 408.2,774.3 408.47,774.3 408.74,774.3 409.02,774.3 409.29,774.3 409.56,774.3 409.83,774.3 410.11,774.3 410.38,774.3 410.65,774.3 410.92,774.3 411.19,774.3 411.47,774.3 411.74,774.3 412.01,774.3 412.28,774.3 412.55,774.3 412.83,774.3 413.1,774.3 413.37,774.3 413.64,774.3 413.92,774.3 414.19,774.3 414.46,774.3 414.73,774.3 415,774.3 415.28,774.3 415.55,774.3 415.82,774.3 416.09,774.3 416.36,774.3 416.64,774.3 416.91,774.3 417.18,774.3 417.45,774.3 417.73,774.3 418,774.3 418.27,774.3 418.54,774.3 418.81,774.3 419.09,774.3 419.36,774.3 419.63,774.3 419.9,774.3 420.18,774.3 420.45,774.3 420.72,774.3 420.99,774.3 421.26,774.3 421.54,774.3 421.81,774.3 422.08,774.3 422.35,774.3 422.62,774.3 422.9,774.3 423.17,774.3 423.44,774.3 423.71,774.3 423.99,774.3 424.26,774.3 424.53,774.3 424.8,774.3 425.07,774.3 425.35,774.3 425.62,774.3 425.89,774.3 426.16,774.3 426.44,774.3 426.71,774.3 426.98,774.3 427.25,774.3 427.52,774.3 427.8,774.3 428.07,774.3 428.34,774.3 428.61,774.3 428.88,774.3 429.16,774.3 429.43,774.3 429.7,774.3 429.97,774.3 430.25,774.3 430.52,774.3 430.79,774.3 431.06,774.3 431.33,774.3 431.61,774.3 431.88,774.3 432.15,774.3 432.42,774.3 432.69,774.3 432.97,774.3 433.24,774.3 433.51,774.3 433.78,774.3 434.06,774.3 434.33,774.3 434.6,774.3" fill="none" stroke="#111" stroke-width="1"/>
<text transform="translate(265.9,679.6) scale(1,1.06)" x="0" y="0" font-size="8.87" text-anchor="end" fill="#1a1a1a" stroke="#1a1a1a" stroke-width="0.2">100</text>
<text transform="translate(265.9,728.55) scale(1,1.06)" x="0" y="0" font-size="8.87" text-anchor="end" fill="#1a1a1a" stroke="#1a1a1a" stroke-width="0.2">%</text>
<text transform="translate(265.9,777.7) scale(1,1.06)" x="0" y="0" font-size="8.87" text-anchor="end" fill="#1a1a1a" stroke="#1a1a1a" stroke-width="0.2">0</text>
<text transform="translate(322.33,787.89) scale(1,1.06)" x="0" y="0" font-size="8.87" text-anchor="middle" fill="#1a1a1a" stroke="#1a1a1a" stroke-width="0.2">3.250</text>
<text transform="translate(373.36,787.89) scale(1,1.06)" x="0" y="0" font-size="8.87" text-anchor="middle" fill="#1a1a1a" stroke="#1a1a1a" stroke-width="0.2">3.500</text>
<text transform="translate(424.39,787.89) scale(1,1.06)" x="0" y="0" font-size="8.87" text-anchor="middle" fill="#1a1a1a" stroke="#1a1a1a" stroke-width="0.2">3.750</text>
<text transform="translate(438.84,777.55) scale(1,1.06)" x="0" y="0" font-size="9.16" fill="#1a1a1a" stroke="#1a1a1a" stroke-width="0.2">min</text>
<text transform="translate(321.7,674.53) scale(1,1.06)" x="0" y="0" font-size="9.16" text-anchor="middle" fill="#1a1a1a" stroke="#1a1a1a" stroke-width="0.2">3.25</text>
<text transform="translate(359.5,709.48) scale(1,1.06)" x="0" y="0" font-size="9.16" text-anchor="middle" fill="#1a1a1a" stroke="#1a1a1a" stroke-width="0.2">3.43</text>
<text x="470.96" y="640.94" font-size="10.64" font-weight="bold" fill="#000" stroke="#000" stroke-width="0.25">FB3</text>
<text transform="translate(471.66,653.15) scale(1,1.06)" x="0" y="0" font-size="9.16" fill="#1a1a1a" stroke="#1a1a1a" stroke-width="0.2">SPIKE-4</text>
<text transform="translate(677.81,653.35) scale(1,1.06)" x="0" y="0" font-size="9.16" text-anchor="end" fill="#1a1a1a" stroke="#1a1a1a" stroke-width="0.2">F2:MRM of 3 channels,ES+</text>
<text transform="translate(677.81,663.4) scale(1,1.06)" x="0" y="0" font-size="9.16" text-anchor="end" fill="#1a1a1a" stroke="#1a1a1a" stroke-width="0.2">706.479 &gt; 354.442</text>
<text transform="translate(677.81,673.94) scale(1,1.06)" x="0" y="0" font-size="9.16" text-anchor="end" fill="#1a1a1a" stroke="#1a1a1a" stroke-width="0.2">3.410e+005</text>
<polygon points="535.46,774.3 535.55,774.3 535.82,774.3 536.09,774.3 536.37,774.29 536.64,774.26 536.91,774.16 537.18,773.92 537.45,773.45 537.73,772.65 538,771.43 538.27,769.75 538.54,767.6 538.82,764.99 539.09,761.96 539.36,758.55 539.63,754.8 539.91,750.73 540.18,746.38 540.45,741.78 540.73,736.94 541,731.89 541.27,726.69 541.54,721.37 541.81,715.99 542.09,710.62 542.36,705.35 542.63,700.25 542.9,695.43 543.18,690.97 543.45,686.96 543.72,683.5 544,680.66 544.27,678.5 544.54,677.09 544.81,676.44 545.09,676.64 545.36,677.58 545.63,679.11 545.9,681.13 546.17,683.59 546.45,686.42 546.72,689.58 546.99,692.99 547.26,696.62 547.54,700.42 547.81,704.33 548.08,708.31 548.36,712.32 548.63,716.32 548.9,720.27 549.17,724.15 549.44,727.92 549.72,731.56 549.99,735.05 550.26,738.39 550.53,741.54 550.81,744.52 551.08,747.31 551.35,749.91 551.62,752.32 551.9,754.54 552.17,756.58 552.44,758.44 552.72,760.14 552.99,761.67 553.26,763.06 553.53,764.3 553.8,765.42 554.08,766.41 554.35,767.29 554.62,768.08 554.89,768.77 555.17,769.38 555.44,769.91 555.71,770.38 555.99,770.79 556.26,771.15 556.53,771.47 556.8,771.74 557.07,771.98 557.35,772.19 557.62,772.38 557.89,772.54 558.16,772.68 558.44,772.8 558.71,772.91 558.98,773.01 559.25,773.09 559.53,773.17 559.8,773.24 560.07,773.3 560.35,773.36 560.62,773.41 560.89,773.46 561.16,773.5 561.43,773.54 561.71,773.58 561.98,773.61 562.25,773.65 562.52,773.68 562.8,773.71 563.07,773.73 563.34,773.76 563.62,773.78 563.89,773.81 564.16,773.83 564.43,773.85 564.7,773.87 564.98,773.89 565.25,773.91 565.52,773.92 565.79,773.94 566.07,773.96 566.34,773.97 566.61,773.98 566.88,774 566.97,774.3" fill="#c2c2c2" stroke="none"/>
<path d="M489.2,774.3H494.4M492,764.51H494.4M492,754.72H494.4M492,744.93H494.4M492,735.14H494.4M489.2,725.35H494.4M492,715.56H494.4M492,705.77H494.4M492,695.98H494.4M492,686.19H494.4M489.2,676.4H494.4M494.4,676.4V774.3" stroke="#222" stroke-width="1" fill="none"/>
<path d="M499.51,774.3V777.1M504.62,774.3V777.1M509.73,774.3V777.1M514.84,774.3V777.1M519.95,774.3V779.3M525.06,774.3V777.1M530.17,774.3V777.1M535.27,774.3V777.1M540.38,774.3V777.1M545.49,774.3V779.3M550.6,774.3V777.1M555.71,774.3V777.1M560.82,774.3V777.1M565.93,774.3V777.1M571.04,774.3V779.3M576.15,774.3V777.1M581.26,774.3V777.1M586.37,774.3V777.1M591.48,774.3V777.1M596.59,774.3V779.3M601.7,774.3V777.1M606.81,774.3V777.1M611.92,774.3V777.1M617.03,774.3V777.1M622.13,774.3V779.3M627.24,774.3V777.1M632.35,774.3V777.1M637.46,774.3V777.1M642.57,774.3V777.1M647.68,774.3V779.3M652.79,774.3V777.1" stroke="#222" stroke-width="1" fill="none"/>
<path d="M489.4,774.3H657.9" stroke="#1a1a1a" stroke-width="1.8" fill="none"/>
<polyline points="494.4,774.3 494.67,774.3 494.94,774.3 495.22,774.3 495.49,774.3 495.76,774.3 496.03,774.3 496.31,774.3 496.58,774.3 496.85,774.3 497.12,774.3 497.4,774.3 497.67,774.3 497.94,774.3 498.21,774.3 498.49,774.3 498.76,774.3 499.03,774.3 499.3,774.3 499.58,774.3 499.85,774.3 500.12,774.3 500.39,774.3 500.67,774.3 500.94,774.3 501.21,774.3 501.48,774.3 501.76,774.3 502.03,774.3 502.3,774.3 502.57,774.3 502.85,774.3 503.12,774.3 503.39,774.3 503.66,774.3 503.94,774.3 504.21,774.3 504.48,774.3 504.75,774.3 505.03,774.3 505.3,774.3 505.57,774.3 505.84,774.3 506.12,774.3 506.39,774.3 506.66,774.3 506.94,774.3 507.21,774.3 507.48,774.3 507.75,774.3 508.02,774.3 508.3,774.3 508.57,774.3 508.84,774.3 509.11,774.3 509.39,774.3 509.66,774.3 509.93,774.3 510.2,774.3 510.48,774.3 510.75,774.3 511.02,774.3 511.29,774.3 511.57,774.3 511.84,774.3 512.11,774.3 512.38,774.3 512.66,774.3 512.93,774.3 513.2,774.3 513.48,774.3 513.75,774.3 514.02,774.3 514.29,774.3 514.56,774.3 514.84,774.3 515.11,774.3 515.38,774.3 515.65,774.3 515.93,774.3 516.2,774.3 516.47,774.3 516.75,774.3 517.02,774.3 517.29,774.3 517.56,774.3 517.84,774.3 518.11,774.3 518.38,774.3 518.65,774.3 518.92,774.3 519.2,774.3 519.47,774.3 519.74,774.3 520.01,774.3 520.29,774.3 520.56,774.3 520.83,774.3 521.11,774.3 521.38,774.3 521.65,774.3 521.92,774.3 522.19,774.3 522.47,774.3 522.74,774.3 523.01,774.3 523.28,774.3 523.56,774.3 523.83,774.3 524.1,774.3 524.38,774.3 524.65,774.3 524.92,774.3 525.19,774.3 525.47,774.3 525.74,774.3 526.01,774.3 526.28,774.3 526.55,774.3 526.83,774.3 527.1,774.3 527.37,774.3 527.64,774.3 527.92,774.3 528.19,774.3 528.46,774.3 528.74,774.3 529.01,774.3 529.28,774.3 529.55,774.3 529.82,774.3 530.1,774.3 530.37,774.3 530.64,774.3 530.91,774.3 531.19,774.3 531.46,774.3 531.73,774.3 532,774.3 532.28,774.3 532.55,774.3 532.82,774.3 533.1,774.3 533.37,774.3 533.64,774.3 533.91,774.3 534.18,774.3 534.46,774.3 534.73,774.3 535,774.3 535.27,774.3 535.55,774.3 535.82,774.3 536.09,774.3 536.37,774.29 536.64,774.26 536.91,774.16 537.18,773.92 537.45,773.45 537.73,772.65 538,771.43 538.27,769.75 538.54,767.6 538.82,764.99 539.09,761.96 539.36,758.55 539.63,754.8 539.91,750.73 540.18,746.38 540.45,741.78 540.73,736.94 541,731.89 541.27,726.69 541.54,721.37 541.81,715.99 542.09,710.62 542.36,705.35 542.63,700.25 542.9,695.43 543.18,690.97 543.45,686.96 543.72,683.5 544,680.66 544.27,678.5 544.54,677.09 544.81,676.44 545.09,676.64 545.36,677.58 545.63,679.11 545.9,681.13 546.17,683.59 546.45,686.42 546.72,689.58 546.99,692.99 547.26,696.62 547.54,700.42 547.81,704.33 548.08,708.31 548.36,712.32 548.63,716.32 548.9,720.27 549.17,724.15 549.44,727.92 549.72,731.56 549.99,735.05 550.26,738.39 550.53,741.54 550.81,744.52 551.08,747.31 551.35,749.91 551.62,752.32 551.9,754.54 552.17,756.58 552.44,758.44 552.72,760.14 552.99,761.67 553.26,763.06 553.53,764.3 553.8,765.42 554.08,766.41 554.35,767.29 554.62,768.08 554.89,768.77 555.17,769.38 555.44,769.91 555.71,770.38 555.99,770.79 556.26,771.15 556.53,771.47 556.8,771.74 557.07,771.98 557.35,772.19 557.62,772.38 557.89,772.54 558.16,772.68 558.44,772.8 558.71,772.91 558.98,773.01 559.25,773.09 559.53,773.17 559.8,773.24 560.07,773.3 560.35,773.36 560.62,773.41 560.89,773.46 561.16,773.5 561.43,773.54 561.71,773.58 561.98,773.61 562.25,773.65 562.52,773.68 562.8,773.71 563.07,773.73 563.34,773.76 563.62,773.78 563.89,773.81 564.16,773.83 564.43,773.85 564.7,773.87 564.98,773.89 565.25,773.91 565.52,773.92 565.79,773.94 566.07,773.96 566.34,773.97 566.61,773.98 566.88,774 567.16,774.01 567.43,774.02 567.7,774.04 567.98,774.05 568.25,774.06 568.52,774.07 568.79,774.08 569.06,774.09 569.34,774.1 569.61,774.11 569.88,774.12 570.15,774.12 570.43,774.13 570.7,774.14 570.97,774.15 571.25,774.15 571.52,774.16 571.79,774.16 572.06,774.17 572.34,774.18 572.61,774.18 572.88,774.19 573.15,774.19 573.42,774.2 573.7,774.2 573.97,774.2 574.24,774.21 574.51,774.2 574.79,774.18 575.06,774.1 575.33,773.93 575.61,773.63 575.88,773.14 576.15,772.44 576.42,771.51 576.69,770.36 576.97,769 577.24,767.44 577.51,765.72 577.78,763.83 578.06,761.81 578.33,759.65 578.6,757.38 578.88,755 579.15,752.54 579.42,750.01 579.69,747.44 579.97,744.85 580.24,742.3 580.51,739.81 580.78,737.43 581.05,735.21 581.33,733.18 581.6,731.4 581.87,729.9 582.14,728.71 582.42,727.87 582.69,727.4 582.96,727.3 583.24,727.61 583.51,728.23 583.78,729.1 584.05,730.19 584.33,731.47 584.6,732.92 584.87,734.51 585.14,736.21 585.41,738 585.69,739.85 585.96,741.75 586.23,743.67 586.5,745.6 586.78,747.5 587.05,749.38 587.32,751.22 587.6,753 587.87,754.71 588.14,756.34 588.41,757.9 588.68,759.37 588.96,760.75 589.23,762.03 589.5,763.23 589.77,764.34 590.05,765.36 590.32,766.29 590.59,767.14 590.87,767.91 591.14,768.61 591.41,769.23 591.68,769.8 591.95,770.3 592.23,770.75 592.5,771.14 592.77,771.5 593.04,771.81 593.32,772.08 593.59,772.32 593.86,772.53 594.13,772.71 594.41,772.87 594.68,773.01 594.95,773.14 595.23,773.24 595.5,773.34 595.77,773.42 596.04,773.49 596.31,773.55 596.59,773.61 596.86,773.66 597.13,773.7 597.4,773.74 597.68,773.78 597.95,773.81 598.22,773.83 598.5,773.86 598.77,773.88 599.04,773.91 599.31,773.93 599.59,773.94 599.86,773.96 600.13,773.98 600.4,773.99 600.67,774.01 600.95,774.02 601.22,774.03 601.49,774.05 601.76,774.06 602.04,774.07 602.31,774.08 602.58,774.09 602.86,774.1 603.13,774.11 603.4,774.11 603.67,774.12 603.94,774.13 604.22,774.14 604.49,774.14 604.76,774.15 605.03,774.16 605.31,774.16 605.58,774.17 605.85,774.18 606.12,774.18 606.4,774.19 606.67,774.19 606.94,774.2 607.22,774.2 607.49,774.2 607.76,774.21 608.03,774.21 608.3,774.22 608.58,774.22 608.85,774.22 609.12,774.23 609.39,774.23 609.67,774.23 609.94,774.24 610.21,774.24 610.49,774.24 610.76,774.24 611.03,774.25 611.3,774.25 611.58,774.25 611.85,774.25 612.12,774.26 612.39,774.26 612.66,774.26 612.94,774.26 613.21,774.26 613.48,774.26 613.75,774.27 614.03,774.27 614.3,774.27 614.57,774.27 614.85,774.27 615.12,774.27 615.39,774.27 615.66,774.27 615.93,774.28 616.21,774.28 616.48,774.28 616.75,774.28 617.02,774.28 617.3,774.28 617.57,774.28 617.84,774.28 618.12,774.28 618.39,774.28 618.66,774.28 618.93,774.29 619.2,774.29 619.48,774.29 619.75,774.29 620.02,774.29 620.29,774.29 620.57,774.29 620.84,774.29 621.11,774.29 621.38,774.29 621.66,774.29 621.93,774.29 622.2,774.29 622.48,774.29 622.75,774.29 623.02,774.29 623.29,774.29 623.57,774.29 623.84,774.29 624.11,774.29 624.38,774.29 624.65,774.29 624.93,774.29 625.2,774.29 625.47,774.29 625.75,774.3 626.02,774.3 626.29,774.3 626.56,774.3 626.84,774.3 627.11,774.3 627.38,774.3 627.65,774.3 627.92,774.3 628.2,774.3 628.47,774.3 628.74,774.3 629.01,774.3 629.29,774.3 629.56,774.3 629.83,774.3 630.11,774.3 630.38,774.3 630.65,774.3 630.92,774.3 631.19,774.3 631.47,774.3 631.74,774.3 632.01,774.3 632.28,774.3 632.56,774.3 632.83,774.3 633.1,774.3 633.38,774.3 633.65,774.3 633.92,774.3 634.19,774.3 634.46,774.3 634.74,774.3 635.01,774.3 635.28,774.3 635.55,774.3 635.83,774.3 636.1,774.3 636.37,774.3 636.64,774.3 636.92,774.3 637.19,774.3 637.46,774.3 637.74,774.3 638.01,774.3 638.28,774.3 638.55,774.3 638.83,774.3 639.1,774.3 639.37,774.3 639.64,774.3 639.91,774.3 640.19,774.3 640.46,774.3 640.73,774.3 641,774.3 641.28,774.3 641.55,774.3 641.82,774.3 642.1,774.3 642.37,774.3 642.64,774.3 642.91,774.3 643.18,774.3 643.46,774.3 643.73,774.3 644,774.3 644.27,774.3 644.55,774.3 644.82,774.3 645.09,774.3 645.37,774.3 645.64,774.3 645.91,774.3 646.18,774.3 646.45,774.3 646.73,774.3 647,774.3 647.27,774.3 647.54,774.3 647.82,774.3 648.09,774.3 648.36,774.3 648.63,774.3 648.91,774.3 649.18,774.3 649.45,774.3 649.73,774.3 650,774.3 650.27,774.3 650.54,774.3 650.82,774.3 651.09,774.3 651.36,774.3 651.63,774.3 651.9,774.3 652.18,774.3 652.45,774.3 652.72,774.3 653,774.3 653.27,774.3 653.54,774.3 653.81,774.3 654.09,774.3 654.36,774.3 654.63,774.3 654.9,774.3 655.17,774.3 655.45,774.3 655.72,774.3 655.99,774.3 656.26,774.3 656.54,774.3 656.81,774.3 657.08,774.3 657.36,774.3 657.63,774.3 657.9,774.3" fill="none" stroke="#111" stroke-width="1"/>
<text transform="translate(489,679.6) scale(1,1.06)" x="0" y="0" font-size="8.87" text-anchor="end" fill="#1a1a1a" stroke="#1a1a1a" stroke-width="0.2">100</text>
<text transform="translate(489,728.55) scale(1,1.06)" x="0" y="0" font-size="8.87" text-anchor="end" fill="#1a1a1a" stroke="#1a1a1a" stroke-width="0.2">%</text>
<text transform="translate(489,777.7) scale(1,1.06)" x="0" y="0" font-size="8.87" text-anchor="end" fill="#1a1a1a" stroke="#1a1a1a" stroke-width="0.2">0</text>
<text transform="translate(545.49,787.89) scale(1,1.06)" x="0" y="0" font-size="8.87" text-anchor="middle" fill="#1a1a1a" stroke="#1a1a1a" stroke-width="0.2">3.250</text>
<text transform="translate(596.59,787.89) scale(1,1.06)" x="0" y="0" font-size="8.87" text-anchor="middle" fill="#1a1a1a" stroke="#1a1a1a" stroke-width="0.2">3.500</text>
<text transform="translate(647.68,787.89) scale(1,1.06)" x="0" y="0" font-size="8.87" text-anchor="middle" fill="#1a1a1a" stroke="#1a1a1a" stroke-width="0.2">3.750</text>
<text transform="translate(662.14,777.55) scale(1,1.06)" x="0" y="0" font-size="9.16" fill="#1a1a1a" stroke="#1a1a1a" stroke-width="0.2">min</text>
<text transform="translate(544.9,674.53) scale(1,1.06)" x="0" y="0" font-size="9.16" text-anchor="middle" fill="#1a1a1a" stroke="#1a1a1a" stroke-width="0.2">3.25</text>
<text transform="translate(582.9,725.44) scale(1,1.06)" x="0" y="0" font-size="9.16" text-anchor="middle" fill="#1a1a1a" stroke="#1a1a1a" stroke-width="0.2">3.43</text>
<rect x="30.4" y="371.4" width="616.9" height="14.2" fill="#bad7f0"/>
<path d="M30.4,430.1V371.4H647.3V430.1" fill="none" stroke="#3c4046" stroke-width="1.6"/>
<path d="M29.6,430.1H648.1" fill="none" stroke="#6a6d72" stroke-width="1.5"/>
<text transform="translate(32.4,382.1) scale(1,1.06)" x="0" y="0" font-size="9.3" fill="#1a1a1a" stroke="#1a1a1a" stroke-width="0.2">Sample Text</text>
<text transform="translate(115,382.1) scale(1,1.06)" x="0" y="0" font-size="9.3" fill="#1a1a1a" stroke="#1a1a1a" stroke-width="0.2">Name</text>
<text transform="translate(209.5,382.1) scale(1,1.06)" x="0" y="0" font-size="9.3" fill="#1a1a1a" stroke="#1a1a1a" stroke-width="0.2">Trace</text>
<text transform="translate(328.6,382.1) scale(1,1.06)" x="0" y="0" font-size="9.3" text-anchor="end" fill="#1a1a1a" stroke="#1a1a1a" stroke-width="0.2">RT</text>
<text transform="translate(390,382.1) scale(1,1.06)" x="0" y="0" font-size="9.3" text-anchor="end" fill="#1a1a1a" stroke="#1a1a1a" stroke-width="0.2">Area</text>
<text transform="translate(395.7,382.1) scale(1,1.06)" x="0" y="0" font-size="9.3" fill="#1a1a1a" stroke="#1a1a1a" stroke-width="0.2">Primar...</text>
<text transform="translate(472.8,382.1) scale(1,1.06)" x="0" y="0" font-size="9.3" text-anchor="end" fill="#1a1a1a" stroke="#1a1a1a" stroke-width="0.2">ng/mL</text>
<text transform="translate(529.7,382.1) scale(1,1.06)" x="0" y="0" font-size="9.3" text-anchor="end" fill="#1a1a1a" stroke="#1a1a1a" stroke-width="0.2">%Dev</text>
<text transform="translate(535.4,382.1) scale(1,1.06)" x="0" y="0" font-size="9.3" fill="#1a1a1a" stroke="#1a1a1a" stroke-width="0.2">1º Ratio (A...</text>
<text transform="translate(591.7,382.1) scale(1,1.06)" x="0" y="0" font-size="9.3" fill="#1a1a1a" stroke="#1a1a1a" stroke-width="0.2">2º Ratio (A...</text>
<text transform="translate(32.4,396.4) scale(1,1.06)" x="0" y="0" font-size="9.3" fill="#1a1a1a" stroke="#1a1a1a" stroke-width="0.2">SPIKE-3</text>
<text transform="translate(115,396.4) scale(1,1.06)" x="0" y="0" font-size="9.3" fill="#1a1a1a" stroke="#1a1a1a" stroke-width="0.2">FB1</text>
<text transform="translate(209.5,396.4) scale(1,1.06)" x="0" y="0" font-size="9.3" fill="#1a1a1a" stroke="#1a1a1a" stroke-width="0.2">722.479 &gt; 352.427</text>
<text transform="translate(328.6,396.4) scale(1,1.06)" x="0" y="0" font-size="9.3" text-anchor="end" fill="#1a1a1a" stroke="#1a1a1a" stroke-width="0.2">2.92</text>
<text transform="translate(390,396.4) scale(1,1.06)" x="0" y="0" font-size="9.3" text-anchor="end" fill="#1a1a1a" stroke="#1a1a1a" stroke-width="0.2">8454.515</text>
<text transform="translate(413,396.4) scale(1,1.06)" x="0" y="0" font-size="9.3" text-anchor="middle" fill="#1a1a1a" stroke="#1a1a1a" stroke-width="0.2">bd</text>
<text transform="translate(472.8,396.4) scale(1,1.06)" x="0" y="0" font-size="9.3" text-anchor="end" fill="#1a1a1a" stroke="#1a1a1a" stroke-width="0.2">81.461</text>
<text transform="translate(587.4,396.4) scale(1,1.06)" x="0" y="0" font-size="9.3" text-anchor="end" fill="#1a1a1a" stroke="#1a1a1a" stroke-width="0.2">2.188</text>
<text transform="translate(32.4,410.7) scale(1,1.06)" x="0" y="0" font-size="9.3" fill="#1a1a1a" stroke="#1a1a1a" stroke-width="0.2">SPIKE-3</text>
<text transform="translate(115,410.7) scale(1,1.06)" x="0" y="0" font-size="9.3" fill="#1a1a1a" stroke="#1a1a1a" stroke-width="0.2">FB2</text>
<text transform="translate(209.5,410.7) scale(1,1.06)" x="0" y="0" font-size="9.3" fill="#1a1a1a" stroke="#1a1a1a" stroke-width="0.2">706.479 &gt; 336.429</text>
<text transform="translate(328.6,410.7) scale(1,1.06)" x="0" y="0" font-size="9.3" text-anchor="end" fill="#1a1a1a" stroke="#1a1a1a" stroke-width="0.2">3.43</text>
<text transform="translate(390,410.7) scale(1,1.06)" x="0" y="0" font-size="9.3" text-anchor="end" fill="#1a1a1a" stroke="#1a1a1a" stroke-width="0.2">10380.057</text>
<text transform="translate(413,410.7) scale(1,1.06)" x="0" y="0" font-size="9.3" text-anchor="middle" fill="#1a1a1a" stroke="#1a1a1a" stroke-width="0.2">bb</text>
<text transform="translate(472.8,410.7) scale(1,1.06)" x="0" y="0" font-size="9.3" text-anchor="end" fill="#1a1a1a" stroke="#1a1a1a" stroke-width="0.2">81.959</text>
<text transform="translate(587.4,410.7) scale(1,1.06)" x="0" y="0" font-size="9.3" text-anchor="end" fill="#1a1a1a" stroke="#1a1a1a" stroke-width="0.2">1.581</text>
<text transform="translate(32.4,425.5) scale(1,1.06)" x="0" y="0" font-size="9.3" fill="#1a1a1a" stroke="#1a1a1a" stroke-width="0.2">SPIKE-3</text>
<text transform="translate(115,425.5) scale(1,1.06)" x="0" y="0" font-size="9.3" fill="#1a1a1a" stroke="#1a1a1a" stroke-width="0.2">FB3</text>
<text transform="translate(209.5,425.5) scale(1,1.06)" x="0" y="0" font-size="9.3" fill="#1a1a1a" stroke="#1a1a1a" stroke-width="0.2">706.479 &gt; 336.429</text>
<text transform="translate(328.6,425.5) scale(1,1.06)" x="0" y="0" font-size="9.3" text-anchor="end" fill="#1a1a1a" stroke="#1a1a1a" stroke-width="0.2">3.25</text>
<text transform="translate(390,425.5) scale(1,1.06)" x="0" y="0" font-size="9.3" text-anchor="end" fill="#1a1a1a" stroke="#1a1a1a" stroke-width="0.2">17323.461</text>
<text transform="translate(413,425.5) scale(1,1.06)" x="0" y="0" font-size="9.3" text-anchor="middle" fill="#1a1a1a" stroke="#1a1a1a" stroke-width="0.2">bb</text>
<text transform="translate(472.8,425.5) scale(1,1.06)" x="0" y="0" font-size="9.3" text-anchor="end" fill="#1a1a1a" stroke="#1a1a1a" stroke-width="0.2">85.648</text>
<text transform="translate(587.4,425.5) scale(1,1.06)" x="0" y="0" font-size="9.3" text-anchor="end" fill="#1a1a1a" stroke="#1a1a1a" stroke-width="0.2">1.237</text>
<rect x="24.6" y="803.5" width="615.5" height="13.9" fill="#bad7f0"/>
<path d="M24.6,861.9V803.5H640.1V861.9" fill="none" stroke="#3c4046" stroke-width="1.6"/>
<path d="M23.8,861.9H640.9" fill="none" stroke="#6a6d72" stroke-width="1.5"/>
<text transform="translate(26.6,813.6) scale(1,1.06)" x="0" y="0" font-size="9.28" fill="#1a1a1a" stroke="#1a1a1a" stroke-width="0.2">Sample Text</text>
<text transform="translate(109.03,813.6) scale(1,1.06)" x="0" y="0" font-size="9.28" fill="#1a1a1a" stroke="#1a1a1a" stroke-width="0.2">Name</text>
<text transform="translate(203.34,813.6) scale(1,1.06)" x="0" y="0" font-size="9.28" fill="#1a1a1a" stroke="#1a1a1a" stroke-width="0.2">Trace</text>
<text transform="translate(322.2,813.6) scale(1,1.06)" x="0" y="0" font-size="9.28" text-anchor="end" fill="#1a1a1a" stroke="#1a1a1a" stroke-width="0.2">RT</text>
<text transform="translate(383.48,813.6) scale(1,1.06)" x="0" y="0" font-size="9.28" text-anchor="end" fill="#1a1a1a" stroke="#1a1a1a" stroke-width="0.2">Area</text>
<text transform="translate(389.17,813.6) scale(1,1.06)" x="0" y="0" font-size="9.28" fill="#1a1a1a" stroke="#1a1a1a" stroke-width="0.2">Primar...</text>
<text transform="translate(466.12,813.6) scale(1,1.06)" x="0" y="0" font-size="9.28" text-anchor="end" fill="#1a1a1a" stroke="#1a1a1a" stroke-width="0.2">ng/mL</text>
<text transform="translate(522.9,813.6) scale(1,1.06)" x="0" y="0" font-size="9.28" text-anchor="end" fill="#1a1a1a" stroke="#1a1a1a" stroke-width="0.2">%Dev</text>
<text transform="translate(528.59,813.6) scale(1,1.06)" x="0" y="0" font-size="9.28" fill="#1a1a1a" stroke="#1a1a1a" stroke-width="0.2">1º Ratio (A...</text>
<text transform="translate(584.78,813.6) scale(1,1.06)" x="0" y="0" font-size="9.28" fill="#1a1a1a" stroke="#1a1a1a" stroke-width="0.2">2º Ratio (A...</text>
<text transform="translate(26.6,827.6) scale(1,1.06)" x="0" y="0" font-size="9.28" fill="#1a1a1a" stroke="#1a1a1a" stroke-width="0.2">SPIKE-4</text>
<text transform="translate(109.03,827.6) scale(1,1.06)" x="0" y="0" font-size="9.28" fill="#1a1a1a" stroke="#1a1a1a" stroke-width="0.2">FB1</text>
<text transform="translate(203.34,827.6) scale(1,1.06)" x="0" y="0" font-size="9.28" fill="#1a1a1a" stroke="#1a1a1a" stroke-width="0.2">722.479 &gt; 352.427</text>
<text transform="translate(322.2,827.6) scale(1,1.06)" x="0" y="0" font-size="9.28" text-anchor="end" fill="#1a1a1a" stroke="#1a1a1a" stroke-width="0.2">2.92</text>
<text transform="translate(383.48,827.6) scale(1,1.06)" x="0" y="0" font-size="9.28" text-anchor="end" fill="#1a1a1a" stroke="#1a1a1a" stroke-width="0.2">8388.446</text>
<text transform="translate(406.43,827.6) scale(1,1.06)" x="0" y="0" font-size="9.28" text-anchor="middle" fill="#1a1a1a" stroke="#1a1a1a" stroke-width="0.2">bb</text>
<text transform="translate(466.12,827.6) scale(1,1.06)" x="0" y="0" font-size="9.28" text-anchor="end" fill="#1a1a1a" stroke="#1a1a1a" stroke-width="0.2">80.825</text>
<text transform="translate(580.49,827.6) scale(1,1.06)" x="0" y="0" font-size="9.28" text-anchor="end" fill="#1a1a1a" stroke="#1a1a1a" stroke-width="0.2">2.234</text>
<text transform="translate(26.6,842.5) scale(1,1.06)" x="0" y="0" font-size="9.28" fill="#1a1a1a" stroke="#1a1a1a" stroke-width="0.2">SPIKE-4</text>
<text transform="translate(109.03,842.5) scale(1,1.06)" x="0" y="0" font-size="9.28" fill="#1a1a1a" stroke="#1a1a1a" stroke-width="0.2">FB2</text>
<text transform="translate(203.34,842.5) scale(1,1.06)" x="0" y="0" font-size="9.28" fill="#1a1a1a" stroke="#1a1a1a" stroke-width="0.2">706.479 &gt; 336.429</text>
<text transform="translate(322.2,842.5) scale(1,1.06)" x="0" y="0" font-size="9.28" text-anchor="end" fill="#1a1a1a" stroke="#1a1a1a" stroke-width="0.2">3.43</text>
<text transform="translate(383.48,842.5) scale(1,1.06)" x="0" y="0" font-size="9.28" text-anchor="end" fill="#1a1a1a" stroke="#1a1a1a" stroke-width="0.2">10138.300</text>
<text transform="translate(406.43,842.5) scale(1,1.06)" x="0" y="0" font-size="9.28" text-anchor="middle" fill="#1a1a1a" stroke="#1a1a1a" stroke-width="0.2">bb</text>
<text transform="translate(466.12,842.5) scale(1,1.06)" x="0" y="0" font-size="9.28" text-anchor="end" fill="#1a1a1a" stroke="#1a1a1a" stroke-width="0.2">80.050</text>
<text transform="translate(580.49,842.5) scale(1,1.06)" x="0" y="0" font-size="9.28" text-anchor="end" fill="#1a1a1a" stroke="#1a1a1a" stroke-width="0.2">1.589</text>
<text transform="translate(26.6,857.4) scale(1,1.06)" x="0" y="0" font-size="9.28" fill="#1a1a1a" stroke="#1a1a1a" stroke-width="0.2">SPIKE-4</text>
<text transform="translate(109.03,857.4) scale(1,1.06)" x="0" y="0" font-size="9.28" fill="#1a1a1a" stroke="#1a1a1a" stroke-width="0.2">FB3</text>
<text transform="translate(203.34,857.4) scale(1,1.06)" x="0" y="0" font-size="9.28" fill="#1a1a1a" stroke="#1a1a1a" stroke-width="0.2">706.479 &gt; 336.429</text>
<text transform="translate(322.2,857.4) scale(1,1.06)" x="0" y="0" font-size="9.28" text-anchor="end" fill="#1a1a1a" stroke="#1a1a1a" stroke-width="0.2">3.25</text>
<text transform="translate(383.48,857.4) scale(1,1.06)" x="0" y="0" font-size="9.28" text-anchor="end" fill="#1a1a1a" stroke="#1a1a1a" stroke-width="0.2">17110.336</text>
<text transform="translate(406.43,857.4) scale(1,1.06)" x="0" y="0" font-size="9.28" text-anchor="middle" fill="#1a1a1a" stroke="#1a1a1a" stroke-width="0.2">bb</text>
<text transform="translate(466.12,857.4) scale(1,1.06)" x="0" y="0" font-size="9.28" text-anchor="end" fill="#1a1a1a" stroke="#1a1a1a" stroke-width="0.2">84.594</text>
<text transform="translate(580.49,857.4) scale(1,1.06)" x="0" y="0" font-size="9.28" text-anchor="end" fill="#1a1a1a" stroke="#1a1a1a" stroke-width="0.2">1.261</text>
<defs><linearGradient id="wg" x1="0" y1="0" x2="0" y2="1"><stop offset="0" stop-color="#a9c8ee"/><stop offset="1" stop-color="#2f7fe0"/></linearGradient></defs>
<g><path d="M123.5,104.5 L127.5,114.5 L130.5,107.5 L133,114.5" fill="none" stroke="#cdd6e2" stroke-width="1.5" stroke-opacity="0.9"/><path d="M131.8,114.7 L135.5,99.8 L137.3,100.7 L134.3,114.7 Z" fill="url(#wg)" opacity="0.9"/><path d="M128,108.5 L132,114.7 L134,114.7 L130.8,108.5 Z" fill="#4a90e2" opacity="0.55"/><text x="138.5" y="114.3" font-size="15" textLength="37" lengthAdjust="spacingAndGlyphs" font-weight="bold" fill="#ffffff" fill-opacity="0.9" stroke="#c0c4c9" stroke-width="0.7">elch</text><path transform="translate(128.5,116.5) scale(0.65)" d="M2,1.5V7Q2,9 0.5,10 M2,1.5H8.5V9.5Q8.5,10 7,10 M2,4.5H8.5 M2,7H8.5" fill="none" stroke="#b9b9b9" stroke-width="1.3" stroke-opacity="0.9"/><path transform="translate(139.7,116.5) scale(0.65)" d="M0,3H4 M2,0.5V3Q2,8 0,10 M3.5,3V9Q3.5,10 5,10H10 M5.5,1H9.5V8H5.5Z M5.5,4.5H9.5" fill="none" stroke="#b9b9b9" stroke-width="1.3" stroke-opacity="0.9"/><path transform="translate(150.9,116.5) scale(0.65)" d="M0.5,2L4,1 M0,4H4.5 M2.3,1V10 M2.3,5L0,8 M2.3,5L4.5,7 M6,1.5L7,2.5 M5.5,4L6.5,5 M5,7H10 M8.5,0.5V10" fill="none" stroke="#b9b9b9" stroke-width="1.3" stroke-opacity="0.9"/><path transform="translate(162.1,116.5) scale(0.65)" d="M0,3H4 M2,0.5V9.5L1,9 M0,7L4,5 M5,2.5H10 M7.5,0.5V4.5 M5.5,4.5H9.5L5.5,10 M6.5,6.5L10,10" fill="none" stroke="#b9b9b9" stroke-width="1.3" stroke-opacity="0.9"/></g>
<g><path d="M344,104.5 L348,114.5 L351,107.5 L353.5,114.5" fill="none" stroke="#cdd6e2" stroke-width="1.5" stroke-opacity="0.9"/><path d="M352.3,114.7 L356,99.8 L357.8,100.7 L354.8,114.7 Z" fill="url(#wg)" opacity="0.9"/><path d="M348.5,108.5 L352.5,114.7 L354.5,114.7 L351.3,108.5 Z" fill="#4a90e2" opacity="0.55"/><text x="359" y="114.3" font-size="15" textLength="37" lengthAdjust="spacingAndGlyphs" font-weight="bold" fill="#ffffff" fill-opacity="0.9" stroke="#c0c4c9" stroke-width="0.7">elch</text><path transform="translate(349,116.5) scale(0.65)" d="M2,1.5V7Q2,9 0.5,10 M2,1.5H8.5V9.5Q8.5,10 7,10 M2,4.5H8.5 M2,7H8.5" fill="none" stroke="#b9b9b9" stroke-width="1.3" stroke-opacity="0.9"/><path transform="translate(360.2,116.5) scale(0.65)" d="M0,3H4 M2,0.5V3Q2,8 0,10 M3.5,3V9Q3.5,10 5,10H10 M5.5,1H9.5V8H5.5Z M5.5,4.5H9.5" fill="none" stroke="#b9b9b9" stroke-width="1.3" stroke-opacity="0.9"/><path transform="translate(371.4,116.5) scale(0.65)" d="M0.5,2L4,1 M0,4H4.5 M2.3,1V10 M2.3,5L0,8 M2.3,5L4.5,7 M6,1.5L7,2.5 M5.5,4L6.5,5 M5,7H10 M8.5,0.5V10" fill="none" stroke="#b9b9b9" stroke-width="1.3" stroke-opacity="0.9"/><path transform="translate(382.6,116.5) scale(0.65)" d="M0,3H4 M2,0.5V9.5L1,9 M0,7L4,5 M5,2.5H10 M7.5,0.5V4.5 M5.5,4.5H9.5L5.5,10 M6.5,6.5L10,10" fill="none" stroke="#b9b9b9" stroke-width="1.3" stroke-opacity="0.9"/></g>
<g><path d="M540.7,105.5 L544.7,115.5 L547.7,108.5 L550.2,115.5" fill="none" stroke="#cdd6e2" stroke-width="1.5" stroke-opacity="0.9"/><path d="M549,115.7 L552.7,100.8 L554.5,101.7 L551.5,115.7 Z" fill="url(#wg)" opacity="0.9"/><path d="M545.2,109.5 L549.2,115.7 L551.2,115.7 L548,109.5 Z" fill="#4a90e2" opacity="0.55"/><text x="555.7" y="115.3" font-size="15" textLength="37" lengthAdjust="spacingAndGlyphs" font-weight="bold" fill="#ffffff" fill-opacity="0.9" stroke="#c0c4c9" stroke-width="0.7">elch</text><path transform="translate(545.7,117.5) scale(0.65)" d="M2,1.5V7Q2,9 0.5,10 M2,1.5H8.5V9.5Q8.5,10 7,10 M2,4.5H8.5 M2,7H8.5" fill="none" stroke="#b9b9b9" stroke-width="1.3" stroke-opacity="0.9"/><path transform="translate(556.9,117.5) scale(0.65)" d="M0,3H4 M2,0.5V3Q2,8 0,10 M3.5,3V9Q3.5,10 5,10H10 M5.5,1H9.5V8H5.5Z M5.5,4.5H9.5" fill="none" stroke="#b9b9b9" stroke-width="1.3" stroke-opacity="0.9"/><path transform="translate(568.1,117.5) scale(0.65)" d="M0.5,2L4,1 M0,4H4.5 M2.3,1V10 M2.3,5L0,8 M2.3,5L4.5,7 M6,1.5L7,2.5 M5.5,4L6.5,5 M5,7H10 M8.5,0.5V10" fill="none" stroke="#b9b9b9" stroke-width="1.3" stroke-opacity="0.9"/><path transform="translate(579.3,117.5) scale(0.65)" d="M0,3H4 M2,0.5V9.5L1,9 M0,7L4,5 M5,2.5H10 M7.5,0.5V4.5 M5.5,4.5H9.5L5.5,10 M6.5,6.5L10,10" fill="none" stroke="#b9b9b9" stroke-width="1.3" stroke-opacity="0.9"/></g>
<g><path d="M97.1,298.6 L101.1,308.6 L104.1,301.6 L106.6,308.6" fill="none" stroke="#cdd6e2" stroke-width="1.5" stroke-opacity="0.9"/><path d="M105.4,308.8 L109.1,293.9 L110.9,294.8 L107.9,308.8 Z" fill="url(#wg)" opacity="0.9"/><path d="M101.6,302.6 L105.6,308.8 L107.6,308.8 L104.4,302.6 Z" fill="#4a90e2" opacity="0.55"/><text x="112.1" y="308.4" font-size="15" textLength="37" lengthAdjust="spacingAndGlyphs" font-weight="bold" fill="#ffffff" fill-opacity="0.9" stroke="#c0c4c9" stroke-width="0.7">elch</text><path transform="translate(102.1,310.6) scale(0.65)" d="M2,1.5V7Q2,9 0.5,10 M2,1.5H8.5V9.5Q8.5,10 7,10 M2,4.5H8.5 M2,7H8.5" fill="none" stroke="#b9b9b9" stroke-width="1.3" stroke-opacity="0.9"/><path transform="translate(113.3,310.6) scale(0.65)" d="M0,3H4 M2,0.5V3Q2,8 0,10 M3.5,3V9Q3.5,10 5,10H10 M5.5,1H9.5V8H5.5Z M5.5,4.5H9.5" fill="none" stroke="#b9b9b9" stroke-width="1.3" stroke-opacity="0.9"/><path transform="translate(124.5,310.6) scale(0.65)" d="M0.5,2L4,1 M0,4H4.5 M2.3,1V10 M2.3,5L0,8 M2.3,5L4.5,7 M6,1.5L7,2.5 M5.5,4L6.5,5 M5,7H10 M8.5,0.5V10" fill="none" stroke="#b9b9b9" stroke-width="1.3" stroke-opacity="0.9"/><path transform="translate(135.7,310.6) scale(0.65)" d="M0,3H4 M2,0.5V9.5L1,9 M0,7L4,5 M5,2.5H10 M7.5,0.5V4.5 M5.5,4.5H9.5L5.5,10 M6.5,6.5L10,10" fill="none" stroke="#b9b9b9" stroke-width="1.3" stroke-opacity="0.9"/></g>
<g><path d="M316.4,298.6 L320.4,308.6 L323.4,301.6 L325.9,308.6" fill="none" stroke="#cdd6e2" stroke-width="1.5" stroke-opacity="0.9"/><path d="M324.7,308.8 L328.4,293.9 L330.2,294.8 L327.2,308.8 Z" fill="url(#wg)" opacity="0.9"/><path d="M320.9,302.6 L324.9,308.8 L326.9,308.8 L323.7,302.6 Z" fill="#4a90e2" opacity="0.55"/><text x="331.4" y="308.4" font-size="15" textLength="37" lengthAdjust="spacingAndGlyphs" font-weight="bold" fill="#ffffff" fill-opacity="0.9" stroke="#c0c4c9" stroke-width="0.7">elch</text><path transform="translate(321.4,310.6) scale(0.65)" d="M2,1.5V7Q2,9 0.5,10 M2,1.5H8.5V9.5Q8.5,10 7,10 M2,4.5H8.5 M2,7H8.5" fill="none" stroke="#b9b9b9" stroke-width="1.3" stroke-opacity="0.9"/><path transform="translate(332.6,310.6) scale(0.65)" d="M0,3H4 M2,0.5V3Q2,8 0,10 M3.5,3V9Q3.5,10 5,10H10 M5.5,1H9.5V8H5.5Z M5.5,4.5H9.5" fill="none" stroke="#b9b9b9" stroke-width="1.3" stroke-opacity="0.9"/><path transform="translate(343.8,310.6) scale(0.65)" d="M0.5,2L4,1 M0,4H4.5 M2.3,1V10 M2.3,5L0,8 M2.3,5L4.5,7 M6,1.5L7,2.5 M5.5,4L6.5,5 M5,7H10 M8.5,0.5V10" fill="none" stroke="#b9b9b9" stroke-width="1.3" stroke-opacity="0.9"/><path transform="translate(355,310.6) scale(0.65)" d="M0,3H4 M2,0.5V9.5L1,9 M0,7L4,5 M5,2.5H10 M7.5,0.5V4.5 M5.5,4.5H9.5L5.5,10 M6.5,6.5L10,10" fill="none" stroke="#b9b9b9" stroke-width="1.3" stroke-opacity="0.9"/></g>
<g><path d="M549.3,298.6 L553.3,308.6 L556.3,301.6 L558.8,308.6" fill="none" stroke="#cdd6e2" stroke-width="1.5" stroke-opacity="0.9"/><path d="M557.6,308.8 L561.3,293.9 L563.1,294.8 L560.1,308.8 Z" fill="url(#wg)" opacity="0.9"/><path d="M553.8,302.6 L557.8,308.8 L559.8,308.8 L556.6,302.6 Z" fill="#4a90e2" opacity="0.55"/><text x="564.3" y="308.4" font-size="15" textLength="37" lengthAdjust="spacingAndGlyphs" font-weight="bold" fill="#ffffff" fill-opacity="0.9" stroke="#c0c4c9" stroke-width="0.7">elch</text><path transform="translate(554.3,310.6) scale(0.65)" d="M2,1.5V7Q2,9 0.5,10 M2,1.5H8.5V9.5Q8.5,10 7,10 M2,4.5H8.5 M2,7H8.5" fill="none" stroke="#b9b9b9" stroke-width="1.3" stroke-opacity="0.9"/><path transform="translate(565.5,310.6) scale(0.65)" d="M0,3H4 M2,0.5V3Q2,8 0,10 M3.5,3V9Q3.5,10 5,10H10 M5.5,1H9.5V8H5.5Z M5.5,4.5H9.5" fill="none" stroke="#b9b9b9" stroke-width="1.3" stroke-opacity="0.9"/><path transform="translate(576.7,310.6) scale(0.65)" d="M0.5,2L4,1 M0,4H4.5 M2.3,1V10 M2.3,5L0,8 M2.3,5L4.5,7 M6,1.5L7,2.5 M5.5,4L6.5,5 M5,7H10 M8.5,0.5V10" fill="none" stroke="#b9b9b9" stroke-width="1.3" stroke-opacity="0.9"/><path transform="translate(587.9,310.6) scale(0.65)" d="M0,3H4 M2,0.5V9.5L1,9 M0,7L4,5 M5,2.5H10 M7.5,0.5V4.5 M5.5,4.5H9.5L5.5,10 M6.5,6.5L10,10" fill="none" stroke="#b9b9b9" stroke-width="1.3" stroke-opacity="0.9"/></g>
<g><path d="M122.1,552.1 L126.1,562.1 L129.1,555.1 L131.6,562.1" fill="none" stroke="#cdd6e2" stroke-width="1.5" stroke-opacity="0.9"/><path d="M130.4,562.3 L134.1,547.4 L135.9,548.3 L132.9,562.3 Z" fill="url(#wg)" opacity="0.9"/><path d="M126.6,556.1 L130.6,562.3 L132.6,562.3 L129.4,556.1 Z" fill="#4a90e2" opacity="0.55"/><text x="137.1" y="561.9" font-size="15" textLength="37" lengthAdjust="spacingAndGlyphs" font-weight="bold" fill="#ffffff" fill-opacity="0.9" stroke="#c0c4c9" stroke-width="0.7">elch</text><path transform="translate(127.1,564.1) scale(0.65)" d="M2,1.5V7Q2,9 0.5,10 M2,1.5H8.5V9.5Q8.5,10 7,10 M2,4.5H8.5 M2,7H8.5" fill="none" stroke="#b9b9b9" stroke-width="1.3" stroke-opacity="0.9"/><path transform="translate(138.3,564.1) scale(0.65)" d="M0,3H4 M2,0.5V3Q2,8 0,10 M3.5,3V9Q3.5,10 5,10H10 M5.5,1H9.5V8H5.5Z M5.5,4.5H9.5" fill="none" stroke="#b9b9b9" stroke-width="1.3" stroke-opacity="0.9"/><path transform="translate(149.5,564.1) scale(0.65)" d="M0.5,2L4,1 M0,4H4.5 M2.3,1V10 M2.3,5L0,8 M2.3,5L4.5,7 M6,1.5L7,2.5 M5.5,4L6.5,5 M5,7H10 M8.5,0.5V10" fill="none" stroke="#b9b9b9" stroke-width="1.3" stroke-opacity="0.9"/><path transform="translate(160.7,564.1) scale(0.65)" d="M0,3H4 M2,0.5V9.5L1,9 M0,7L4,5 M5,2.5H10 M7.5,0.5V4.5 M5.5,4.5H9.5L5.5,10 M6.5,6.5L10,10" fill="none" stroke="#b9b9b9" stroke-width="1.3" stroke-opacity="0.9"/></g>
<g><path d="M347.9,552.1 L351.9,562.1 L354.9,555.1 L357.4,562.1" fill="none" stroke="#cdd6e2" stroke-width="1.5" stroke-opacity="0.9"/><path d="M356.2,562.3 L359.9,547.4 L361.7,548.3 L358.7,562.3 Z" fill="url(#wg)" opacity="0.9"/><path d="M352.4,556.1 L356.4,562.3 L358.4,562.3 L355.2,556.1 Z" fill="#4a90e2" opacity="0.55"/><text x="362.9" y="561.9" font-size="15" textLength="37" lengthAdjust="spacingAndGlyphs" font-weight="bold" fill="#ffffff" fill-opacity="0.9" stroke="#c0c4c9" stroke-width="0.7">elch</text><path transform="translate(352.9,564.1) scale(0.65)" d="M2,1.5V7Q2,9 0.5,10 M2,1.5H8.5V9.5Q8.5,10 7,10 M2,4.5H8.5 M2,7H8.5" fill="none" stroke="#b9b9b9" stroke-width="1.3" stroke-opacity="0.9"/><path transform="translate(364.1,564.1) scale(0.65)" d="M0,3H4 M2,0.5V3Q2,8 0,10 M3.5,3V9Q3.5,10 5,10H10 M5.5,1H9.5V8H5.5Z M5.5,4.5H9.5" fill="none" stroke="#b9b9b9" stroke-width="1.3" stroke-opacity="0.9"/><path transform="translate(375.3,564.1) scale(0.65)" d="M0.5,2L4,1 M0,4H4.5 M2.3,1V10 M2.3,5L0,8 M2.3,5L4.5,7 M6,1.5L7,2.5 M5.5,4L6.5,5 M5,7H10 M8.5,0.5V10" fill="none" stroke="#b9b9b9" stroke-width="1.3" stroke-opacity="0.9"/><path transform="translate(386.5,564.1) scale(0.65)" d="M0,3H4 M2,0.5V9.5L1,9 M0,7L4,5 M5,2.5H10 M7.5,0.5V4.5 M5.5,4.5H9.5L5.5,10 M6.5,6.5L10,10" fill="none" stroke="#b9b9b9" stroke-width="1.3" stroke-opacity="0.9"/></g>
<g><path d="M540.7,552.1 L544.7,562.1 L547.7,555.1 L550.2,562.1" fill="none" stroke="#cdd6e2" stroke-width="1.5" stroke-opacity="0.9"/><path d="M549,562.3 L552.7,547.4 L554.5,548.3 L551.5,562.3 Z" fill="url(#wg)" opacity="0.9"/><path d="M545.2,556.1 L549.2,562.3 L551.2,562.3 L548,556.1 Z" fill="#4a90e2" opacity="0.55"/><text x="555.7" y="561.9" font-size="15" textLength="37" lengthAdjust="spacingAndGlyphs" font-weight="bold" fill="#ffffff" fill-opacity="0.9" stroke="#c0c4c9" stroke-width="0.7">elch</text><path transform="translate(545.7,564.1) scale(0.65)" d="M2,1.5V7Q2,9 0.5,10 M2,1.5H8.5V9.5Q8.5,10 7,10 M2,4.5H8.5 M2,7H8.5" fill="none" stroke="#b9b9b9" stroke-width="1.3" stroke-opacity="0.9"/><path transform="translate(556.9,564.1) scale(0.65)" d="M0,3H4 M2,0.5V3Q2,8 0,10 M3.5,3V9Q3.5,10 5,10H10 M5.5,1H9.5V8H5.5Z M5.5,4.5H9.5" fill="none" stroke="#b9b9b9" stroke-width="1.3" stroke-opacity="0.9"/><path transform="translate(568.1,564.1) scale(0.65)" d="M0.5,2L4,1 M0,4H4.5 M2.3,1V10 M2.3,5L0,8 M2.3,5L4.5,7 M6,1.5L7,2.5 M5.5,4L6.5,5 M5,7H10 M8.5,0.5V10" fill="none" stroke="#b9b9b9" stroke-width="1.3" stroke-opacity="0.9"/><path transform="translate(579.3,564.1) scale(0.65)" d="M0,3H4 M2,0.5V9.5L1,9 M0,7L4,5 M5,2.5H10 M7.5,0.5V4.5 M5.5,4.5H9.5L5.5,10 M6.5,6.5L10,10" fill="none" stroke="#b9b9b9" stroke-width="1.3" stroke-opacity="0.9"/></g>
<g><path d="M85,730 L89,740 L92,733 L94.5,740" fill="none" stroke="#cdd6e2" stroke-width="1.5" stroke-opacity="0.9"/><path d="M93.3,740.2 L97,725.3 L98.8,726.2 L95.8,740.2 Z" fill="url(#wg)" opacity="0.9"/><path d="M89.5,734 L93.5,740.2 L95.5,740.2 L92.3,734 Z" fill="#4a90e2" opacity="0.55"/><text x="100" y="739.8" font-size="15" textLength="37" lengthAdjust="spacingAndGlyphs" font-weight="bold" fill="#ffffff" fill-opacity="0.9" stroke="#c0c4c9" stroke-width="0.7">elch</text><path transform="translate(90,742) scale(0.65)" d="M2,1.5V7Q2,9 0.5,10 M2,1.5H8.5V9.5Q8.5,10 7,10 M2,4.5H8.5 M2,7H8.5" fill="none" stroke="#b9b9b9" stroke-width="1.3" stroke-opacity="0.9"/><path transform="translate(101.2,742) scale(0.65)" d="M0,3H4 M2,0.5V3Q2,8 0,10 M3.5,3V9Q3.5,10 5,10H10 M5.5,1H9.5V8H5.5Z M5.5,4.5H9.5" fill="none" stroke="#b9b9b9" stroke-width="1.3" stroke-opacity="0.9"/><path transform="translate(112.4,742) scale(0.65)" d="M0.5,2L4,1 M0,4H4.5 M2.3,1V10 M2.3,5L0,8 M2.3,5L4.5,7 M6,1.5L7,2.5 M5.5,4L6.5,5 M5,7H10 M8.5,0.5V10" fill="none" stroke="#b9b9b9" stroke-width="1.3" stroke-opacity="0.9"/><path transform="translate(123.6,742) scale(0.65)" d="M0,3H4 M2,0.5V9.5L1,9 M0,7L4,5 M5,2.5H10 M7.5,0.5V4.5 M5.5,4.5H9.5L5.5,10 M6.5,6.5L10,10" fill="none" stroke="#b9b9b9" stroke-width="1.3" stroke-opacity="0.9"/></g>
<g><path d="M312.9,730 L316.9,740 L319.9,733 L322.4,740" fill="none" stroke="#cdd6e2" stroke-width="1.5" stroke-opacity="0.9"/><path d="M321.2,740.2 L324.9,725.3 L326.7,726.2 L323.7,740.2 Z" fill="url(#wg)" opacity="0.9"/><path d="M317.4,734 L321.4,740.2 L323.4,740.2 L320.2,734 Z" fill="#4a90e2" opacity="0.55"/><text x="327.9" y="739.8" font-size="15" textLength="37" lengthAdjust="spacingAndGlyphs" font-weight="bold" fill="#ffffff" fill-opacity="0.9" stroke="#c0c4c9" stroke-width="0.7">elch</text><path transform="translate(317.9,742) scale(0.65)" d="M2,1.5V7Q2,9 0.5,10 M2,1.5H8.5V9.5Q8.5,10 7,10 M2,4.5H8.5 M2,7H8.5" fill="none" stroke="#b9b9b9" stroke-width="1.3" stroke-opacity="0.9"/><path transform="translate(329.1,742) scale(0.65)" d="M0,3H4 M2,0.5V3Q2,8 0,10 M3.5,3V9Q3.5,10 5,10H10 M5.5,1H9.5V8H5.5Z M5.5,4.5H9.5" fill="none" stroke="#b9b9b9" stroke-width="1.3" stroke-opacity="0.9"/><path transform="translate(340.3,742) scale(0.65)" d="M0.5,2L4,1 M0,4H4.5 M2.3,1V10 M2.3,5L0,8 M2.3,5L4.5,7 M6,1.5L7,2.5 M5.5,4L6.5,5 M5,7H10 M8.5,0.5V10" fill="none" stroke="#b9b9b9" stroke-width="1.3" stroke-opacity="0.9"/><path transform="translate(351.5,742) scale(0.65)" d="M0,3H4 M2,0.5V9.5L1,9 M0,7L4,5 M5,2.5H10 M7.5,0.5V4.5 M5.5,4.5H9.5L5.5,10 M6.5,6.5L10,10" fill="none" stroke="#b9b9b9" stroke-width="1.3" stroke-opacity="0.9"/></g>
<g><path d="M540.7,730 L544.7,740 L547.7,733 L550.2,740" fill="none" stroke="#cdd6e2" stroke-width="1.5" stroke-opacity="0.9"/><path d="M549,740.2 L552.7,725.3 L554.5,726.2 L551.5,740.2 Z" fill="url(#wg)" opacity="0.9"/><path d="M545.2,734 L549.2,740.2 L551.2,740.2 L548,734 Z" fill="#4a90e2" opacity="0.55"/><text x="555.7" y="739.8" font-size="15" textLength="37" lengthAdjust="spacingAndGlyphs" font-weight="bold" fill="#ffffff" fill-opacity="0.9" stroke="#c0c4c9" stroke-width="0.7">elch</text><path transform="translate(545.7,742) scale(0.65)" d="M2,1.5V7Q2,9 0.5,10 M2,1.5H8.5V9.5Q8.5,10 7,10 M2,4.5H8.5 M2,7H8.5" fill="none" stroke="#b9b9b9" stroke-width="1.3" stroke-opacity="0.9"/><path transform="translate(556.9,742) scale(0.65)" d="M0,3H4 M2,0.5V3Q2,8 0,10 M3.5,3V9Q3.5,10 5,10H10 M5.5,1H9.5V8H5.5Z M5.5,4.5H9.5" fill="none" stroke="#b9b9b9" stroke-width="1.3" stroke-opacity="0.9"/><path transform="translate(568.1,742) scale(0.65)" d="M0.5,2L4,1 M0,4H4.5 M2.3,1V10 M2.3,5L0,8 M2.3,5L4.5,7 M6,1.5L7,2.5 M5.5,4L6.5,5 M5,7H10 M8.5,0.5V10" fill="none" stroke="#b9b9b9" stroke-width="1.3" stroke-opacity="0.9"/><path transform="translate(579.3,742) scale(0.65)" d="M0,3H4 M2,0.5V9.5L1,9 M0,7L4,5 M5,2.5H10 M7.5,0.5V4.5 M5.5,4.5H9.5L5.5,10 M6.5,6.5L10,10" fill="none" stroke="#b9b9b9" stroke-width="1.3" stroke-opacity="0.9"/></g>
</g>
</svg></body></html>
